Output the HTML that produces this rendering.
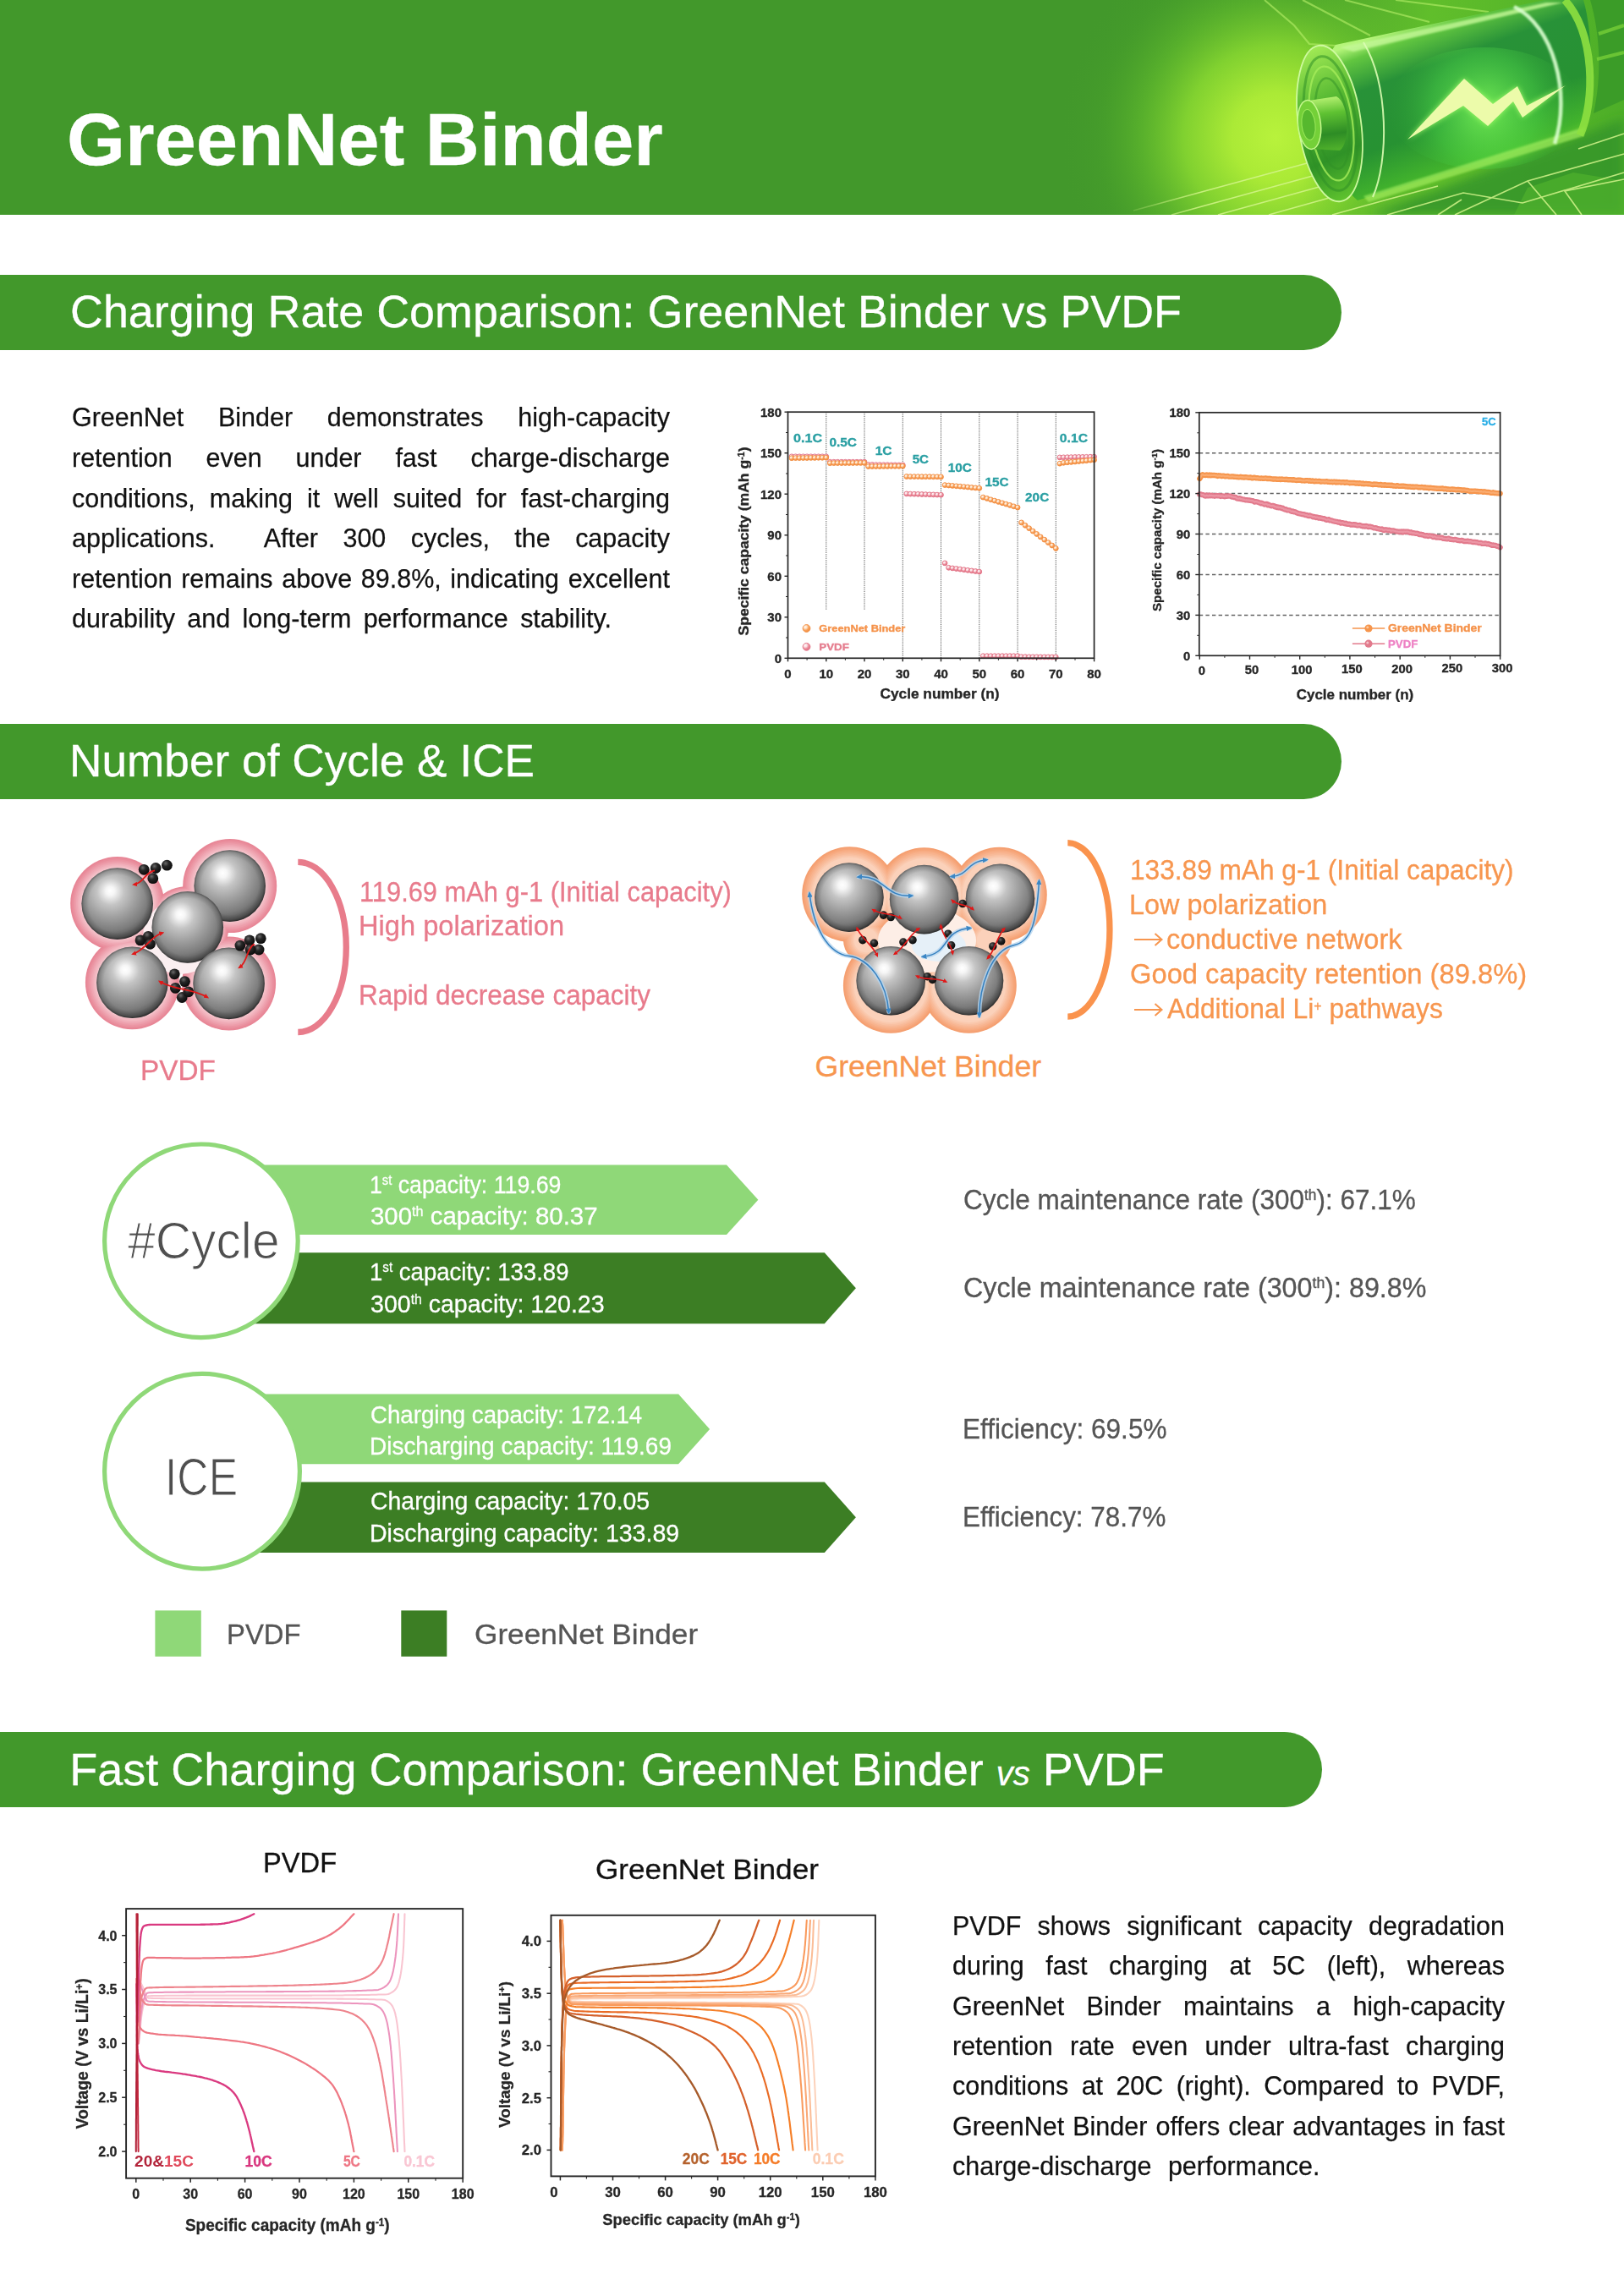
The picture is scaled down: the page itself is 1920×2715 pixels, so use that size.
<!DOCTYPE html>
<html lang="en"><head><meta charset="utf-8"><title>GreenNet Binder</title>
<style>
html,body{margin:0;padding:0;background:#fff}
body{width:1920px;height:2715px;position:relative;overflow:hidden;font-family:'Liberation Sans', sans-serif}
.abs{position:absolute}
.t{position:absolute;white-space:pre;margin:0;-webkit-text-stroke:0.3px currentColor}
.j{position:absolute;white-space:nowrap;text-align:justify;margin:0;-webkit-text-stroke:0.25px currentColor}
.blur{filter:blur(0.45px)}
.bar{position:absolute;left:0;height:89px;background:#42982b;border-radius:0 44.5px 44.5px 0}
</style></head>
<body>
<div class="abs" style="left:0;top:0;width:1920px;height:254px;background:#42982b"></div>
<svg class="abs" style="left:1100px;top:0" width="820" height="254" viewBox="1100 0 820 254">
<defs>
<radialGradient id="glow" gradientUnits="userSpaceOnUse" cx="1508" cy="162" r="258"><stop offset="0" stop-color="#b8f23c"/><stop offset="0.2" stop-color="#abea36"/><stop offset="0.42" stop-color="#84d430" stop-opacity="0.95"/><stop offset="0.62" stop-color="#60b92c" stop-opacity="0.7"/><stop offset="0.82" stop-color="#4aa32a" stop-opacity="0.3"/><stop offset="1" stop-color="#42982b" stop-opacity="0"/></radialGradient>
<linearGradient id="rt" gradientUnits="userSpaceOnUse" x1="1540" y1="0" x2="1920" y2="0"><stop offset="0" stop-color="#6cc82d" stop-opacity="0"/><stop offset="0.4" stop-color="#62c02b" stop-opacity="0.95"/><stop offset="1" stop-color="#4dae28"/></linearGradient>
<linearGradient id="body" gradientUnits="userSpaceOnUse" x1="1690" y1="20" x2="1762" y2="218"><stop offset="0" stop-color="#b5f57a"/><stop offset="0.08" stop-color="#62c640"/><stop offset="0.26" stop-color="#289238"/><stop offset="0.60" stop-color="#279232"/><stop offset="0.84" stop-color="#43b42c"/><stop offset="1" stop-color="#86de34"/></linearGradient>
<linearGradient id="cap" gradientUnits="userSpaceOnUse" x1="1545" y1="60" x2="1600" y2="235"><stop offset="0" stop-color="#a2ea55"/><stop offset="0.35" stop-color="#55b832"/><stop offset="0.7" stop-color="#2f9227"/><stop offset="1" stop-color="#63c72e"/></linearGradient>
<linearGradient id="nub" gradientUnits="userSpaceOnUse" x1="1560" y1="116" x2="1568" y2="178"><stop offset="0" stop-color="#b4f070"/><stop offset="0.3" stop-color="#5fc232"/><stop offset="0.7" stop-color="#2d8c25"/><stop offset="1" stop-color="#4fb02b"/></linearGradient>
<radialGradient id="boltglow" gradientUnits="userSpaceOnUse" cx="1755" cy="128" r="115"><stop offset="0" stop-color="#86ff5e" stop-opacity="0.8"/><stop offset="0.55" stop-color="#52dc4a" stop-opacity="0.4"/><stop offset="1" stop-color="#2c9a33" stop-opacity="0"/></radialGradient>
<linearGradient id="fade" gradientUnits="userSpaceOnUse" x1="1317" y1="0" x2="1420" y2="0"><stop offset="0" stop-color="#fff" stop-opacity="0"/><stop offset="1" stop-color="#fff"/></linearGradient>
<mask id="fm"><rect x="1100" y="0" width="820" height="254" fill="url(#fade)"/></mask>
<filter id="b1"><feGaussianBlur stdDeviation="1.2"/></filter><filter id="b3"><feGaussianBlur stdDeviation="3"/></filter><filter id="b6"><feGaussianBlur stdDeviation="6"/></filter>
</defs>
<rect x="1100" y="0" width="820" height="254" fill="url(#glow)"/>
<rect x="1540" y="0" width="380" height="254" fill="url(#rt)"/>
<path d="M1620,254 L1700,224 L1880,156 L1920,140 L1920,254 Z" fill="#35952a" opacity="0.85" filter="url(#b6)"/>
<path d="M1790,254 L1806,222 L1860,204 L1920,214 L1920,254 Z" fill="#56b82e" opacity="0.55"/>
<g mask="url(#fm)">
<g stroke="#d4f58c" stroke-width="1.7" fill="none" opacity="0.85"><path d="M1340,249 L1556,190"/><path d="M1385,254 L1570,203"/><path d="M1440,254 L1585,214"/><path d="M1500,254 L1600,226"/><path d="M1575,254 L1640,236 L1700,220"/><path d="M1640,254 L1730,228 L1800,240 L1920,204"/><path d="M1700,254 L1728,236"/><path d="M1720,254 L1806,214 L1920,182"/><path d="M1806,214 L1840,254"/><path d="M1870,254 L1850,226 L1920,212"/><path d="M1866,176 L1920,158"/></g>
<g stroke="#b8f06a" stroke-width="2.2" opacity="0.6" fill="none"><path d="M1495,0 L1530,30 L1548,52 L1580,54"/><path d="M1540,0 L1620,42"/><path d="M1590,0 L1690,26"/><path d="M1650,0 L1760,14"/></g>
</g>
<path d="M1579,53 L1826,0 L1872,0 C1884,40 1884,120 1874,154 L1605,237 C1560,200 1548,95 1579,53 Z" fill="url(#body)"/>
<ellipse cx="1755" cy="128" rx="115" ry="72" fill="url(#boltglow)"/>
<path d="M1584,56 L1828,3 L1848,3 L1600,61 Z" fill="#c6f99a" opacity="0.8" filter="url(#b1)"/>
<path d="M1612,232 L1874,150 L1872,161 L1618,239 Z" fill="#a5ee60" opacity="0.65" filter="url(#b1)"/>
<path d="M1790,8 C1836,30 1858,110 1838,170" fill="none" stroke="#dcffd0" stroke-width="4.5" opacity="0.9" filter="url(#b1)"/>
<path d="M1850,0 C1886,40 1886,120 1868,160" fill="none" stroke="#8ee040" stroke-width="9" opacity="0.9"/>
<path d="M1880,0 L1920,0 L1920,118 L1884,134 C1894,90 1892,40 1880,0Z" fill="#3a9a28" opacity="0.92"/>
<path d="M1890,40 L1920,30 M1888,70 L1920,62" stroke="#7ed63a" stroke-width="4" opacity="0.7"/>
<ellipse cx="1572" cy="146" rx="37" ry="93" transform="rotate(-8 1572 146)" fill="url(#cap)"/>
<ellipse cx="1572" cy="146" rx="37" ry="93" transform="rotate(-8 1572 146)" fill="none" stroke="#d2fba4" stroke-width="1.8" opacity="0.95"/>
<ellipse cx="1573" cy="146" rx="30" ry="80" transform="rotate(-8 1573 146)" fill="none" stroke="#2f8f26" stroke-width="3" opacity="0.55"/>
<ellipse cx="1574" cy="146" rx="25" ry="68" transform="rotate(-8 1574 146)" fill="none" stroke="#a5ec5a" stroke-width="2.2" opacity="0.8"/>
<ellipse cx="1575" cy="146" rx="19" ry="54" transform="rotate(-8 1575 146)" fill="none" stroke="#2f8f26" stroke-width="2.5" opacity="0.5"/>
<path d="M1612,50 C1642,100 1642,190 1623,233" fill="none" stroke="#dcfdb4" stroke-width="2" opacity="0.9"/>
<path d="M1547,119 L1580,114 C1596,122 1596,170 1584,178 L1551,176 Z" fill="url(#nub)"/>
<ellipse cx="1548" cy="147.5" rx="13.5" ry="29" transform="rotate(-6 1548 147.5)" fill="#74d038" stroke="#c6f88e" stroke-width="1.5"/>
<ellipse cx="1547" cy="147.5" rx="8" ry="18" transform="rotate(-6 1547 147.5)" fill="#56b82e" stroke="#9be85a" stroke-width="1"/>
<path d="M1664,165 L1731,93 L1765,123 L1794,102 L1805,125 L1851,101 L1800,139 L1789,120 L1759,149 L1730,125 Z" fill="#aaff70" opacity="0.85" filter="url(#b3)"/>
<path d="M1664,165 L1731,93 L1765,123 L1794,102 L1805,125 L1851,101 L1800,139 L1789,120 L1759,149 L1730,125 Z" fill="#ecfbaa"/>
</svg>
<div class="bar" style="top:324.5px;width:1586px"></div>
<div class="bar" style="top:855.7px;width:1586px"></div>
<div class="bar" style="top:2047.7px;width:1562.6px"></div>
<div class="j" style="left:84.8px;top:478.4px;width:734.9px;font-size:31.7px;line-height:31.7px;color:#111111;transform:scaleX(0.962);transform-origin:0 0;text-align-last:justify">GreenNet Binder demonstrates high-capacity</div>
<div class="j" style="left:84.8px;top:525.9px;width:734.9px;font-size:31.7px;line-height:31.7px;color:#111111;transform:scaleX(0.962);transform-origin:0 0;text-align-last:justify">retention even under fast charge-discharge</div>
<div class="j" style="left:84.8px;top:573.5px;width:734.9px;font-size:31.7px;line-height:31.7px;color:#111111;transform:scaleX(0.962);transform-origin:0 0;text-align-last:justify">conditions, making it well suited for fast-charging</div>
<div class="j" style="left:84.8px;top:621.0px;width:734.9px;font-size:31.7px;line-height:31.7px;color:#111111;transform:scaleX(0.962);transform-origin:0 0;text-align-last:justify">applications.&nbsp; After 300 cycles, the capacity</div>
<div class="j" style="left:84.8px;top:668.6px;width:734.9px;font-size:31.7px;line-height:31.7px;color:#111111;transform:scaleX(0.962);transform-origin:0 0;text-align-last:justify">retention remains above 89.8%, indicating excellent</div>
<div class="j" style="left:84.8px;top:716.1px;width:663.2px;font-size:31.7px;line-height:31.7px;color:#111111;transform:scaleX(0.962);transform-origin:0 0;text-align-last:justify">durability and long-term performance stability.</div>
<div class="j" style="left:1126.3px;top:2262.0px;width:678.8px;font-size:31.7px;line-height:31.7px;color:#111111;transform:scaleX(0.962);transform-origin:0 0;text-align-last:justify">PVDF shows significant capacity degradation</div>
<div class="j" style="left:1126.3px;top:2309.3px;width:678.8px;font-size:31.7px;line-height:31.7px;color:#111111;transform:scaleX(0.962);transform-origin:0 0;text-align-last:justify">during fast charging at 5C (left), whereas</div>
<div class="j" style="left:1126.3px;top:2356.7px;width:678.8px;font-size:31.7px;line-height:31.7px;color:#111111;transform:scaleX(0.962);transform-origin:0 0;text-align-last:justify">GreenNet Binder maintains a high-capacity</div>
<div class="j" style="left:1126.3px;top:2404.1px;width:678.8px;font-size:31.7px;line-height:31.7px;color:#111111;transform:scaleX(0.962);transform-origin:0 0;text-align-last:justify">retention rate even under ultra-fast charging</div>
<div class="j" style="left:1126.3px;top:2451.4px;width:678.8px;font-size:31.7px;line-height:31.7px;color:#111111;transform:scaleX(0.962);transform-origin:0 0;text-align-last:justify">conditions at 20C (right). Compared to PVDF,</div>
<div class="j" style="left:1126.3px;top:2498.8px;width:678.8px;font-size:31.7px;line-height:31.7px;color:#111111;transform:scaleX(0.962);transform-origin:0 0;text-align-last:justify">GreenNet Binder offers clear advantages in fast</div>
<div class="j" style="left:1126.3px;top:2546.2px;width:451.7px;font-size:31.7px;line-height:31.7px;color:#111111;transform:scaleX(0.962);transform-origin:0 0;text-align-last:justify">charge-discharge performance.</div>
<svg class="abs blur" style="left:850px;top:460px" width="490" height="390" viewBox="850 460 490 390">
<defs>
<radialGradient id="mo" cx="35%" cy="32%" r="70%"><stop offset="0" stop-color="#fffaf4"/><stop offset="0.3" stop-color="#fde0c4"/><stop offset="0.62" stop-color="#f9a25c"/><stop offset="1" stop-color="#f08a3c"/></radialGradient>
<radialGradient id="mp" cx="35%" cy="32%" r="70%"><stop offset="0" stop-color="#fff8f9"/><stop offset="0.3" stop-color="#fadde2"/><stop offset="0.62" stop-color="#ec8c9b"/><stop offset="1" stop-color="#e06f83"/></radialGradient>
</defs>
<line x1="976.8" y1="487.2" x2="976.8" y2="721.7" stroke="#444" stroke-width="0.9" stroke-dasharray="1.2 1.1"/>
<line x1="1022.0" y1="487.2" x2="1022.0" y2="721.7" stroke="#444" stroke-width="0.9" stroke-dasharray="1.2 1.1"/>
<line x1="1067.3" y1="487.2" x2="1067.3" y2="778.3" stroke="#444" stroke-width="0.9" stroke-dasharray="1.2 1.1"/>
<line x1="1112.5" y1="487.2" x2="1112.5" y2="778.3" stroke="#444" stroke-width="0.9" stroke-dasharray="1.2 1.1"/>
<line x1="1157.8" y1="487.2" x2="1157.8" y2="778.3" stroke="#444" stroke-width="0.9" stroke-dasharray="1.2 1.1"/>
<line x1="1203.1" y1="487.2" x2="1203.1" y2="778.3" stroke="#444" stroke-width="0.9" stroke-dasharray="1.2 1.1"/>
<line x1="1248.3" y1="487.2" x2="1248.3" y2="778.3" stroke="#444" stroke-width="0.9" stroke-dasharray="1.2 1.1"/>
<circle cx="936.0" cy="539.8" r="2.9" fill="url(#mp)" stroke="#e27588" stroke-width="0.9"/>
<circle cx="940.6" cy="539.8" r="2.9" fill="url(#mp)" stroke="#e27588" stroke-width="0.9"/>
<circle cx="945.1" cy="539.8" r="2.9" fill="url(#mp)" stroke="#e27588" stroke-width="0.9"/>
<circle cx="949.6" cy="539.8" r="2.9" fill="url(#mp)" stroke="#e27588" stroke-width="0.9"/>
<circle cx="954.1" cy="539.8" r="2.9" fill="url(#mp)" stroke="#e27588" stroke-width="0.9"/>
<circle cx="958.7" cy="539.8" r="2.9" fill="url(#mp)" stroke="#e27588" stroke-width="0.9"/>
<circle cx="963.2" cy="539.8" r="2.9" fill="url(#mp)" stroke="#e27588" stroke-width="0.9"/>
<circle cx="967.7" cy="539.8" r="2.9" fill="url(#mp)" stroke="#e27588" stroke-width="0.9"/>
<circle cx="972.2" cy="539.8" r="2.9" fill="url(#mp)" stroke="#e27588" stroke-width="0.9"/>
<circle cx="976.8" cy="539.8" r="2.9" fill="url(#mp)" stroke="#e27588" stroke-width="0.9"/>
<circle cx="981.3" cy="546.2" r="2.9" fill="url(#mp)" stroke="#e27588" stroke-width="0.9"/>
<circle cx="985.8" cy="546.2" r="2.9" fill="url(#mp)" stroke="#e27588" stroke-width="0.9"/>
<circle cx="990.3" cy="546.2" r="2.9" fill="url(#mp)" stroke="#e27588" stroke-width="0.9"/>
<circle cx="994.9" cy="546.2" r="2.9" fill="url(#mp)" stroke="#e27588" stroke-width="0.9"/>
<circle cx="999.4" cy="546.2" r="2.9" fill="url(#mp)" stroke="#e27588" stroke-width="0.9"/>
<circle cx="1003.9" cy="546.2" r="2.9" fill="url(#mp)" stroke="#e27588" stroke-width="0.9"/>
<circle cx="1008.4" cy="546.2" r="2.9" fill="url(#mp)" stroke="#e27588" stroke-width="0.9"/>
<circle cx="1013.0" cy="546.2" r="2.9" fill="url(#mp)" stroke="#e27588" stroke-width="0.9"/>
<circle cx="1017.5" cy="546.2" r="2.9" fill="url(#mp)" stroke="#e27588" stroke-width="0.9"/>
<circle cx="1022.0" cy="546.2" r="2.9" fill="url(#mp)" stroke="#e27588" stroke-width="0.9"/>
<circle cx="1026.6" cy="549.5" r="2.9" fill="url(#mp)" stroke="#e27588" stroke-width="0.9"/>
<circle cx="1031.1" cy="549.5" r="2.9" fill="url(#mp)" stroke="#e27588" stroke-width="0.9"/>
<circle cx="1035.6" cy="549.6" r="2.9" fill="url(#mp)" stroke="#e27588" stroke-width="0.9"/>
<circle cx="1040.1" cy="549.6" r="2.9" fill="url(#mp)" stroke="#e27588" stroke-width="0.9"/>
<circle cx="1044.7" cy="549.7" r="2.9" fill="url(#mp)" stroke="#e27588" stroke-width="0.9"/>
<circle cx="1049.2" cy="549.7" r="2.9" fill="url(#mp)" stroke="#e27588" stroke-width="0.9"/>
<circle cx="1053.7" cy="549.8" r="2.9" fill="url(#mp)" stroke="#e27588" stroke-width="0.9"/>
<circle cx="1058.2" cy="549.8" r="2.9" fill="url(#mp)" stroke="#e27588" stroke-width="0.9"/>
<circle cx="1062.8" cy="549.9" r="2.9" fill="url(#mp)" stroke="#e27588" stroke-width="0.9"/>
<circle cx="1067.3" cy="549.9" r="2.9" fill="url(#mp)" stroke="#e27588" stroke-width="0.9"/>
<circle cx="1071.8" cy="583.9" r="2.9" fill="url(#mp)" stroke="#e27588" stroke-width="0.9"/>
<circle cx="1076.3" cy="584.1" r="2.9" fill="url(#mp)" stroke="#e27588" stroke-width="0.9"/>
<circle cx="1080.9" cy="584.2" r="2.9" fill="url(#mp)" stroke="#e27588" stroke-width="0.9"/>
<circle cx="1085.4" cy="584.3" r="2.9" fill="url(#mp)" stroke="#e27588" stroke-width="0.9"/>
<circle cx="1089.9" cy="584.5" r="2.9" fill="url(#mp)" stroke="#e27588" stroke-width="0.9"/>
<circle cx="1094.4" cy="584.6" r="2.9" fill="url(#mp)" stroke="#e27588" stroke-width="0.9"/>
<circle cx="1099.0" cy="584.8" r="2.9" fill="url(#mp)" stroke="#e27588" stroke-width="0.9"/>
<circle cx="1103.5" cy="584.9" r="2.9" fill="url(#mp)" stroke="#e27588" stroke-width="0.9"/>
<circle cx="1108.0" cy="585.1" r="2.9" fill="url(#mp)" stroke="#e27588" stroke-width="0.9"/>
<circle cx="1112.5" cy="585.2" r="2.9" fill="url(#mp)" stroke="#e27588" stroke-width="0.9"/>
<circle cx="1117.1" cy="665.9" r="2.9" fill="url(#mp)" stroke="#e27588" stroke-width="0.9"/>
<circle cx="1121.6" cy="671.3" r="2.9" fill="url(#mp)" stroke="#e27588" stroke-width="0.9"/>
<circle cx="1126.1" cy="671.9" r="2.9" fill="url(#mp)" stroke="#e27588" stroke-width="0.9"/>
<circle cx="1130.7" cy="672.5" r="2.9" fill="url(#mp)" stroke="#e27588" stroke-width="0.9"/>
<circle cx="1135.2" cy="673.1" r="2.9" fill="url(#mp)" stroke="#e27588" stroke-width="0.9"/>
<circle cx="1139.7" cy="673.7" r="2.9" fill="url(#mp)" stroke="#e27588" stroke-width="0.9"/>
<circle cx="1144.2" cy="674.3" r="2.9" fill="url(#mp)" stroke="#e27588" stroke-width="0.9"/>
<circle cx="1148.8" cy="674.9" r="2.9" fill="url(#mp)" stroke="#e27588" stroke-width="0.9"/>
<circle cx="1153.3" cy="675.5" r="2.9" fill="url(#mp)" stroke="#e27588" stroke-width="0.9"/>
<circle cx="1157.8" cy="676.1" r="2.9" fill="url(#mp)" stroke="#e27588" stroke-width="0.9"/>
<circle cx="1162.3" cy="775.7" r="2.9" fill="url(#mp)" stroke="#e27588" stroke-width="0.9"/>
<circle cx="1166.9" cy="775.7" r="2.9" fill="url(#mp)" stroke="#e27588" stroke-width="0.9"/>
<circle cx="1171.4" cy="775.7" r="2.9" fill="url(#mp)" stroke="#e27588" stroke-width="0.9"/>
<circle cx="1175.9" cy="775.7" r="2.9" fill="url(#mp)" stroke="#e27588" stroke-width="0.9"/>
<circle cx="1180.4" cy="775.7" r="2.9" fill="url(#mp)" stroke="#e27588" stroke-width="0.9"/>
<circle cx="1185.0" cy="775.7" r="2.9" fill="url(#mp)" stroke="#e27588" stroke-width="0.9"/>
<circle cx="1189.5" cy="775.7" r="2.9" fill="url(#mp)" stroke="#e27588" stroke-width="0.9"/>
<circle cx="1194.0" cy="775.7" r="2.9" fill="url(#mp)" stroke="#e27588" stroke-width="0.9"/>
<circle cx="1198.5" cy="775.7" r="2.9" fill="url(#mp)" stroke="#e27588" stroke-width="0.9"/>
<circle cx="1203.1" cy="775.7" r="2.9" fill="url(#mp)" stroke="#e27588" stroke-width="0.9"/>
<circle cx="1207.6" cy="776.7" r="2.9" fill="url(#mp)" stroke="#e27588" stroke-width="0.9"/>
<circle cx="1212.1" cy="776.7" r="2.9" fill="url(#mp)" stroke="#e27588" stroke-width="0.9"/>
<circle cx="1216.7" cy="776.8" r="2.9" fill="url(#mp)" stroke="#e27588" stroke-width="0.9"/>
<circle cx="1221.2" cy="776.8" r="2.9" fill="url(#mp)" stroke="#e27588" stroke-width="0.9"/>
<circle cx="1225.7" cy="776.8" r="2.9" fill="url(#mp)" stroke="#e27588" stroke-width="0.9"/>
<circle cx="1230.2" cy="776.9" r="2.9" fill="url(#mp)" stroke="#e27588" stroke-width="0.9"/>
<circle cx="1234.8" cy="776.9" r="2.9" fill="url(#mp)" stroke="#e27588" stroke-width="0.9"/>
<circle cx="1239.3" cy="776.9" r="2.9" fill="url(#mp)" stroke="#e27588" stroke-width="0.9"/>
<circle cx="1243.8" cy="777.0" r="2.9" fill="url(#mp)" stroke="#e27588" stroke-width="0.9"/>
<circle cx="1248.3" cy="777.0" r="2.9" fill="url(#mp)" stroke="#e27588" stroke-width="0.9"/>
<circle cx="1252.9" cy="540.9" r="2.9" fill="url(#mp)" stroke="#e27588" stroke-width="0.9"/>
<circle cx="1257.4" cy="540.8" r="2.9" fill="url(#mp)" stroke="#e27588" stroke-width="0.9"/>
<circle cx="1261.9" cy="540.7" r="2.9" fill="url(#mp)" stroke="#e27588" stroke-width="0.9"/>
<circle cx="1266.4" cy="540.6" r="2.9" fill="url(#mp)" stroke="#e27588" stroke-width="0.9"/>
<circle cx="1271.0" cy="540.5" r="2.9" fill="url(#mp)" stroke="#e27588" stroke-width="0.9"/>
<circle cx="1275.5" cy="540.4" r="2.9" fill="url(#mp)" stroke="#e27588" stroke-width="0.9"/>
<circle cx="1280.0" cy="540.4" r="2.9" fill="url(#mp)" stroke="#e27588" stroke-width="0.9"/>
<circle cx="1284.5" cy="540.3" r="2.9" fill="url(#mp)" stroke="#e27588" stroke-width="0.9"/>
<circle cx="1289.1" cy="540.2" r="2.9" fill="url(#mp)" stroke="#e27588" stroke-width="0.9"/>
<circle cx="1293.6" cy="540.1" r="2.9" fill="url(#mp)" stroke="#e27588" stroke-width="0.9"/>
<circle cx="936.0" cy="541.7" r="2.9" fill="url(#mo)" stroke="#f28d42" stroke-width="0.9"/>
<circle cx="940.6" cy="541.6" r="2.9" fill="url(#mo)" stroke="#f28d42" stroke-width="0.9"/>
<circle cx="945.1" cy="541.6" r="2.9" fill="url(#mo)" stroke="#f28d42" stroke-width="0.9"/>
<circle cx="949.6" cy="541.5" r="2.9" fill="url(#mo)" stroke="#f28d42" stroke-width="0.9"/>
<circle cx="954.1" cy="541.5" r="2.9" fill="url(#mo)" stroke="#f28d42" stroke-width="0.9"/>
<circle cx="958.7" cy="541.4" r="2.9" fill="url(#mo)" stroke="#f28d42" stroke-width="0.9"/>
<circle cx="963.2" cy="541.4" r="2.9" fill="url(#mo)" stroke="#f28d42" stroke-width="0.9"/>
<circle cx="967.7" cy="541.3" r="2.9" fill="url(#mo)" stroke="#f28d42" stroke-width="0.9"/>
<circle cx="972.2" cy="541.3" r="2.9" fill="url(#mo)" stroke="#f28d42" stroke-width="0.9"/>
<circle cx="976.8" cy="541.2" r="2.9" fill="url(#mo)" stroke="#f28d42" stroke-width="0.9"/>
<circle cx="981.3" cy="547.7" r="2.9" fill="url(#mo)" stroke="#f28d42" stroke-width="0.9"/>
<circle cx="985.8" cy="547.6" r="2.9" fill="url(#mo)" stroke="#f28d42" stroke-width="0.9"/>
<circle cx="990.3" cy="547.6" r="2.9" fill="url(#mo)" stroke="#f28d42" stroke-width="0.9"/>
<circle cx="994.9" cy="547.6" r="2.9" fill="url(#mo)" stroke="#f28d42" stroke-width="0.9"/>
<circle cx="999.4" cy="547.5" r="2.9" fill="url(#mo)" stroke="#f28d42" stroke-width="0.9"/>
<circle cx="1003.9" cy="547.5" r="2.9" fill="url(#mo)" stroke="#f28d42" stroke-width="0.9"/>
<circle cx="1008.4" cy="547.5" r="2.9" fill="url(#mo)" stroke="#f28d42" stroke-width="0.9"/>
<circle cx="1013.0" cy="547.4" r="2.9" fill="url(#mo)" stroke="#f28d42" stroke-width="0.9"/>
<circle cx="1017.5" cy="547.4" r="2.9" fill="url(#mo)" stroke="#f28d42" stroke-width="0.9"/>
<circle cx="1022.0" cy="547.4" r="2.9" fill="url(#mo)" stroke="#f28d42" stroke-width="0.9"/>
<circle cx="1026.6" cy="551.6" r="2.9" fill="url(#mo)" stroke="#f28d42" stroke-width="0.9"/>
<circle cx="1031.1" cy="551.5" r="2.9" fill="url(#mo)" stroke="#f28d42" stroke-width="0.9"/>
<circle cx="1035.6" cy="551.5" r="2.9" fill="url(#mo)" stroke="#f28d42" stroke-width="0.9"/>
<circle cx="1040.1" cy="551.5" r="2.9" fill="url(#mo)" stroke="#f28d42" stroke-width="0.9"/>
<circle cx="1044.7" cy="551.4" r="2.9" fill="url(#mo)" stroke="#f28d42" stroke-width="0.9"/>
<circle cx="1049.2" cy="551.4" r="2.9" fill="url(#mo)" stroke="#f28d42" stroke-width="0.9"/>
<circle cx="1053.7" cy="551.3" r="2.9" fill="url(#mo)" stroke="#f28d42" stroke-width="0.9"/>
<circle cx="1058.2" cy="551.3" r="2.9" fill="url(#mo)" stroke="#f28d42" stroke-width="0.9"/>
<circle cx="1062.8" cy="551.3" r="2.9" fill="url(#mo)" stroke="#f28d42" stroke-width="0.9"/>
<circle cx="1067.3" cy="551.2" r="2.9" fill="url(#mo)" stroke="#f28d42" stroke-width="0.9"/>
<circle cx="1071.8" cy="563.5" r="2.9" fill="url(#mo)" stroke="#f28d42" stroke-width="0.9"/>
<circle cx="1076.3" cy="563.6" r="2.9" fill="url(#mo)" stroke="#f28d42" stroke-width="0.9"/>
<circle cx="1080.9" cy="563.6" r="2.9" fill="url(#mo)" stroke="#f28d42" stroke-width="0.9"/>
<circle cx="1085.4" cy="563.6" r="2.9" fill="url(#mo)" stroke="#f28d42" stroke-width="0.9"/>
<circle cx="1089.9" cy="563.7" r="2.9" fill="url(#mo)" stroke="#f28d42" stroke-width="0.9"/>
<circle cx="1094.4" cy="563.7" r="2.9" fill="url(#mo)" stroke="#f28d42" stroke-width="0.9"/>
<circle cx="1099.0" cy="563.7" r="2.9" fill="url(#mo)" stroke="#f28d42" stroke-width="0.9"/>
<circle cx="1103.5" cy="563.8" r="2.9" fill="url(#mo)" stroke="#f28d42" stroke-width="0.9"/>
<circle cx="1108.0" cy="563.8" r="2.9" fill="url(#mo)" stroke="#f28d42" stroke-width="0.9"/>
<circle cx="1112.5" cy="563.9" r="2.9" fill="url(#mo)" stroke="#f28d42" stroke-width="0.9"/>
<circle cx="1117.1" cy="573.6" r="2.9" fill="url(#mo)" stroke="#f28d42" stroke-width="0.9"/>
<circle cx="1121.6" cy="574.0" r="2.9" fill="url(#mo)" stroke="#f28d42" stroke-width="0.9"/>
<circle cx="1126.1" cy="574.4" r="2.9" fill="url(#mo)" stroke="#f28d42" stroke-width="0.9"/>
<circle cx="1130.7" cy="574.8" r="2.9" fill="url(#mo)" stroke="#f28d42" stroke-width="0.9"/>
<circle cx="1135.2" cy="575.2" r="2.9" fill="url(#mo)" stroke="#f28d42" stroke-width="0.9"/>
<circle cx="1139.7" cy="575.6" r="2.9" fill="url(#mo)" stroke="#f28d42" stroke-width="0.9"/>
<circle cx="1144.2" cy="576.0" r="2.9" fill="url(#mo)" stroke="#f28d42" stroke-width="0.9"/>
<circle cx="1148.8" cy="576.5" r="2.9" fill="url(#mo)" stroke="#f28d42" stroke-width="0.9"/>
<circle cx="1153.3" cy="576.9" r="2.9" fill="url(#mo)" stroke="#f28d42" stroke-width="0.9"/>
<circle cx="1157.8" cy="577.3" r="2.9" fill="url(#mo)" stroke="#f28d42" stroke-width="0.9"/>
<circle cx="1162.3" cy="588.1" r="2.9" fill="url(#mo)" stroke="#f28d42" stroke-width="0.9"/>
<circle cx="1166.9" cy="589.4" r="2.9" fill="url(#mo)" stroke="#f28d42" stroke-width="0.9"/>
<circle cx="1171.4" cy="590.8" r="2.9" fill="url(#mo)" stroke="#f28d42" stroke-width="0.9"/>
<circle cx="1175.9" cy="592.1" r="2.9" fill="url(#mo)" stroke="#f28d42" stroke-width="0.9"/>
<circle cx="1180.4" cy="593.4" r="2.9" fill="url(#mo)" stroke="#f28d42" stroke-width="0.9"/>
<circle cx="1185.0" cy="594.8" r="2.9" fill="url(#mo)" stroke="#f28d42" stroke-width="0.9"/>
<circle cx="1189.5" cy="596.1" r="2.9" fill="url(#mo)" stroke="#f28d42" stroke-width="0.9"/>
<circle cx="1194.0" cy="597.4" r="2.9" fill="url(#mo)" stroke="#f28d42" stroke-width="0.9"/>
<circle cx="1198.5" cy="598.8" r="2.9" fill="url(#mo)" stroke="#f28d42" stroke-width="0.9"/>
<circle cx="1203.1" cy="600.1" r="2.9" fill="url(#mo)" stroke="#f28d42" stroke-width="0.9"/>
<circle cx="1207.6" cy="617.9" r="2.9" fill="url(#mo)" stroke="#f28d42" stroke-width="0.9"/>
<circle cx="1212.1" cy="621.3" r="2.9" fill="url(#mo)" stroke="#f28d42" stroke-width="0.9"/>
<circle cx="1216.7" cy="624.7" r="2.9" fill="url(#mo)" stroke="#f28d42" stroke-width="0.9"/>
<circle cx="1221.2" cy="628.1" r="2.9" fill="url(#mo)" stroke="#f28d42" stroke-width="0.9"/>
<circle cx="1225.7" cy="631.5" r="2.9" fill="url(#mo)" stroke="#f28d42" stroke-width="0.9"/>
<circle cx="1230.2" cy="634.9" r="2.9" fill="url(#mo)" stroke="#f28d42" stroke-width="0.9"/>
<circle cx="1234.8" cy="638.2" r="2.9" fill="url(#mo)" stroke="#f28d42" stroke-width="0.9"/>
<circle cx="1239.3" cy="641.6" r="2.9" fill="url(#mo)" stroke="#f28d42" stroke-width="0.9"/>
<circle cx="1243.8" cy="645.0" r="2.9" fill="url(#mo)" stroke="#f28d42" stroke-width="0.9"/>
<circle cx="1248.3" cy="648.4" r="2.9" fill="url(#mo)" stroke="#f28d42" stroke-width="0.9"/>
<circle cx="1252.9" cy="548.2" r="2.9" fill="url(#mo)" stroke="#f28d42" stroke-width="0.9"/>
<circle cx="1257.4" cy="547.3" r="2.9" fill="url(#mo)" stroke="#f28d42" stroke-width="0.9"/>
<circle cx="1261.9" cy="546.8" r="2.9" fill="url(#mo)" stroke="#f28d42" stroke-width="0.9"/>
<circle cx="1266.4" cy="546.4" r="2.9" fill="url(#mo)" stroke="#f28d42" stroke-width="0.9"/>
<circle cx="1271.0" cy="546.0" r="2.9" fill="url(#mo)" stroke="#f28d42" stroke-width="0.9"/>
<circle cx="1275.5" cy="545.5" r="2.9" fill="url(#mo)" stroke="#f28d42" stroke-width="0.9"/>
<circle cx="1280.0" cy="545.1" r="2.9" fill="url(#mo)" stroke="#f28d42" stroke-width="0.9"/>
<circle cx="1284.5" cy="544.7" r="2.9" fill="url(#mo)" stroke="#f28d42" stroke-width="0.9"/>
<circle cx="1289.1" cy="544.2" r="2.9" fill="url(#mo)" stroke="#f28d42" stroke-width="0.9"/>
<circle cx="1293.6" cy="543.8" r="2.9" fill="url(#mo)" stroke="#f28d42" stroke-width="0.9"/>
<rect x="931.5" y="487.2" width="362.1" height="291.1" fill="none" stroke="#262626" stroke-width="1.7"/>
<line x1="927.5" y1="778.3" x2="931.5" y2="778.3" stroke="#262626" stroke-width="1.4"/>
<text x="924.0" y="783.6" font-family="'Liberation Sans', sans-serif" font-weight="700" font-size="15" fill="#262626" stroke="#262626" stroke-width="0.35" text-anchor="end">0</text>
<line x1="927.5" y1="729.8" x2="931.5" y2="729.8" stroke="#262626" stroke-width="1.4"/>
<text x="924.0" y="735.1" font-family="'Liberation Sans', sans-serif" font-weight="700" font-size="15" fill="#262626" stroke="#262626" stroke-width="0.35" text-anchor="end">30</text>
<line x1="927.5" y1="681.3" x2="931.5" y2="681.3" stroke="#262626" stroke-width="1.4"/>
<text x="924.0" y="686.6" font-family="'Liberation Sans', sans-serif" font-weight="700" font-size="15" fill="#262626" stroke="#262626" stroke-width="0.35" text-anchor="end">60</text>
<line x1="927.5" y1="632.8" x2="931.5" y2="632.8" stroke="#262626" stroke-width="1.4"/>
<text x="924.0" y="638.0" font-family="'Liberation Sans', sans-serif" font-weight="700" font-size="15" fill="#262626" stroke="#262626" stroke-width="0.35" text-anchor="end">90</text>
<line x1="927.5" y1="584.2" x2="931.5" y2="584.2" stroke="#262626" stroke-width="1.4"/>
<text x="924.0" y="589.5" font-family="'Liberation Sans', sans-serif" font-weight="700" font-size="15" fill="#262626" stroke="#262626" stroke-width="0.35" text-anchor="end">120</text>
<line x1="927.5" y1="535.7" x2="931.5" y2="535.7" stroke="#262626" stroke-width="1.4"/>
<text x="924.0" y="541.0" font-family="'Liberation Sans', sans-serif" font-weight="700" font-size="15" fill="#262626" stroke="#262626" stroke-width="0.35" text-anchor="end">150</text>
<line x1="927.5" y1="487.2" x2="931.5" y2="487.2" stroke="#262626" stroke-width="1.4"/>
<text x="924.0" y="492.5" font-family="'Liberation Sans', sans-serif" font-weight="700" font-size="15" fill="#262626" stroke="#262626" stroke-width="0.35" text-anchor="end">180</text>
<line x1="929.0" y1="754.0" x2="931.5" y2="754.0" stroke="#262626" stroke-width="1"/>
<line x1="929.0" y1="705.5" x2="931.5" y2="705.5" stroke="#262626" stroke-width="1"/>
<line x1="929.0" y1="657.0" x2="931.5" y2="657.0" stroke="#262626" stroke-width="1"/>
<line x1="929.0" y1="608.5" x2="931.5" y2="608.5" stroke="#262626" stroke-width="1"/>
<line x1="929.0" y1="560.0" x2="931.5" y2="560.0" stroke="#262626" stroke-width="1"/>
<line x1="929.0" y1="511.5" x2="931.5" y2="511.5" stroke="#262626" stroke-width="1"/>
<line x1="931.5" y1="778.3" x2="931.5" y2="782.3" stroke="#262626" stroke-width="1.4"/>
<text x="931.5" y="801.5" font-family="'Liberation Sans', sans-serif" font-weight="700" font-size="15" fill="#262626" stroke="#262626" stroke-width="0.35" text-anchor="middle">0</text>
<line x1="976.8" y1="778.3" x2="976.8" y2="782.3" stroke="#262626" stroke-width="1.4"/>
<text x="976.8" y="801.5" font-family="'Liberation Sans', sans-serif" font-weight="700" font-size="15" fill="#262626" stroke="#262626" stroke-width="0.35" text-anchor="middle">10</text>
<line x1="1022.0" y1="778.3" x2="1022.0" y2="782.3" stroke="#262626" stroke-width="1.4"/>
<text x="1022.0" y="801.5" font-family="'Liberation Sans', sans-serif" font-weight="700" font-size="15" fill="#262626" stroke="#262626" stroke-width="0.35" text-anchor="middle">20</text>
<line x1="1067.3" y1="778.3" x2="1067.3" y2="782.3" stroke="#262626" stroke-width="1.4"/>
<text x="1067.3" y="801.5" font-family="'Liberation Sans', sans-serif" font-weight="700" font-size="15" fill="#262626" stroke="#262626" stroke-width="0.35" text-anchor="middle">30</text>
<line x1="1112.5" y1="778.3" x2="1112.5" y2="782.3" stroke="#262626" stroke-width="1.4"/>
<text x="1112.5" y="801.5" font-family="'Liberation Sans', sans-serif" font-weight="700" font-size="15" fill="#262626" stroke="#262626" stroke-width="0.35" text-anchor="middle">40</text>
<line x1="1157.8" y1="778.3" x2="1157.8" y2="782.3" stroke="#262626" stroke-width="1.4"/>
<text x="1157.8" y="801.5" font-family="'Liberation Sans', sans-serif" font-weight="700" font-size="15" fill="#262626" stroke="#262626" stroke-width="0.35" text-anchor="middle">50</text>
<line x1="1203.1" y1="778.3" x2="1203.1" y2="782.3" stroke="#262626" stroke-width="1.4"/>
<text x="1203.1" y="801.5" font-family="'Liberation Sans', sans-serif" font-weight="700" font-size="15" fill="#262626" stroke="#262626" stroke-width="0.35" text-anchor="middle">60</text>
<line x1="1248.3" y1="778.3" x2="1248.3" y2="782.3" stroke="#262626" stroke-width="1.4"/>
<text x="1248.3" y="801.5" font-family="'Liberation Sans', sans-serif" font-weight="700" font-size="15" fill="#262626" stroke="#262626" stroke-width="0.35" text-anchor="middle">70</text>
<line x1="1293.6" y1="778.3" x2="1293.6" y2="782.3" stroke="#262626" stroke-width="1.4"/>
<text x="1293.6" y="801.5" font-family="'Liberation Sans', sans-serif" font-weight="700" font-size="15" fill="#262626" stroke="#262626" stroke-width="0.35" text-anchor="middle">80</text>
<line x1="954.1" y1="778.3" x2="954.1" y2="780.8" stroke="#262626" stroke-width="1"/>
<line x1="999.4" y1="778.3" x2="999.4" y2="780.8" stroke="#262626" stroke-width="1"/>
<line x1="1044.7" y1="778.3" x2="1044.7" y2="780.8" stroke="#262626" stroke-width="1"/>
<line x1="1089.9" y1="778.3" x2="1089.9" y2="780.8" stroke="#262626" stroke-width="1"/>
<line x1="1135.2" y1="778.3" x2="1135.2" y2="780.8" stroke="#262626" stroke-width="1"/>
<line x1="1180.4" y1="778.3" x2="1180.4" y2="780.8" stroke="#262626" stroke-width="1"/>
<line x1="1225.7" y1="778.3" x2="1225.7" y2="780.8" stroke="#262626" stroke-width="1"/>
<line x1="1271.0" y1="778.3" x2="1271.0" y2="780.8" stroke="#262626" stroke-width="1"/>
<text x="1111" y="825.5" font-family="'Liberation Sans', sans-serif" font-weight="700" font-size="16.5" fill="#262626" stroke="#262626" stroke-width="0.35" text-anchor="middle" textLength="141" lengthAdjust="spacingAndGlyphs">Cycle number (n)</text>
<text transform="translate(884.5,640) rotate(-90)" font-family="'Liberation Sans', sans-serif" font-weight="700" font-size="16.5" fill="#262626" stroke="#262626" stroke-width="0.35" text-anchor="middle" textLength="223" lengthAdjust="spacingAndGlyphs">Specific capacity (mAh g<tspan dy="-5" font-size="10">-1</tspan><tspan dy="5">)</tspan></text>
<text x="938.1" y="522.8" font-family="'Liberation Sans', sans-serif" font-weight="700" font-size="15.5" fill="#2a9fa3" stroke="#2a9fa3" stroke-width="0.35" textLength="34.1" lengthAdjust="spacingAndGlyphs">0.1C</text>
<text x="980.4" y="528.2" font-family="'Liberation Sans', sans-serif" font-weight="700" font-size="15.5" fill="#2a9fa3" stroke="#2a9fa3" stroke-width="0.35" textLength="32.6" lengthAdjust="spacingAndGlyphs">0.5C</text>
<text x="1034.7" y="537.9" font-family="'Liberation Sans', sans-serif" font-weight="700" font-size="15.5" fill="#2a9fa3" stroke="#2a9fa3" stroke-width="0.35" textLength="19.9" lengthAdjust="spacingAndGlyphs">1C</text>
<text x="1078.7" y="548.1" font-family="'Liberation Sans', sans-serif" font-weight="700" font-size="15.5" fill="#2a9fa3" stroke="#2a9fa3" stroke-width="0.35" textLength="19.3" lengthAdjust="spacingAndGlyphs">5C</text>
<text x="1120.7" y="558.4" font-family="'Liberation Sans', sans-serif" font-weight="700" font-size="15.5" fill="#2a9fa3" stroke="#2a9fa3" stroke-width="0.35" textLength="28.1" lengthAdjust="spacingAndGlyphs">10C</text>
<text x="1164.4" y="575.0" font-family="'Liberation Sans', sans-serif" font-weight="700" font-size="15.5" fill="#2a9fa3" stroke="#2a9fa3" stroke-width="0.35" textLength="28.1" lengthAdjust="spacingAndGlyphs">15C</text>
<text x="1212.1" y="593.1" font-family="'Liberation Sans', sans-serif" font-weight="700" font-size="15.5" fill="#2a9fa3" stroke="#2a9fa3" stroke-width="0.35" textLength="28.1" lengthAdjust="spacingAndGlyphs">20C</text>
<text x="1252.8" y="522.8" font-family="'Liberation Sans', sans-serif" font-weight="700" font-size="15.5" fill="#2a9fa3" stroke="#2a9fa3" stroke-width="0.35" textLength="33.2" lengthAdjust="spacingAndGlyphs">0.1C</text>
<circle cx="953.5" cy="743" r="4.4" fill="url(#mo)" stroke="#f28d42" stroke-width="0.9"/>
<text x="968.3" y="746.8" font-family="'Liberation Sans', sans-serif" font-weight="700" font-size="11.6" fill="#f5924a" stroke="#f5924a" stroke-width="0.35" textLength="102" lengthAdjust="spacingAndGlyphs">GreenNet Binder</text>
<circle cx="953.5" cy="764.8" r="4.4" fill="url(#mp)" stroke="#e27588" stroke-width="0.9"/>
<text x="968.3" y="768.5" font-family="'Liberation Sans', sans-serif" font-weight="700" font-size="11.6" fill="#e57e8f" stroke="#e57e8f" stroke-width="0.35" textLength="35.6" lengthAdjust="spacingAndGlyphs">PVDF</text>
</svg>
<svg class="abs blur" style="left:1340px;top:460px" width="490" height="390" viewBox="1340 460 490 390">
<line x1="1417.8" y1="727.4" x2="1773.6" y2="727.4" stroke="#636363" stroke-width="1.5" stroke-dasharray="4.4 3.2"/>
<line x1="1417.8" y1="679.5" x2="1773.6" y2="679.5" stroke="#636363" stroke-width="1.5" stroke-dasharray="4.4 3.2"/>
<line x1="1417.8" y1="631.5" x2="1773.6" y2="631.5" stroke="#636363" stroke-width="1.5" stroke-dasharray="4.4 3.2"/>
<line x1="1417.8" y1="583.6" x2="1773.6" y2="583.6" stroke="#636363" stroke-width="1.5" stroke-dasharray="4.4 3.2"/>
<line x1="1417.8" y1="535.7" x2="1773.6" y2="535.7" stroke="#636363" stroke-width="1.5" stroke-dasharray="4.4 3.2"/>
<polyline points="1418.3,584.4 1419.5,584.4 1420.7,585.0 1421.9,585.1 1423.0,585.4 1424.2,586.4 1425.4,586.5 1426.6,585.6 1427.8,586.3 1429.0,586.4 1430.1,585.6 1431.3,586.2 1432.5,585.8 1433.7,586.3 1434.9,586.1 1436.1,586.7 1437.2,586.2 1438.4,586.0 1439.6,586.4 1440.8,586.2 1442.0,586.3 1443.2,587.0 1444.4,586.3 1445.5,586.5 1446.7,586.9 1447.9,587.2 1449.1,586.3 1450.3,586.8 1451.5,586.5 1452.6,586.4 1453.8,586.6 1455.0,586.6 1456.2,587.5 1457.4,587.4 1458.6,588.0 1459.8,587.8 1460.9,588.1 1462.1,589.3 1463.3,589.5 1464.5,589.7 1465.7,589.2 1466.9,590.0 1468.0,590.0 1469.2,590.6 1470.4,590.6 1471.6,591.0 1472.8,591.3 1474.0,591.2 1475.1,591.5 1476.3,591.4 1477.5,591.8 1478.7,591.8 1479.9,592.1 1481.1,592.2 1482.3,592.8 1483.4,593.6 1484.6,593.1 1485.8,593.3 1487.0,593.6 1488.2,594.3 1489.4,594.4 1490.5,595.2 1491.7,594.8 1492.9,595.4 1494.1,596.0 1495.3,596.5 1496.5,595.9 1497.7,596.0 1498.8,597.3 1500.0,596.8 1501.2,597.5 1502.4,598.1 1503.6,598.2 1504.8,597.9 1505.9,598.1 1507.1,599.3 1508.3,599.0 1509.5,600.0 1510.7,599.5 1511.9,600.3 1513.0,600.0 1514.2,600.2 1515.4,601.0 1516.6,600.8 1517.8,601.9 1519.0,602.5 1520.2,602.2 1521.3,603.2 1522.5,603.3 1523.7,603.4 1524.9,603.5 1526.1,604.4 1527.3,604.9 1528.4,604.4 1529.6,605.4 1530.8,605.1 1532.0,605.6 1533.2,606.5 1534.4,606.8 1535.5,607.2 1536.7,607.4 1537.9,607.7 1539.1,608.0 1540.3,608.2 1541.5,608.1 1542.7,608.8 1543.8,609.1 1545.0,609.0 1546.2,609.8 1547.4,610.0 1548.6,609.5 1549.8,610.2 1550.9,610.4 1552.1,611.3 1553.3,611.0 1554.5,611.1 1555.7,612.0 1556.9,611.5 1558.1,611.8 1559.2,612.6 1560.4,612.2 1561.6,612.7 1562.8,612.7 1564.0,613.4 1565.2,613.2 1566.3,613.5 1567.5,614.5 1568.7,614.8 1569.9,614.4 1571.1,614.3 1572.3,615.4 1573.4,615.4 1574.6,615.5 1575.8,616.1 1577.0,616.3 1578.2,616.7 1579.4,616.9 1580.6,616.9 1581.7,617.5 1582.9,617.7 1584.1,617.5 1585.3,618.6 1586.5,618.2 1587.7,618.2 1588.8,618.9 1590.0,619.2 1591.2,618.7 1592.4,619.6 1593.6,619.8 1594.8,619.8 1595.9,619.7 1597.1,620.5 1598.3,620.4 1599.5,620.5 1600.7,620.1 1601.9,620.7 1603.1,620.4 1604.2,621.3 1605.4,621.3 1606.6,621.1 1607.8,621.0 1609.0,621.6 1610.2,622.0 1611.3,622.3 1612.5,622.0 1613.7,622.5 1614.9,622.0 1616.1,622.1 1617.3,623.0 1618.5,623.0 1619.6,622.6 1620.8,623.0 1622.0,623.1 1623.2,623.9 1624.4,624.4 1625.6,624.4 1626.7,624.1 1627.9,625.0 1629.1,625.1 1630.3,625.3 1631.5,625.6 1632.7,625.8 1633.8,625.5 1635.0,626.6 1636.2,627.1 1637.4,626.3 1638.6,626.5 1639.8,626.5 1641.0,627.2 1642.1,626.8 1643.3,626.9 1644.5,627.8 1645.7,627.4 1646.9,627.4 1648.1,627.7 1649.2,628.0 1650.4,628.4 1651.6,628.5 1652.8,628.7 1654.0,629.0 1655.2,628.6 1656.4,629.0 1657.5,628.5 1658.7,629.4 1659.9,628.5 1661.1,628.8 1662.3,628.6 1663.5,628.7 1664.6,628.7 1665.8,629.2 1667.0,629.9 1668.2,629.3 1669.4,630.2 1670.6,630.3 1671.7,630.2 1672.9,630.6 1674.1,630.9 1675.3,630.6 1676.5,631.2 1677.7,631.8 1678.9,632.1 1680.0,631.7 1681.2,632.4 1682.4,632.3 1683.6,633.1 1684.8,633.5 1686.0,633.3 1687.1,633.1 1688.3,634.0 1689.5,633.5 1690.7,633.5 1691.9,633.8 1693.1,634.0 1694.2,635.1 1695.4,634.6 1696.6,634.5 1697.8,635.5 1699.0,635.5 1700.2,635.6 1701.4,635.5 1702.5,635.8 1703.7,635.9 1704.9,635.8 1706.1,636.8 1707.3,636.9 1708.5,637.0 1709.6,637.2 1710.8,637.4 1712.0,636.6 1713.2,636.9 1714.4,637.9 1715.6,637.6 1716.8,638.0 1717.9,638.1 1719.1,638.2 1720.3,638.0 1721.5,638.2 1722.7,638.6 1723.9,639.0 1725.0,639.0 1726.2,639.3 1727.4,639.0 1728.6,639.0 1729.8,639.5 1731.0,640.0 1732.1,640.0 1733.3,640.0 1734.5,639.8 1735.7,639.8 1736.9,640.4 1738.1,640.1 1739.3,640.4 1740.4,640.8 1741.6,641.0 1742.8,641.0 1744.0,640.9 1745.2,641.4 1746.4,641.3 1747.5,641.7 1748.7,642.1 1749.9,642.0 1751.1,642.0 1752.3,642.9 1753.5,642.7 1754.7,642.8 1755.8,642.5 1757.0,642.6 1758.2,643.4 1759.4,643.0 1760.6,643.3 1761.8,644.1 1762.9,644.2 1764.1,644.9 1765.3,644.4 1766.5,644.9 1767.7,644.9 1768.9,645.3 1770.0,645.8 1771.2,646.0 1772.4,646.5 1773.6,647.3" fill="none" stroke="#e27a8c" stroke-width="6.4" stroke-linecap="round" stroke-linejoin="round"/>
<polyline points="1418.3,584.4 1419.5,584.4 1420.7,585.0 1421.9,585.1 1423.0,585.4 1424.2,586.4 1425.4,586.5 1426.6,585.6 1427.8,586.3 1429.0,586.4 1430.1,585.6 1431.3,586.2 1432.5,585.8 1433.7,586.3 1434.9,586.1 1436.1,586.7 1437.2,586.2 1438.4,586.0 1439.6,586.4 1440.8,586.2 1442.0,586.3 1443.2,587.0 1444.4,586.3 1445.5,586.5 1446.7,586.9 1447.9,587.2 1449.1,586.3 1450.3,586.8 1451.5,586.5 1452.6,586.4 1453.8,586.6 1455.0,586.6 1456.2,587.5 1457.4,587.4 1458.6,588.0 1459.8,587.8 1460.9,588.1 1462.1,589.3 1463.3,589.5 1464.5,589.7 1465.7,589.2 1466.9,590.0 1468.0,590.0 1469.2,590.6 1470.4,590.6 1471.6,591.0 1472.8,591.3 1474.0,591.2 1475.1,591.5 1476.3,591.4 1477.5,591.8 1478.7,591.8 1479.9,592.1 1481.1,592.2 1482.3,592.8 1483.4,593.6 1484.6,593.1 1485.8,593.3 1487.0,593.6 1488.2,594.3 1489.4,594.4 1490.5,595.2 1491.7,594.8 1492.9,595.4 1494.1,596.0 1495.3,596.5 1496.5,595.9 1497.7,596.0 1498.8,597.3 1500.0,596.8 1501.2,597.5 1502.4,598.1 1503.6,598.2 1504.8,597.9 1505.9,598.1 1507.1,599.3 1508.3,599.0 1509.5,600.0 1510.7,599.5 1511.9,600.3 1513.0,600.0 1514.2,600.2 1515.4,601.0 1516.6,600.8 1517.8,601.9 1519.0,602.5 1520.2,602.2 1521.3,603.2 1522.5,603.3 1523.7,603.4 1524.9,603.5 1526.1,604.4 1527.3,604.9 1528.4,604.4 1529.6,605.4 1530.8,605.1 1532.0,605.6 1533.2,606.5 1534.4,606.8 1535.5,607.2 1536.7,607.4 1537.9,607.7 1539.1,608.0 1540.3,608.2 1541.5,608.1 1542.7,608.8 1543.8,609.1 1545.0,609.0 1546.2,609.8 1547.4,610.0 1548.6,609.5 1549.8,610.2 1550.9,610.4 1552.1,611.3 1553.3,611.0 1554.5,611.1 1555.7,612.0 1556.9,611.5 1558.1,611.8 1559.2,612.6 1560.4,612.2 1561.6,612.7 1562.8,612.7 1564.0,613.4 1565.2,613.2 1566.3,613.5 1567.5,614.5 1568.7,614.8 1569.9,614.4 1571.1,614.3 1572.3,615.4 1573.4,615.4 1574.6,615.5 1575.8,616.1 1577.0,616.3 1578.2,616.7 1579.4,616.9 1580.6,616.9 1581.7,617.5 1582.9,617.7 1584.1,617.5 1585.3,618.6 1586.5,618.2 1587.7,618.2 1588.8,618.9 1590.0,619.2 1591.2,618.7 1592.4,619.6 1593.6,619.8 1594.8,619.8 1595.9,619.7 1597.1,620.5 1598.3,620.4 1599.5,620.5 1600.7,620.1 1601.9,620.7 1603.1,620.4 1604.2,621.3 1605.4,621.3 1606.6,621.1 1607.8,621.0 1609.0,621.6 1610.2,622.0 1611.3,622.3 1612.5,622.0 1613.7,622.5 1614.9,622.0 1616.1,622.1 1617.3,623.0 1618.5,623.0 1619.6,622.6 1620.8,623.0 1622.0,623.1 1623.2,623.9 1624.4,624.4 1625.6,624.4 1626.7,624.1 1627.9,625.0 1629.1,625.1 1630.3,625.3 1631.5,625.6 1632.7,625.8 1633.8,625.5 1635.0,626.6 1636.2,627.1 1637.4,626.3 1638.6,626.5 1639.8,626.5 1641.0,627.2 1642.1,626.8 1643.3,626.9 1644.5,627.8 1645.7,627.4 1646.9,627.4 1648.1,627.7 1649.2,628.0 1650.4,628.4 1651.6,628.5 1652.8,628.7 1654.0,629.0 1655.2,628.6 1656.4,629.0 1657.5,628.5 1658.7,629.4 1659.9,628.5 1661.1,628.8 1662.3,628.6 1663.5,628.7 1664.6,628.7 1665.8,629.2 1667.0,629.9 1668.2,629.3 1669.4,630.2 1670.6,630.3 1671.7,630.2 1672.9,630.6 1674.1,630.9 1675.3,630.6 1676.5,631.2 1677.7,631.8 1678.9,632.1 1680.0,631.7 1681.2,632.4 1682.4,632.3 1683.6,633.1 1684.8,633.5 1686.0,633.3 1687.1,633.1 1688.3,634.0 1689.5,633.5 1690.7,633.5 1691.9,633.8 1693.1,634.0 1694.2,635.1 1695.4,634.6 1696.6,634.5 1697.8,635.5 1699.0,635.5 1700.2,635.6 1701.4,635.5 1702.5,635.8 1703.7,635.9 1704.9,635.8 1706.1,636.8 1707.3,636.9 1708.5,637.0 1709.6,637.2 1710.8,637.4 1712.0,636.6 1713.2,636.9 1714.4,637.9 1715.6,637.6 1716.8,638.0 1717.9,638.1 1719.1,638.2 1720.3,638.0 1721.5,638.2 1722.7,638.6 1723.9,639.0 1725.0,639.0 1726.2,639.3 1727.4,639.0 1728.6,639.0 1729.8,639.5 1731.0,640.0 1732.1,640.0 1733.3,640.0 1734.5,639.8 1735.7,639.8 1736.9,640.4 1738.1,640.1 1739.3,640.4 1740.4,640.8 1741.6,641.0 1742.8,641.0 1744.0,640.9 1745.2,641.4 1746.4,641.3 1747.5,641.7 1748.7,642.1 1749.9,642.0 1751.1,642.0 1752.3,642.9 1753.5,642.7 1754.7,642.8 1755.8,642.5 1757.0,642.6 1758.2,643.4 1759.4,643.0 1760.6,643.3 1761.8,644.1 1762.9,644.2 1764.1,644.9 1765.3,644.4 1766.5,644.9 1767.7,644.9 1768.9,645.3 1770.0,645.8 1771.2,646.0 1772.4,646.5 1773.6,647.3" fill="none" stroke="#ef9eab" stroke-width="2.2" stroke-linecap="round" stroke-linejoin="round" opacity="0.8"/>
<polyline points="1418.3,566.0 1419.5,564.1 1420.7,561.7 1421.9,561.3 1423.0,561.9 1424.2,561.9 1425.4,562.0 1426.6,561.4 1427.8,562.0 1429.0,562.2 1430.1,561.6 1431.3,562.3 1432.5,561.8 1433.7,562.0 1434.9,561.9 1436.1,561.9 1437.2,562.3 1438.4,562.2 1439.6,562.9 1440.8,562.3 1442.0,562.6 1443.2,562.5 1444.4,563.1 1445.5,562.6 1446.7,562.6 1447.9,563.3 1449.1,563.2 1450.3,563.1 1451.5,562.9 1452.6,563.5 1453.8,563.6 1455.0,563.6 1456.2,563.4 1457.4,563.4 1458.6,563.7 1459.8,563.8 1460.9,563.9 1462.1,564.0 1463.3,564.0 1464.5,564.3 1465.7,564.1 1466.9,563.8 1468.0,564.3 1469.2,564.1 1470.4,564.6 1471.6,564.3 1472.8,564.3 1474.0,564.4 1475.1,564.6 1476.3,564.7 1477.5,564.7 1478.7,564.5 1479.9,565.2 1481.1,565.3 1482.3,564.8 1483.4,564.8 1484.6,565.2 1485.8,565.3 1487.0,565.1 1488.2,565.6 1489.4,565.6 1490.5,565.7 1491.7,565.5 1492.9,565.8 1494.1,565.9 1495.3,565.6 1496.5,565.4 1497.7,566.0 1498.8,565.8 1500.0,566.1 1501.2,565.8 1502.4,566.1 1503.6,566.4 1504.8,566.5 1505.9,566.7 1507.1,566.4 1508.3,566.5 1509.5,566.8 1510.7,566.7 1511.9,566.8 1513.0,566.5 1514.2,567.1 1515.4,566.4 1516.6,566.9 1517.8,566.9 1519.0,567.0 1520.2,566.8 1521.3,566.9 1522.5,567.2 1523.7,567.3 1524.9,567.2 1526.1,567.1 1527.3,567.5 1528.4,567.3 1529.6,567.2 1530.8,567.7 1532.0,567.9 1533.2,568.0 1534.4,567.7 1535.5,567.8 1536.7,567.6 1537.9,567.8 1539.1,568.3 1540.3,568.4 1541.5,568.4 1542.7,568.5 1543.8,568.2 1545.0,568.1 1546.2,568.1 1547.4,568.7 1548.6,568.3 1549.8,568.8 1550.9,568.7 1552.1,568.5 1553.3,569.1 1554.5,569.2 1555.7,568.6 1556.9,569.1 1558.1,569.1 1559.2,569.0 1560.4,569.0 1561.6,569.6 1562.8,569.4 1564.0,569.4 1565.2,569.4 1566.3,569.6 1567.5,569.4 1568.7,569.2 1569.9,569.7 1571.1,569.6 1572.3,570.0 1573.4,569.9 1574.6,569.7 1575.8,570.2 1577.0,569.6 1578.2,569.7 1579.4,570.4 1580.6,569.8 1581.7,570.3 1582.9,570.0 1584.1,570.1 1585.3,570.5 1586.5,570.3 1587.7,570.3 1588.8,570.3 1590.0,570.8 1591.2,570.4 1592.4,570.3 1593.6,570.6 1594.8,570.8 1595.9,571.2 1597.1,570.9 1598.3,571.1 1599.5,570.9 1600.7,571.0 1601.9,571.2 1603.1,571.6 1604.2,571.3 1605.4,571.4 1606.6,571.8 1607.8,571.3 1609.0,571.6 1610.2,572.1 1611.3,571.5 1612.5,572.2 1613.7,572.1 1614.9,571.9 1616.1,572.1 1617.3,572.2 1618.5,572.2 1619.6,572.4 1620.8,572.6 1622.0,572.8 1623.2,573.0 1624.4,572.5 1625.6,572.6 1626.7,572.8 1627.9,572.7 1629.1,573.1 1630.3,573.3 1631.5,573.2 1632.7,572.9 1633.8,573.7 1635.0,573.4 1636.2,573.7 1637.4,573.3 1638.6,573.7 1639.8,573.8 1641.0,573.8 1642.1,573.8 1643.3,573.7 1644.5,574.1 1645.7,573.8 1646.9,574.5 1648.1,574.4 1649.2,574.6 1650.4,574.7 1651.6,574.2 1652.8,574.4 1654.0,574.9 1655.2,574.9 1656.4,574.8 1657.5,574.6 1658.7,574.7 1659.9,574.8 1661.1,575.0 1662.3,575.4 1663.5,575.3 1664.6,575.5 1665.8,575.4 1667.0,575.4 1668.2,575.8 1669.4,575.8 1670.6,575.5 1671.7,576.1 1672.9,575.6 1674.1,575.6 1675.3,575.6 1676.5,576.2 1677.7,576.1 1678.9,576.2 1680.0,576.2 1681.2,576.0 1682.4,576.3 1683.6,576.7 1684.8,576.3 1686.0,576.7 1687.1,576.7 1688.3,576.7 1689.5,577.3 1690.7,576.8 1691.9,576.9 1693.1,577.1 1694.2,577.2 1695.4,577.3 1696.6,577.6 1697.8,577.4 1699.0,577.9 1700.2,577.6 1701.4,577.6 1702.5,577.8 1703.7,577.8 1704.9,577.5 1706.1,577.7 1707.3,578.4 1708.5,577.9 1709.6,578.1 1710.8,578.7 1712.0,578.5 1713.2,578.7 1714.4,578.9 1715.6,578.6 1716.8,578.4 1717.9,578.9 1719.1,578.6 1720.3,578.8 1721.5,579.4 1722.7,578.9 1723.9,579.2 1725.0,579.0 1726.2,579.3 1727.4,579.3 1728.6,579.7 1729.8,579.5 1731.0,579.5 1732.1,579.6 1733.3,580.0 1734.5,579.9 1735.7,580.2 1736.9,580.6 1738.1,580.7 1739.3,580.8 1740.4,580.8 1741.6,580.9 1742.8,580.7 1744.0,580.6 1745.2,580.9 1746.4,581.0 1747.5,581.0 1748.7,581.3 1749.9,581.3 1751.1,581.1 1752.3,581.5 1753.5,581.8 1754.7,581.3 1755.8,581.5 1757.0,581.9 1758.2,582.0 1759.4,582.0 1760.6,582.1 1761.8,582.5 1762.9,582.8 1764.1,582.7 1765.3,582.3 1766.5,583.0 1767.7,582.8 1768.9,583.1 1770.0,583.2 1771.2,583.4 1772.4,583.3 1773.6,583.6" fill="none" stroke="#f6954c" stroke-width="6.4" stroke-linecap="round" stroke-linejoin="round"/>
<polyline points="1418.3,566.0 1419.5,564.1 1420.7,561.7 1421.9,561.3 1423.0,561.9 1424.2,561.9 1425.4,562.0 1426.6,561.4 1427.8,562.0 1429.0,562.2 1430.1,561.6 1431.3,562.3 1432.5,561.8 1433.7,562.0 1434.9,561.9 1436.1,561.9 1437.2,562.3 1438.4,562.2 1439.6,562.9 1440.8,562.3 1442.0,562.6 1443.2,562.5 1444.4,563.1 1445.5,562.6 1446.7,562.6 1447.9,563.3 1449.1,563.2 1450.3,563.1 1451.5,562.9 1452.6,563.5 1453.8,563.6 1455.0,563.6 1456.2,563.4 1457.4,563.4 1458.6,563.7 1459.8,563.8 1460.9,563.9 1462.1,564.0 1463.3,564.0 1464.5,564.3 1465.7,564.1 1466.9,563.8 1468.0,564.3 1469.2,564.1 1470.4,564.6 1471.6,564.3 1472.8,564.3 1474.0,564.4 1475.1,564.6 1476.3,564.7 1477.5,564.7 1478.7,564.5 1479.9,565.2 1481.1,565.3 1482.3,564.8 1483.4,564.8 1484.6,565.2 1485.8,565.3 1487.0,565.1 1488.2,565.6 1489.4,565.6 1490.5,565.7 1491.7,565.5 1492.9,565.8 1494.1,565.9 1495.3,565.6 1496.5,565.4 1497.7,566.0 1498.8,565.8 1500.0,566.1 1501.2,565.8 1502.4,566.1 1503.6,566.4 1504.8,566.5 1505.9,566.7 1507.1,566.4 1508.3,566.5 1509.5,566.8 1510.7,566.7 1511.9,566.8 1513.0,566.5 1514.2,567.1 1515.4,566.4 1516.6,566.9 1517.8,566.9 1519.0,567.0 1520.2,566.8 1521.3,566.9 1522.5,567.2 1523.7,567.3 1524.9,567.2 1526.1,567.1 1527.3,567.5 1528.4,567.3 1529.6,567.2 1530.8,567.7 1532.0,567.9 1533.2,568.0 1534.4,567.7 1535.5,567.8 1536.7,567.6 1537.9,567.8 1539.1,568.3 1540.3,568.4 1541.5,568.4 1542.7,568.5 1543.8,568.2 1545.0,568.1 1546.2,568.1 1547.4,568.7 1548.6,568.3 1549.8,568.8 1550.9,568.7 1552.1,568.5 1553.3,569.1 1554.5,569.2 1555.7,568.6 1556.9,569.1 1558.1,569.1 1559.2,569.0 1560.4,569.0 1561.6,569.6 1562.8,569.4 1564.0,569.4 1565.2,569.4 1566.3,569.6 1567.5,569.4 1568.7,569.2 1569.9,569.7 1571.1,569.6 1572.3,570.0 1573.4,569.9 1574.6,569.7 1575.8,570.2 1577.0,569.6 1578.2,569.7 1579.4,570.4 1580.6,569.8 1581.7,570.3 1582.9,570.0 1584.1,570.1 1585.3,570.5 1586.5,570.3 1587.7,570.3 1588.8,570.3 1590.0,570.8 1591.2,570.4 1592.4,570.3 1593.6,570.6 1594.8,570.8 1595.9,571.2 1597.1,570.9 1598.3,571.1 1599.5,570.9 1600.7,571.0 1601.9,571.2 1603.1,571.6 1604.2,571.3 1605.4,571.4 1606.6,571.8 1607.8,571.3 1609.0,571.6 1610.2,572.1 1611.3,571.5 1612.5,572.2 1613.7,572.1 1614.9,571.9 1616.1,572.1 1617.3,572.2 1618.5,572.2 1619.6,572.4 1620.8,572.6 1622.0,572.8 1623.2,573.0 1624.4,572.5 1625.6,572.6 1626.7,572.8 1627.9,572.7 1629.1,573.1 1630.3,573.3 1631.5,573.2 1632.7,572.9 1633.8,573.7 1635.0,573.4 1636.2,573.7 1637.4,573.3 1638.6,573.7 1639.8,573.8 1641.0,573.8 1642.1,573.8 1643.3,573.7 1644.5,574.1 1645.7,573.8 1646.9,574.5 1648.1,574.4 1649.2,574.6 1650.4,574.7 1651.6,574.2 1652.8,574.4 1654.0,574.9 1655.2,574.9 1656.4,574.8 1657.5,574.6 1658.7,574.7 1659.9,574.8 1661.1,575.0 1662.3,575.4 1663.5,575.3 1664.6,575.5 1665.8,575.4 1667.0,575.4 1668.2,575.8 1669.4,575.8 1670.6,575.5 1671.7,576.1 1672.9,575.6 1674.1,575.6 1675.3,575.6 1676.5,576.2 1677.7,576.1 1678.9,576.2 1680.0,576.2 1681.2,576.0 1682.4,576.3 1683.6,576.7 1684.8,576.3 1686.0,576.7 1687.1,576.7 1688.3,576.7 1689.5,577.3 1690.7,576.8 1691.9,576.9 1693.1,577.1 1694.2,577.2 1695.4,577.3 1696.6,577.6 1697.8,577.4 1699.0,577.9 1700.2,577.6 1701.4,577.6 1702.5,577.8 1703.7,577.8 1704.9,577.5 1706.1,577.7 1707.3,578.4 1708.5,577.9 1709.6,578.1 1710.8,578.7 1712.0,578.5 1713.2,578.7 1714.4,578.9 1715.6,578.6 1716.8,578.4 1717.9,578.9 1719.1,578.6 1720.3,578.8 1721.5,579.4 1722.7,578.9 1723.9,579.2 1725.0,579.0 1726.2,579.3 1727.4,579.3 1728.6,579.7 1729.8,579.5 1731.0,579.5 1732.1,579.6 1733.3,580.0 1734.5,579.9 1735.7,580.2 1736.9,580.6 1738.1,580.7 1739.3,580.8 1740.4,580.8 1741.6,580.9 1742.8,580.7 1744.0,580.6 1745.2,580.9 1746.4,581.0 1747.5,581.0 1748.7,581.3 1749.9,581.3 1751.1,581.1 1752.3,581.5 1753.5,581.8 1754.7,581.3 1755.8,581.5 1757.0,581.9 1758.2,582.0 1759.4,582.0 1760.6,582.1 1761.8,582.5 1762.9,582.8 1764.1,582.7 1765.3,582.3 1766.5,583.0 1767.7,582.8 1768.9,583.1 1770.0,583.2 1771.2,583.4 1772.4,583.3 1773.6,583.6" fill="none" stroke="#fbb27a" stroke-width="2.2" stroke-linecap="round" stroke-linejoin="round" opacity="0.8"/>
<rect x="1417.8" y="487.8" width="355.8" height="287.5" fill="none" stroke="#262626" stroke-width="1.7"/>
<line x1="1413.3" y1="775.3" x2="1417.8" y2="775.3" stroke="#262626" stroke-width="1.4"/>
<text x="1407.3" y="780.6" font-family="'Liberation Sans', sans-serif" font-weight="700" font-size="14.8" fill="#262626" stroke="#262626" stroke-width="0.35" text-anchor="end">0</text>
<line x1="1413.3" y1="727.4" x2="1417.8" y2="727.4" stroke="#262626" stroke-width="1.4"/>
<text x="1407.3" y="732.7" font-family="'Liberation Sans', sans-serif" font-weight="700" font-size="14.8" fill="#262626" stroke="#262626" stroke-width="0.35" text-anchor="end">30</text>
<line x1="1413.3" y1="679.5" x2="1417.8" y2="679.5" stroke="#262626" stroke-width="1.4"/>
<text x="1407.3" y="684.8" font-family="'Liberation Sans', sans-serif" font-weight="700" font-size="14.8" fill="#262626" stroke="#262626" stroke-width="0.35" text-anchor="end">60</text>
<line x1="1413.3" y1="631.5" x2="1417.8" y2="631.5" stroke="#262626" stroke-width="1.4"/>
<text x="1407.3" y="636.8" font-family="'Liberation Sans', sans-serif" font-weight="700" font-size="14.8" fill="#262626" stroke="#262626" stroke-width="0.35" text-anchor="end">90</text>
<line x1="1413.3" y1="583.6" x2="1417.8" y2="583.6" stroke="#262626" stroke-width="1.4"/>
<text x="1407.3" y="588.9" font-family="'Liberation Sans', sans-serif" font-weight="700" font-size="14.8" fill="#262626" stroke="#262626" stroke-width="0.35" text-anchor="end">120</text>
<line x1="1413.3" y1="535.7" x2="1417.8" y2="535.7" stroke="#262626" stroke-width="1.4"/>
<text x="1407.3" y="541.0" font-family="'Liberation Sans', sans-serif" font-weight="700" font-size="14.8" fill="#262626" stroke="#262626" stroke-width="0.35" text-anchor="end">150</text>
<line x1="1413.3" y1="487.8" x2="1417.8" y2="487.8" stroke="#262626" stroke-width="1.4"/>
<text x="1407.3" y="493.1" font-family="'Liberation Sans', sans-serif" font-weight="700" font-size="14.8" fill="#262626" stroke="#262626" stroke-width="0.35" text-anchor="end">180</text>
<line x1="1415.3" y1="751.3" x2="1417.8" y2="751.3" stroke="#262626" stroke-width="1"/>
<line x1="1415.3" y1="703.4" x2="1417.8" y2="703.4" stroke="#262626" stroke-width="1"/>
<line x1="1415.3" y1="655.5" x2="1417.8" y2="655.5" stroke="#262626" stroke-width="1"/>
<line x1="1415.3" y1="607.6" x2="1417.8" y2="607.6" stroke="#262626" stroke-width="1"/>
<line x1="1415.3" y1="559.7" x2="1417.8" y2="559.7" stroke="#262626" stroke-width="1"/>
<line x1="1415.3" y1="511.8" x2="1417.8" y2="511.8" stroke="#262626" stroke-width="1"/>
<line x1="1418.3" y1="775.3" x2="1418.3" y2="779.8" stroke="#262626" stroke-width="1.4"/>
<text x="1420.8" y="797.9" font-family="'Liberation Sans', sans-serif" font-weight="700" font-size="14.8" fill="#262626" stroke="#262626" stroke-width="0.35" text-anchor="middle">0</text>
<line x1="1477.5" y1="775.3" x2="1477.5" y2="779.8" stroke="#262626" stroke-width="1.4"/>
<text x="1480.0" y="797.4" font-family="'Liberation Sans', sans-serif" font-weight="700" font-size="14.8" fill="#262626" stroke="#262626" stroke-width="0.35" text-anchor="middle">50</text>
<line x1="1536.7" y1="775.3" x2="1536.7" y2="779.8" stroke="#262626" stroke-width="1.4"/>
<text x="1539.2" y="796.9" font-family="'Liberation Sans', sans-serif" font-weight="700" font-size="14.8" fill="#262626" stroke="#262626" stroke-width="0.35" text-anchor="middle">100</text>
<line x1="1595.9" y1="775.3" x2="1595.9" y2="779.8" stroke="#262626" stroke-width="1.4"/>
<text x="1598.4" y="796.4" font-family="'Liberation Sans', sans-serif" font-weight="700" font-size="14.8" fill="#262626" stroke="#262626" stroke-width="0.35" text-anchor="middle">150</text>
<line x1="1655.2" y1="775.3" x2="1655.2" y2="779.8" stroke="#262626" stroke-width="1.4"/>
<text x="1657.7" y="795.9" font-family="'Liberation Sans', sans-serif" font-weight="700" font-size="14.8" fill="#262626" stroke="#262626" stroke-width="0.35" text-anchor="middle">200</text>
<line x1="1714.4" y1="775.3" x2="1714.4" y2="779.8" stroke="#262626" stroke-width="1.4"/>
<text x="1716.9" y="795.4" font-family="'Liberation Sans', sans-serif" font-weight="700" font-size="14.8" fill="#262626" stroke="#262626" stroke-width="0.35" text-anchor="middle">250</text>
<line x1="1773.6" y1="775.3" x2="1773.6" y2="779.8" stroke="#262626" stroke-width="1.4"/>
<text x="1776.1" y="794.9" font-family="'Liberation Sans', sans-serif" font-weight="700" font-size="14.8" fill="#262626" stroke="#262626" stroke-width="0.35" text-anchor="middle">300</text>
<line x1="1447.9" y1="775.3" x2="1447.9" y2="777.8" stroke="#262626" stroke-width="1"/>
<line x1="1507.1" y1="775.3" x2="1507.1" y2="777.8" stroke="#262626" stroke-width="1"/>
<line x1="1566.3" y1="775.3" x2="1566.3" y2="777.8" stroke="#262626" stroke-width="1"/>
<line x1="1625.6" y1="775.3" x2="1625.6" y2="777.8" stroke="#262626" stroke-width="1"/>
<line x1="1684.8" y1="775.3" x2="1684.8" y2="777.8" stroke="#262626" stroke-width="1"/>
<line x1="1744.0" y1="775.3" x2="1744.0" y2="777.8" stroke="#262626" stroke-width="1"/>
<text x="1602" y="826.5" font-family="'Liberation Sans', sans-serif" font-weight="700" font-size="16.5" fill="#262626" stroke="#262626" stroke-width="0.35" text-anchor="middle" textLength="138.5" lengthAdjust="spacingAndGlyphs">Cycle number (n)</text>
<text transform="translate(1372.5,627) rotate(-90)" font-family="'Liberation Sans', sans-serif" font-weight="700" font-size="15" fill="#262626" stroke="#262626" stroke-width="0.35" text-anchor="middle" textLength="192" lengthAdjust="spacingAndGlyphs">Specific capacity (mAh g<tspan dy="-5" font-size="9.5">-1</tspan><tspan dy="5">)</tspan></text>
<text x="1752" y="503.3" font-family="'Liberation Sans', sans-serif" font-weight="700" font-size="12.8" fill="#2aaee6" stroke="#2aaee6" stroke-width="0.35" textLength="16.6" lengthAdjust="spacingAndGlyphs">5C</text>
<line x1="1598.9" y1="743" x2="1637.2" y2="743" stroke="#f6954c" stroke-width="1.4"/><circle cx="1618" cy="743" r="4.6" fill="#f6954c"/><circle cx="1616.8" cy="741.8" r="1.5" fill="#fcc9a0"/>
<text x="1641" y="747.3" font-family="'Liberation Sans', sans-serif" font-weight="700" font-size="12.6" fill="#f5924a" stroke="#f5924a" stroke-width="0.35" textLength="110.7" lengthAdjust="spacingAndGlyphs">GreenNet Binder</text>
<line x1="1598.9" y1="761.2" x2="1637.2" y2="761.2" stroke="#e27a8c" stroke-width="1.4"/><circle cx="1618" cy="761.2" r="4.6" fill="#e27a8c"/><circle cx="1616.8" cy="760" r="1.5" fill="#f5c3cb"/>
<text x="1641" y="765.6" font-family="'Liberation Sans', sans-serif" font-weight="700" font-size="12.6" fill="#ee82c4" stroke="#ee82c4" stroke-width="0.35" textLength="35.3" lengthAdjust="spacingAndGlyphs">PVDF</text>
</svg>
<svg class="abs blur" style="left:60px;top:970px" width="380" height="280" viewBox="60 970 380 280">
<defs>
<radialGradient id="sg" cx="42%" cy="35%" r="68%" fx="40%" fy="32%">
<stop offset="0" stop-color="#ffffff"/><stop offset="0.09" stop-color="#f6f6f6"/><stop offset="0.28" stop-color="#c4c4c4"/><stop offset="0.52" stop-color="#a0a0a0"/><stop offset="0.78" stop-color="#7c7c7c"/><stop offset="0.93" stop-color="#585858"/><stop offset="1" stop-color="#3e3e3e"/></radialGradient>
<radialGradient id="rim" cx="50%" cy="50%" r="50%"><stop offset="0.8" stop-color="#000" stop-opacity="0"/><stop offset="0.94" stop-color="#000" stop-opacity="0.16"/><stop offset="1" stop-color="#000" stop-opacity="0.42"/></radialGradient>
<radialGradient id="hp" cx="50%" cy="50%" r="50%"><stop offset="0" stop-color="#fbeef0"/><stop offset="0.72" stop-color="#f8e3e6"/><stop offset="0.86" stop-color="#f1b4bd"/><stop offset="1" stop-color="#e98a99"/></radialGradient>
<radialGradient id="ho" cx="50%" cy="50%" r="50%"><stop offset="0" stop-color="#fdf1ea"/><stop offset="0.70" stop-color="#fce1d3"/><stop offset="0.86" stop-color="#f9bf9f"/><stop offset="1" stop-color="#f6a070"/></radialGradient>
<radialGradient id="bk" cx="38%" cy="32%" r="70%"><stop offset="0" stop-color="#6a6a6a"/><stop offset="0.4" stop-color="#262626"/><stop offset="1" stop-color="#0a0a0a"/></radialGradient>
<marker id="ar" viewBox="0 0 10 10" refX="6" refY="5" markerWidth="3.4" markerHeight="3.4" orient="auto-start-reverse"><path d="M0,0.5 L10,5 L0,9.5 z" fill="#e01818"/></marker>
<marker id="ab" viewBox="0 0 10 10" refX="6" refY="5" markerWidth="4.6" markerHeight="4.6" orient="auto-start-reverse"><path d="M0,0.5 L10,5 L0,9.5 z" fill="#3b86c4"/></marker>
</defs>
<g fill="#e88696"><circle cx="138.7" cy="1068.6" r="55.5"/><circle cx="271.7" cy="1047.6" r="55.5"/><circle cx="156.4" cy="1161.8" r="55.5"/><circle cx="270.6" cy="1162.9" r="55.5"/><circle cx="221.8" cy="1096.4" r="48.5"/></g>
<g fill="#e98d9c"><circle cx="138.7" cy="1068.6" r="53.8"/><circle cx="271.7" cy="1047.6" r="53.8"/><circle cx="156.4" cy="1161.8" r="53.8"/><circle cx="270.6" cy="1162.9" r="53.8"/><circle cx="221.8" cy="1096.4" r="47.5"/></g>
<g fill="#eb95a3"><circle cx="138.7" cy="1068.6" r="52.1"/><circle cx="271.7" cy="1047.6" r="52.1"/><circle cx="156.4" cy="1161.8" r="52.1"/><circle cx="270.6" cy="1162.9" r="52.1"/><circle cx="221.8" cy="1096.4" r="46.5"/></g>
<g fill="#ed9eab"><circle cx="138.7" cy="1068.6" r="50.4"/><circle cx="271.7" cy="1047.6" r="50.4"/><circle cx="156.4" cy="1161.8" r="50.4"/><circle cx="270.6" cy="1162.9" r="50.4"/><circle cx="221.8" cy="1096.4" r="45.4"/></g>
<g fill="#efa7b3"><circle cx="138.7" cy="1068.6" r="48.7"/><circle cx="271.7" cy="1047.6" r="48.7"/><circle cx="156.4" cy="1161.8" r="48.7"/><circle cx="270.6" cy="1162.9" r="48.7"/><circle cx="221.8" cy="1096.4" r="44.4"/></g>
<g fill="#f1b0bb"><circle cx="138.7" cy="1068.6" r="47.0"/><circle cx="271.7" cy="1047.6" r="47.0"/><circle cx="156.4" cy="1161.8" r="47.0"/><circle cx="270.6" cy="1162.9" r="47.0"/><circle cx="221.8" cy="1096.4" r="43.4"/></g>
<g fill="#f3b9c2"><circle cx="138.7" cy="1068.6" r="45.3"/><circle cx="271.7" cy="1047.6" r="45.3"/><circle cx="156.4" cy="1161.8" r="45.3"/><circle cx="270.6" cy="1162.9" r="45.3"/><circle cx="221.8" cy="1096.4" r="42.4"/></g>
<g fill="#f5c3cb"><circle cx="138.7" cy="1068.6" r="43.6"/><circle cx="271.7" cy="1047.6" r="43.6"/><circle cx="156.4" cy="1161.8" r="43.6"/><circle cx="270.6" cy="1162.9" r="43.6"/><circle cx="221.8" cy="1096.4" r="42.0"/></g>
<circle cx="213" cy="1108" r="44" fill="#fbeff1"/>
<circle cx="138.7" cy="1068.6" r="42.3" fill="url(#sg)"/><circle cx="138.7" cy="1068.6" r="42.3" fill="url(#rim)"/>
<circle cx="271.7" cy="1047.6" r="42.3" fill="url(#sg)"/><circle cx="271.7" cy="1047.6" r="42.3" fill="url(#rim)"/>
<circle cx="170.2" cy="1028.3" r="6.4" fill="url(#bk)"/><circle cx="184.1" cy="1026.5" r="6.4" fill="url(#bk)"/><circle cx="197.4" cy="1023.2" r="6.4" fill="url(#bk)"/><circle cx="180.8" cy="1038.7" r="6.4" fill="url(#bk)"/>
<circle cx="221.8" cy="1096.4" r="42.3" fill="url(#sg)"/><circle cx="221.8" cy="1096.4" r="42.3" fill="url(#rim)"/>
<circle cx="166" cy="1111.9" r="6.4" fill="url(#bk)"/><circle cx="175.3" cy="1107.4" r="6.4" fill="url(#bk)"/><circle cx="177.5" cy="1116.3" r="6.4" fill="url(#bk)"/>
<circle cx="156.4" cy="1161.8" r="42.3" fill="url(#sg)"/><circle cx="156.4" cy="1161.8" r="42.3" fill="url(#rim)"/>
<circle cx="270.6" cy="1162.9" r="42.3" fill="url(#sg)"/><circle cx="270.6" cy="1162.9" r="42.3" fill="url(#rim)"/>
<circle cx="283.9" cy="1118.1" r="6.4" fill="url(#bk)"/><circle cx="295" cy="1111.9" r="6.4" fill="url(#bk)"/><circle cx="308.3" cy="1109.7" r="6.4" fill="url(#bk)"/><circle cx="306.1" cy="1123" r="6.4" fill="url(#bk)"/><circle cx="296.1" cy="1123" r="6.4" fill="url(#bk)"/>
<circle cx="206.3" cy="1151.8" r="6.4" fill="url(#bk)"/><circle cx="218.5" cy="1160.6" r="6.4" fill="url(#bk)"/><circle cx="207.4" cy="1168.4" r="6.4" fill="url(#bk)"/><circle cx="215.2" cy="1179.5" r="6.4" fill="url(#bk)"/><circle cx="222.9" cy="1172.8" r="6.4" fill="url(#bk)"/>
<path d="M183.0,1029.4 C172.1,1030.7 169.6,1044.5 158.5,1046.0" fill="none" stroke="#e01818" stroke-width="1.8" marker-end="url(#ar)" />
<path d="M192.0,1103.2 C177.7,1107.3 172.1,1123.6 157.4,1128.0" fill="none" stroke="#e01818" stroke-width="1.8" marker-end="url(#ar)" marker-start="url(#ar)"/>
<path d="M300.5,1116.3 C290.6,1122.8 293.3,1137.2 283.2,1144.0" fill="none" stroke="#e01818" stroke-width="1.8" marker-end="url(#ar)" />
<path d="M189.0,1160.8 C206.1,1171.1 227.3,1168.8 245.0,1179.2" fill="none" stroke="#e01818" stroke-width="1.8" marker-end="url(#ar)" marker-start="url(#ar)"/>
<path d="M352.3,1019.3 A57,100.6 0 0 1 352.3,1220.5" fill="none" stroke="#e87c8b" stroke-width="7.3"/>
</svg>
<svg class="abs blur" style="left:930px;top:970px" width="400" height="280" viewBox="930 970 400 280">
<g fill="#f59f70"><circle cx="1004.5" cy="1057.5" r="56.3"/><circle cx="1092.6" cy="1058.5" r="56.3"/><circle cx="1181.5" cy="1058" r="56.3"/><circle cx="1053.2" cy="1165.5" r="56.3"/><circle cx="1145.5" cy="1165.5" r="56.3"/><circle cx="1024" cy="1112" r="27.0"/><circle cx="1169" cy="1112" r="27.0"/></g>
<g fill="#f6a579"><circle cx="1004.5" cy="1057.5" r="54.5"/><circle cx="1092.6" cy="1058.5" r="54.5"/><circle cx="1181.5" cy="1058" r="54.5"/><circle cx="1053.2" cy="1165.5" r="54.5"/><circle cx="1145.5" cy="1165.5" r="54.5"/><circle cx="1024" cy="1112" r="25.2"/><circle cx="1169" cy="1112" r="25.2"/></g>
<g fill="#f7ac83"><circle cx="1004.5" cy="1057.5" r="52.7"/><circle cx="1092.6" cy="1058.5" r="52.7"/><circle cx="1181.5" cy="1058" r="52.7"/><circle cx="1053.2" cy="1165.5" r="52.7"/><circle cx="1145.5" cy="1165.5" r="52.7"/><circle cx="1024" cy="1112" r="23.4"/><circle cx="1169" cy="1112" r="23.4"/></g>
<g fill="#f8b38e"><circle cx="1004.5" cy="1057.5" r="50.9"/><circle cx="1092.6" cy="1058.5" r="50.9"/><circle cx="1181.5" cy="1058" r="50.9"/><circle cx="1053.2" cy="1165.5" r="50.9"/><circle cx="1145.5" cy="1165.5" r="50.9"/><circle cx="1024" cy="1112" r="21.6"/><circle cx="1169" cy="1112" r="21.6"/></g>
<g fill="#f8ba98"><circle cx="1004.5" cy="1057.5" r="49.1"/><circle cx="1092.6" cy="1058.5" r="49.1"/><circle cx="1181.5" cy="1058" r="49.1"/><circle cx="1053.2" cy="1165.5" r="49.1"/><circle cx="1145.5" cy="1165.5" r="49.1"/><circle cx="1024" cy="1112" r="19.8"/><circle cx="1169" cy="1112" r="19.8"/></g>
<g fill="#f9c1a3"><circle cx="1004.5" cy="1057.5" r="47.3"/><circle cx="1092.6" cy="1058.5" r="47.3"/><circle cx="1181.5" cy="1058" r="47.3"/><circle cx="1053.2" cy="1165.5" r="47.3"/><circle cx="1145.5" cy="1165.5" r="47.3"/><circle cx="1024" cy="1112" r="18.0"/><circle cx="1169" cy="1112" r="18.0"/></g>
<g fill="#fac9ae"><circle cx="1004.5" cy="1057.5" r="45.5"/><circle cx="1092.6" cy="1058.5" r="45.5"/><circle cx="1181.5" cy="1058" r="45.5"/><circle cx="1053.2" cy="1165.5" r="45.5"/><circle cx="1145.5" cy="1165.5" r="45.5"/><circle cx="1024" cy="1112" r="16.2"/><circle cx="1169" cy="1112" r="16.2"/></g>
<g fill="#fbd1ba"><circle cx="1004.5" cy="1057.5" r="43.7"/><circle cx="1092.6" cy="1058.5" r="43.7"/><circle cx="1181.5" cy="1058" r="43.7"/><circle cx="1053.2" cy="1165.5" r="43.7"/><circle cx="1145.5" cy="1165.5" r="43.7"/><circle cx="1024" cy="1112" r="14.4"/><circle cx="1169" cy="1112" r="14.4"/></g>
<ellipse cx="1096" cy="1112" rx="58" ry="38" fill="#fdeee6"/>
<ellipse cx="1110" cy="1118" rx="32" ry="19" fill="#e6f0f8"/>
<circle cx="1003.9" cy="1061.1" r="40.8" fill="url(#sg)"/><circle cx="1003.9" cy="1061.1" r="40.8" fill="url(#rim)"/>
<circle cx="1092.6" cy="1063.6" r="40.8" fill="url(#sg)"/><circle cx="1092.6" cy="1063.6" r="40.8" fill="url(#rim)"/>
<circle cx="1182.5" cy="1062.4" r="40.8" fill="url(#sg)"/><circle cx="1182.5" cy="1062.4" r="40.8" fill="url(#rim)"/>
<circle cx="1044.5" cy="1082.1" r="4.8" fill="url(#bk)"/><circle cx="1053.2" cy="1084.5" r="4.8" fill="url(#bk)"/><circle cx="1138.1" cy="1068.5" r="4.8" fill="url(#bk)"/><circle cx="1019.9" cy="1111.6" r="4.8" fill="url(#bk)"/><circle cx="1033.4" cy="1115.3" r="4.8" fill="url(#bk)"/><circle cx="1067.9" cy="1114.1" r="4.8" fill="url(#bk)"/><circle cx="1079" cy="1111.6" r="4.8" fill="url(#bk)"/><circle cx="1120.9" cy="1104.2" r="4.8" fill="url(#bk)"/><circle cx="1124.6" cy="1117.8" r="4.8" fill="url(#bk)"/><circle cx="1173.8" cy="1119" r="4.8" fill="url(#bk)"/><circle cx="1183.7" cy="1112.9" r="4.8" fill="url(#bk)"/>
<circle cx="1053.2" cy="1159.7" r="40.8" fill="url(#sg)"/><circle cx="1053.2" cy="1159.7" r="40.8" fill="url(#rim)"/>
<circle cx="1145.5" cy="1159.7" r="40.8" fill="url(#sg)"/><circle cx="1145.5" cy="1159.7" r="40.8" fill="url(#rim)"/>
<circle cx="1096.3" cy="1154.7" r="4.8" fill="url(#bk)"/><circle cx="1102.4" cy="1158.4" r="4.8" fill="url(#bk)"/>
<path d="M1032.2,1075.9 C1042.1,1082.2 1054.8,1079.3 1065.0,1085.8" fill="none" stroke="#e01818" stroke-width="1.6" marker-end="url(#ar)" marker-start="url(#ar)"/>
<path d="M1125.8,1064.8 C1132.7,1071.3 1143.3,1068.9 1150.4,1075.4" fill="none" stroke="#e01818" stroke-width="1.6" marker-end="url(#ar)" marker-start="url(#ar)"/>
<path d="M1013.3,1097.6 C1018.6,1110.2 1031.6,1117.1 1037.1,1130.1" fill="none" stroke="#e01818" stroke-width="1.6" marker-end="url(#ar)" marker-start="url(#ar)"/>
<path d="M1086.4,1098.1 C1074.6,1105.8 1069.7,1120.1 1057.6,1128.1" fill="none" stroke="#e01818" stroke-width="1.6" marker-end="url(#ar)" marker-start="url(#ar)"/>
<path d="M1112.3,1094.4 C1114.0,1106.6 1124.5,1115.1 1126.3,1127.6" fill="none" stroke="#e01818" stroke-width="1.6" marker-end="url(#ar)" marker-start="url(#ar)"/>
<path d="M1187.4,1098.1 C1178.1,1108.0 1177.2,1122.7 1167.7,1133.1" fill="none" stroke="#e01818" stroke-width="1.6" marker-end="url(#ar)" marker-start="url(#ar)"/>
<path d="M1083.9,1154.2 C1094.7,1159.6 1107.3,1155.5 1118.4,1160.9" fill="none" stroke="#e01818" stroke-width="1.6" marker-end="url(#ar)" marker-start="url(#ar)"/>
<path d="M1015.0,1037.0 C1045.8,1034.5 1045.8,1061.6 1077.8,1059.2" fill="none" stroke="#b5d5ee" stroke-width="4.8" opacity="0.8" stroke-linecap="round"/><path d="M1015.0,1037.0 C1045.8,1034.5 1045.8,1061.6 1077.8,1059.2" fill="none" stroke="#3580c0" stroke-width="1.5" marker-end="url(#ab)" marker-start="url(#ab)"/>
<path d="M1125.1,1036.5 C1146.7,1034.5 1141.8,1019.3 1166.0,1016.8" fill="none" stroke="#b5d5ee" stroke-width="4.8" opacity="0.8" stroke-linecap="round"/><path d="M1125.1,1036.5 C1146.7,1034.5 1141.8,1019.3 1166.0,1016.8" fill="none" stroke="#3580c0" stroke-width="1.5" marker-end="url(#ab)" marker-start="url(#ab)"/>
<path d="M1091.3,1131.3 C1124.6,1127.6 1112.3,1100.5 1146.7,1097.6" fill="none" stroke="#b5d5ee" stroke-width="4.8" opacity="0.8" stroke-linecap="round"/><path d="M1091.3,1131.3 C1124.6,1127.6 1112.3,1100.5 1146.7,1097.6" fill="none" stroke="#3580c0" stroke-width="1.5" marker-end="url(#ab)" marker-start="url(#ab)"/>
<path d="M957.1,1056.7 C962.0,1098.1 979.3,1127.6 1003.9,1130.6 C1028.5,1133.8 1048.2,1162.1 1050.7,1196.6" fill="none" stroke="#b5d5ee" stroke-width="4.8" opacity="0.8" stroke-linecap="round"/><path d="M957.1,1056.7 C962.0,1098.1 979.3,1127.6 1003.9,1130.6 C1028.5,1133.8 1048.2,1162.1 1050.7,1196.6" fill="none" stroke="#3580c0" stroke-width="1.5" marker-end="url(#ab)" marker-start="url(#ab)"/>
<path d="M1228.5,1041.9 C1225.6,1088.2 1220.6,1112.9 1198.5,1117.8 C1171.4,1123.9 1157.8,1167.0 1157.8,1201.5" fill="none" stroke="#b5d5ee" stroke-width="4.8" opacity="0.8" stroke-linecap="round"/><path d="M1228.5,1041.9 C1225.6,1088.2 1220.6,1112.9 1198.5,1117.8 C1171.4,1123.9 1157.8,1167.0 1157.8,1201.5" fill="none" stroke="#3580c0" stroke-width="1.5" marker-end="url(#ab)" marker-start="url(#ab)"/>
<path d="M1262.3,996.7 A49.7,102.7 0 0 1 1262.3,1202.1" fill="none" stroke="#fa934d" stroke-width="7.3"/>
</svg>
<svg class="abs" style="left:0;top:1330px" width="1100" height="660" viewBox="0 1330 1100 660">
<polygon points="238,1377.6 859,1377.6 896.4,1418.8 859,1460 238,1460" fill="#8fd878"/>
<polygon points="238,1481.2 974.8,1481.2 1011.9,1523.2 974.8,1565.2 238,1565.2" fill="#3c7e24"/>
<polygon points="238,1648.6 802.1,1648.6 839.1,1689.9 802.1,1731.2 238,1731.2" fill="#8fd878"/>
<polygon points="238,1752.4 974.8,1752.4 1011.9,1794.2 974.8,1836 238,1836" fill="#3c7e24"/>
<circle cx="237.9" cy="1467.3" r="114.3" fill="#fff" stroke="#8fd878" stroke-width="5.2"/>
<circle cx="239" cy="1739.7" r="115.4" fill="#fff" stroke="#8fd878" stroke-width="5.2"/>
<rect x="183.4" y="1904.4" width="54.4" height="54.4" fill="#8fd878"/>
<rect x="474.3" y="1904.4" width="54" height="54.4" fill="#3c7e24"/>
</svg>
<svg class="abs" style="left:1340px;top:1101.4px" width="40" height="20" viewBox="0 0 40 20"><path d="M1,10 H33 M25.5,3 L33.5,10 L25.5,17" fill="none" stroke="#f7964f" stroke-width="2" stroke-linejoin="miter"/></svg>
<svg class="abs" style="left:1340px;top:1183.9px" width="40" height="20" viewBox="0 0 40 20"><path d="M1,10 H33 M25.5,3 L33.5,10 L25.5,17" fill="none" stroke="#f7964f" stroke-width="2" stroke-linejoin="miter"/></svg>
<svg class="abs blur" style="left:60px;top:2240px" width="520" height="420" viewBox="60 2240 520 420">
<clipPath id="c3"><rect x="149.1" y="2257.1" width="398.1" height="318.6"/></clipPath><g clip-path="url(#c3)">
<polyline points="164.0,2416.4 164.3,2414.2 164.5,2412.0 164.7,2409.8 165.0,2407.5 165.2,2405.3 165.4,2403.1 165.6,2400.8 165.8,2398.6 166.0,2396.4 166.2,2394.1 166.4,2391.9 166.6,2389.7 166.9,2387.5 167.1,2385.3 167.4,2383.1 167.8,2380.9 168.1,2378.7 168.5,2376.6 168.9,2374.5 169.4,2372.3 169.9,2370.4 170.6,2368.1 171.4,2365.9 172.4,2363.7 173.5,2361.9 174.6,2360.7 175.8,2360.2 177.4,2360.2 179.1,2360.1 181.1,2360.1 183.2,2360.0 185.4,2360.0 187.8,2359.9 190.4,2359.9 193.0,2359.9 195.8,2359.8 198.7,2359.8 201.7,2359.8 204.7,2359.7 207.9,2359.7 211.1,2359.7 214.3,2359.7 217.6,2359.7 220.9,2359.6 224.2,2359.6 227.5,2359.6 230.9,2359.6 234.2,2359.6 237.5,2359.6 240.7,2359.6 244.0,2359.6 247.1,2359.6 250.2,2359.6 253.2,2359.6 256.1,2359.6 259.0,2359.6 261.9,2359.6 264.8,2359.6 267.7,2359.6 270.6,2359.6 273.4,2359.6 276.3,2359.6 279.2,2359.6 282.1,2359.6 285.0,2359.6 287.9,2359.6 290.8,2359.6 293.7,2359.6 296.5,2359.6 299.4,2359.6 302.3,2359.6 305.2,2359.6 308.1,2359.6 311.0,2359.6 313.9,2359.6 316.8,2359.6 319.7,2359.6 322.5,2359.6 325.4,2359.6 328.3,2359.6 331.2,2359.6 334.1,2359.6 337.0,2359.6 339.9,2359.6 342.8,2359.6 345.6,2359.6 348.5,2359.6 351.4,2359.6 354.3,2359.6 357.2,2359.6 360.1,2359.6 363.0,2359.6 366.0,2359.6 369.0,2359.6 371.9,2359.5 374.9,2359.5 377.9,2359.5 380.9,2359.5 383.9,2359.5 386.9,2359.5 390.0,2359.5 393.0,2359.5 396.0,2359.4 399.0,2359.4 402.0,2359.4 405.0,2359.4 407.9,2359.3 410.9,2359.3 413.8,2359.3 416.8,2359.2 419.7,2359.2 422.6,2359.1 425.4,2359.1 428.3,2359.0 431.1,2359.0 433.9,2358.9 436.6,2358.9 439.3,2358.8 442.0,2358.8 444.7,2358.7 447.3,2358.6 449.8,2358.5 452.3,2358.5 454.8,2358.4 457.3,2358.3 459.1,2358.0 461.1,2357.2 463.0,2356.2 464.9,2354.9 466.5,2353.5 467.9,2352.0 468.8,2350.6 469.7,2349.1 470.4,2347.4 471.1,2345.5 471.7,2343.6 472.2,2341.6 472.7,2339.6 473.1,2337.5 473.5,2335.5 473.9,2333.4 474.2,2331.5 474.5,2329.4 474.8,2327.3 475.0,2325.2 475.3,2323.1 475.5,2321.0 475.7,2318.9 476.0,2316.8 476.2,2314.7 476.3,2312.6 476.5,2310.5 476.7,2308.4 476.8,2306.3 476.9,2304.2 477.1,2302.1 477.2,2299.9 477.3,2297.8 477.4,2295.6 477.5,2293.5 477.6,2291.3 477.6,2289.1 477.7,2287.0 477.8,2284.8 477.9,2282.6 477.9,2280.5 478.0,2278.3 478.1,2276.1 478.1,2274.0 478.2,2271.8 478.3,2269.7 478.4,2267.5 478.4,2265.3 478.5,2263.2" fill="none" stroke="#f9c5d1" stroke-width="2.05" stroke-linejoin="round" stroke-linecap="round" opacity="1"/>
<polyline points="164.0,2339.8 164.9,2341.6 165.8,2343.4 166.7,2345.2 167.6,2347.0 168.5,2348.8 169.4,2350.6 170.4,2352.9 171.4,2355.6 172.3,2358.2 173.4,2360.5 174.5,2362.1 175.8,2362.8 177.6,2362.8 179.6,2362.9 181.8,2362.9 184.2,2363.0 186.8,2363.0 189.6,2363.1 192.6,2363.1 195.7,2363.2 198.9,2363.2 202.3,2363.2 205.7,2363.2 209.3,2363.3 212.9,2363.3 216.5,2363.3 220.2,2363.3 223.9,2363.3 227.7,2363.4 231.4,2363.4 235.1,2363.4 238.8,2363.4 242.4,2363.4 246.0,2363.4 249.5,2363.4 252.8,2363.4 256.1,2363.4 259.3,2363.4 262.5,2363.4 265.6,2363.4 268.8,2363.4 272.0,2363.4 275.2,2363.4 278.4,2363.4 281.5,2363.4 284.7,2363.4 287.9,2363.4 291.1,2363.4 294.2,2363.4 297.4,2363.4 300.6,2363.4 303.8,2363.4 306.9,2363.4 310.1,2363.4 313.3,2363.4 316.5,2363.4 319.7,2363.4 322.8,2363.4 326.0,2363.4 329.2,2363.4 332.4,2363.4 335.5,2363.4 338.7,2363.4 341.9,2363.4 345.1,2363.4 348.2,2363.4 351.4,2363.4 354.6,2363.4 357.9,2363.4 361.1,2363.4 364.4,2363.4 367.7,2363.4 371.1,2363.4 374.4,2363.4 377.8,2363.5 381.1,2363.5 384.5,2363.5 387.9,2363.5 391.3,2363.5 394.6,2363.5 398.0,2363.6 401.4,2363.6 404.7,2363.6 408.0,2363.7 411.3,2363.7 414.6,2363.8 417.8,2363.8 421.1,2363.8 424.2,2363.9 427.4,2364.0 430.5,2364.0 433.5,2364.1 436.5,2364.2 439.5,2364.2 442.4,2364.3 445.2,2364.4 448.0,2364.5 450.7,2364.6 453.4,2364.7 455.4,2365.1 457.5,2366.1 459.6,2367.5 461.4,2369.1 462.9,2370.8 464.0,2372.3 464.9,2374.3 465.8,2376.3 466.5,2378.5 467.2,2380.8 467.7,2383.2 468.3,2385.7 468.7,2388.1 469.1,2390.6 469.5,2393.0 469.8,2395.3 470.1,2397.8 470.4,2400.3 470.7,2402.7 471.0,2405.2 471.3,2407.7 471.5,2410.2 471.7,2412.6 471.9,2415.1 472.1,2417.6 472.3,2420.1 472.5,2422.6 472.7,2425.1 472.9,2427.6 473.0,2430.1 473.2,2432.6 473.4,2435.1 473.5,2437.5 473.7,2440.0 473.8,2442.6 474.0,2445.2 474.1,2447.8 474.3,2450.4 474.4,2453.0 474.6,2455.6 474.7,2458.2 474.9,2460.8 475.0,2463.4 475.1,2466.0 475.3,2468.6 475.4,2471.2 475.5,2473.8 475.6,2476.4 475.7,2479.0 475.9,2481.6 476.0,2484.2 476.1,2486.8 476.2,2489.4 476.3,2492.0 476.4,2494.7 476.5,2497.3 476.6,2499.9 476.7,2502.5 476.8,2505.1 477.0,2507.7 477.1,2510.3 477.2,2512.9 477.3,2515.5 477.4,2518.1 477.5,2520.7 477.6,2523.3 477.7,2525.9 477.8,2528.5 477.9,2531.1 478.0,2533.7 478.2,2536.3 478.3,2538.9 478.4,2541.5 478.5,2544.1" fill="none" stroke="#f9c5d1" stroke-width="2.05" stroke-linejoin="round" stroke-linecap="round" opacity="1"/>
<polyline points="163.6,2416.4 163.9,2414.2 164.1,2412.0 164.3,2409.8 164.4,2407.6 164.6,2405.4 164.8,2403.2 165.0,2401.0 165.1,2398.8 165.3,2396.6 165.5,2394.4 165.6,2392.2 165.8,2390.0 166.0,2387.8 166.2,2385.6 166.5,2383.4 166.7,2381.3 167.0,2379.1 167.3,2377.0 167.6,2374.8 167.9,2372.7 168.3,2370.6 168.7,2368.5 169.2,2366.5 169.9,2364.3 170.8,2362.0 171.7,2359.9 172.8,2358.1 174.0,2356.9 175.2,2356.4 176.7,2356.3 178.4,2356.2 180.3,2356.2 182.4,2356.1 184.6,2356.0 186.9,2356.0 189.4,2355.9 192.0,2355.9 194.8,2355.8 197.6,2355.8 200.5,2355.8 203.5,2355.7 206.6,2355.7 209.7,2355.7 212.9,2355.6 216.1,2355.6 219.3,2355.6 222.6,2355.6 225.9,2355.6 229.1,2355.6 232.4,2355.5 235.6,2355.5 238.8,2355.5 241.9,2355.5 245.0,2355.5 248.1,2355.5 251.0,2355.4 253.9,2355.4 256.7,2355.4 259.5,2355.4 262.3,2355.4 265.1,2355.4 268.0,2355.3 270.8,2355.3 273.6,2355.3 276.4,2355.3 279.2,2355.3 282.1,2355.3 284.9,2355.3 287.7,2355.3 290.5,2355.2 293.3,2355.2 296.2,2355.2 299.0,2355.2 301.8,2355.2 304.6,2355.2 307.4,2355.2 310.3,2355.2 313.1,2355.2 315.9,2355.1 318.7,2355.1 321.5,2355.1 324.4,2355.1 327.2,2355.1 330.0,2355.1 332.8,2355.1 335.6,2355.1 338.5,2355.0 341.3,2355.0 344.1,2355.0 346.9,2355.0 349.7,2355.0 352.6,2354.9 355.4,2354.9 358.3,2354.9 361.1,2354.9 364.0,2354.9 366.9,2354.8 369.8,2354.8 372.7,2354.8 375.6,2354.8 378.5,2354.7 381.4,2354.7 384.3,2354.7 387.2,2354.7 390.1,2354.6 393.0,2354.6 395.9,2354.6 398.8,2354.5 401.7,2354.5 404.6,2354.4 407.4,2354.4 410.2,2354.3 413.1,2354.3 415.9,2354.2 418.6,2354.1 421.4,2354.1 424.1,2354.0 426.8,2353.9 429.5,2353.8 432.2,2353.7 434.8,2353.6 437.4,2353.5 440.0,2353.4 442.5,2353.3 445.0,2353.2 447.3,2352.9 449.6,2352.1 452.0,2351.1 454.2,2349.8 456.2,2348.4 457.9,2346.9 459.2,2345.5 460.2,2344.0 461.1,2342.4 461.9,2340.6 462.6,2338.6 463.3,2336.6 463.9,2334.6 464.4,2332.5 464.9,2330.4 465.3,2328.4 465.7,2326.4 466.1,2324.3 466.4,2322.2 466.7,2320.1 467.0,2318.1 467.3,2316.0 467.6,2313.9 467.8,2311.8 468.1,2309.6 468.3,2307.5 468.5,2305.4 468.7,2303.3 468.9,2301.2 469.1,2299.1 469.2,2297.0 469.4,2294.9 469.5,2292.8 469.6,2290.7 469.8,2288.5 469.9,2286.4 470.0,2284.3 470.1,2282.2 470.2,2280.1 470.3,2278.0 470.4,2275.9 470.5,2273.7 470.6,2271.6 470.7,2269.5 470.8,2267.4 470.9,2265.3 471.0,2263.2" fill="none" stroke="#ec94bd" stroke-width="2.05" stroke-linejoin="round" stroke-linecap="round" opacity="1"/>
<polyline points="163.6,2339.8 164.3,2341.9 165.0,2344.0 165.7,2346.1 166.4,2348.2 167.1,2350.3 167.9,2352.4 168.7,2354.5 169.5,2356.4 170.3,2358.6 171.1,2360.9 172.0,2363.1 173.0,2364.8 174.0,2366.1 175.2,2366.6 176.9,2366.7 178.9,2366.8 181.0,2366.8 183.4,2366.9 185.9,2367.0 188.7,2367.0 191.6,2367.1 194.6,2367.1 197.7,2367.2 201.0,2367.2 204.4,2367.3 207.8,2367.3 211.3,2367.3 214.9,2367.3 218.5,2367.4 222.1,2367.4 225.8,2367.4 229.4,2367.4 233.1,2367.4 236.6,2367.5 240.2,2367.5 243.6,2367.5 247.0,2367.5 250.3,2367.5 253.5,2367.6 256.6,2367.6 259.7,2367.6 262.8,2367.6 265.9,2367.6 269.0,2367.6 272.1,2367.7 275.2,2367.7 278.3,2367.7 281.4,2367.7 284.4,2367.7 287.5,2367.7 290.6,2367.7 293.7,2367.7 296.8,2367.8 299.9,2367.8 303.0,2367.8 306.1,2367.8 309.2,2367.8 312.3,2367.8 315.4,2367.8 318.5,2367.8 321.5,2367.9 324.6,2367.9 327.7,2367.9 330.8,2367.9 333.9,2367.9 337.0,2367.9 340.1,2368.0 343.2,2368.0 346.3,2368.0 349.4,2368.0 352.5,2368.0 355.7,2368.1 358.9,2368.1 362.0,2368.1 365.3,2368.1 368.5,2368.2 371.7,2368.2 374.9,2368.2 378.2,2368.2 381.4,2368.3 384.6,2368.3 387.9,2368.4 391.1,2368.4 394.3,2368.4 397.5,2368.5 400.7,2368.5 403.8,2368.6 406.9,2368.7 410.1,2368.7 413.1,2368.8 416.2,2368.9 419.2,2369.0 422.2,2369.1 425.1,2369.2 428.1,2369.3 430.9,2369.4 433.7,2369.5 436.5,2369.6 439.2,2369.8 441.7,2370.2 444.2,2371.2 446.7,2372.6 449.0,2374.1 450.8,2375.8 452.2,2377.5 453.2,2379.1 454.1,2380.9 455.0,2382.9 455.7,2384.9 456.4,2387.1 457.0,2389.3 457.6,2391.5 458.1,2393.8 458.5,2396.1 458.9,2398.3 459.3,2400.4 459.7,2402.8 460.0,2405.1 460.4,2407.4 460.7,2409.8 461.0,2412.1 461.3,2414.5 461.5,2416.8 461.8,2419.2 462.0,2421.5 462.2,2423.9 462.5,2426.2 462.7,2428.6 462.9,2431.0 463.1,2433.3 463.3,2435.7 463.5,2438.1 463.6,2440.4 463.8,2442.8 464.0,2445.1 464.2,2447.7 464.4,2450.2 464.6,2452.7 464.8,2455.3 465.0,2457.8 465.1,2460.3 465.3,2462.9 465.5,2465.4 465.6,2468.0 465.8,2470.5 466.0,2473.0 466.1,2475.6 466.3,2478.1 466.4,2480.6 466.6,2483.2 466.7,2485.7 466.9,2488.3 467.0,2490.8 467.1,2493.3 467.3,2495.9 467.4,2498.4 467.6,2500.9 467.7,2503.5 467.8,2506.0 468.0,2508.6 468.1,2511.1 468.2,2513.6 468.4,2516.2 468.5,2518.7 468.6,2521.3 468.8,2523.8 468.9,2526.3 469.1,2528.9 469.2,2531.4 469.3,2533.9 469.5,2536.5 469.6,2539.0 469.8,2541.6 469.9,2544.1" fill="none" stroke="#ec94bd" stroke-width="2.05" stroke-linejoin="round" stroke-linecap="round" opacity="1"/>
<polyline points="163.4,2416.4 163.5,2414.3 163.7,2412.3 163.8,2410.2 163.9,2408.1 164.0,2406.0 164.1,2403.9 164.2,2401.8 164.3,2399.7 164.4,2397.6 164.5,2395.5 164.6,2393.4 164.7,2391.4 164.8,2389.3 164.9,2387.2 165.0,2385.1 165.2,2383.0 165.3,2381.0 165.5,2378.9 165.6,2376.8 165.8,2374.8 166.0,2372.8 166.2,2370.7 166.4,2368.7 166.7,2366.7 166.9,2364.7 167.2,2362.8 167.7,2360.8 168.3,2358.6 169.2,2356.3 170.2,2354.2 171.3,2352.4 172.5,2351.2 173.7,2350.6 175.1,2350.5 176.7,2350.4 178.5,2350.3 180.4,2350.3 182.4,2350.2 184.6,2350.1 186.9,2350.1 189.3,2350.0 191.9,2350.0 194.5,2349.9 197.2,2349.9 200.0,2349.8 202.8,2349.8 205.7,2349.8 208.7,2349.7 211.6,2349.7 214.7,2349.7 217.7,2349.7 220.7,2349.6 223.7,2349.6 226.8,2349.6 229.7,2349.6 232.7,2349.5 235.6,2349.5 238.5,2349.5 241.3,2349.4 244.0,2349.4 246.7,2349.4 249.4,2349.3 252.0,2349.3 254.7,2349.2 257.4,2349.2 260.1,2349.1 262.8,2349.1 265.5,2349.1 268.1,2349.0 270.8,2349.0 273.5,2348.9 276.2,2348.9 278.9,2348.8 281.6,2348.8 284.2,2348.8 286.9,2348.7 289.6,2348.7 292.3,2348.7 295.0,2348.6 297.7,2348.6 300.3,2348.5 303.0,2348.5 305.7,2348.4 308.4,2348.4 311.1,2348.4 313.8,2348.3 316.4,2348.3 319.1,2348.2 321.8,2348.2 324.5,2348.1 327.2,2348.1 329.9,2348.0 332.5,2348.0 335.2,2347.9 337.9,2347.8 340.6,2347.8 343.3,2347.7 346.0,2347.7 348.6,2347.6 351.3,2347.5 354.0,2347.4 356.6,2347.4 359.1,2347.3 361.7,2347.2 364.3,2347.2 366.8,2347.1 369.4,2347.0 372.0,2346.9 374.6,2346.8 377.1,2346.7 379.7,2346.6 382.3,2346.5 384.8,2346.4 387.4,2346.3 390.0,2346.1 392.5,2346.0 395.1,2345.8 397.6,2345.7 400.1,2345.5 402.7,2345.3 405.2,2345.1 407.7,2344.9 409.9,2344.7 412.1,2344.3 414.3,2343.9 416.5,2343.5 418.7,2343.0 420.9,2342.4 423.0,2341.8 425.1,2341.2 427.2,2340.5 429.1,2339.8 431.1,2339.0 433.1,2338.0 435.1,2337.0 437.0,2335.9 438.8,2334.7 440.5,2333.4 442.0,2332.1 443.5,2330.8 444.9,2329.3 446.2,2327.7 447.5,2326.1 448.7,2324.4 449.8,2322.8 450.8,2321.0 451.7,2319.3 452.5,2317.6 453.2,2315.8 453.9,2314.0 454.5,2312.1 455.1,2310.3 455.6,2308.4 456.2,2306.5 456.7,2304.6 457.2,2302.7 457.6,2300.8 458.1,2298.9 458.6,2297.1 459.0,2295.2 459.4,2293.4 459.8,2291.5 460.2,2289.7 460.5,2287.8 460.9,2285.9 461.3,2284.1 461.6,2282.2 462.0,2280.3 462.4,2278.5 462.8,2276.6 463.2,2274.7 463.6,2272.7 464.0,2270.8 464.4,2268.9 464.8,2267.0 465.2,2265.1 465.6,2263.2" fill="none" stroke="#ee838c" stroke-width="2.1500000000000004" stroke-linejoin="round" stroke-linecap="round" opacity="1"/>
<polyline points="163.4,2339.8 163.7,2341.9 164.0,2344.0 164.3,2346.2 164.5,2348.3 164.8,2350.5 165.1,2352.6 165.4,2354.7 165.8,2356.8 166.2,2358.9 166.7,2360.8 167.2,2362.8 168.0,2364.6 169.2,2366.6 170.6,2368.4 172.1,2369.8 173.7,2370.4 175.7,2370.6 177.9,2370.7 180.2,2370.8 182.6,2370.9 185.2,2370.9 187.8,2371.0 190.6,2371.1 193.4,2371.1 196.4,2371.2 199.4,2371.2 202.4,2371.3 205.6,2371.3 208.7,2371.3 211.9,2371.4 215.1,2371.4 218.4,2371.4 221.6,2371.4 224.9,2371.5 228.1,2371.5 231.3,2371.5 234.5,2371.5 237.6,2371.6 240.7,2371.6 243.7,2371.7 246.7,2371.7 249.6,2371.8 252.6,2371.8 255.6,2371.9 258.6,2371.9 261.6,2371.9 264.6,2372.0 267.5,2372.0 270.5,2372.1 273.5,2372.1 276.5,2372.2 279.5,2372.2 282.5,2372.2 285.4,2372.3 288.4,2372.3 291.4,2372.4 294.4,2372.4 297.4,2372.4 300.4,2372.5 303.3,2372.5 306.3,2372.6 309.3,2372.6 312.3,2372.7 315.3,2372.7 318.3,2372.8 321.2,2372.8 324.2,2372.9 327.2,2372.9 330.2,2373.0 333.2,2373.1 336.1,2373.1 339.1,2373.2 342.1,2373.3 345.1,2373.4 348.0,2373.4 351.0,2373.5 354.0,2373.6 356.8,2373.7 359.6,2373.8 362.4,2373.9 365.2,2374.0 368.0,2374.2 370.8,2374.3 373.7,2374.4 376.5,2374.6 379.3,2374.8 382.1,2375.0 384.9,2375.2 387.6,2375.4 390.4,2375.6 393.1,2375.9 395.9,2376.2 398.6,2376.5 401.2,2376.8 403.7,2377.2 406.3,2377.8 408.8,2378.5 411.4,2379.3 413.8,2380.2 416.2,2381.1 418.4,2382.1 420.5,2383.2 422.4,2384.3 424.2,2385.5 426.0,2386.9 427.7,2388.3 429.3,2389.9 430.8,2391.5 432.2,2393.1 433.4,2394.7 434.6,2396.5 435.8,2398.4 436.9,2400.3 437.9,2402.3 438.8,2404.3 439.7,2406.4 440.5,2408.5 441.3,2410.5 442.0,2412.6 442.7,2414.6 443.4,2416.7 444.0,2418.8 444.6,2420.8 445.2,2422.9 445.7,2425.0 446.2,2427.1 446.8,2429.3 447.2,2431.4 447.7,2433.5 448.2,2435.6 448.6,2437.7 449.1,2439.8 449.5,2441.9 450.0,2444.2 450.4,2446.4 450.8,2448.6 451.3,2450.8 451.7,2453.1 452.0,2455.3 452.4,2457.5 452.8,2459.8 453.2,2462.0 453.5,2464.2 453.9,2466.5 454.3,2468.7 454.6,2471.0 455.0,2473.2 455.3,2475.4 455.6,2477.7 456.0,2479.9 456.3,2482.2 456.7,2484.4 457.0,2486.6 457.4,2488.9 457.8,2491.2 458.1,2493.5 458.5,2495.8 458.8,2498.1 459.2,2500.4 459.5,2502.7 459.9,2505.0 460.2,2507.3 460.5,2509.6 460.9,2511.9 461.2,2514.2 461.6,2516.5 461.9,2518.8 462.2,2521.1 462.6,2523.4 462.9,2525.7 463.3,2528.0 463.6,2530.3 463.9,2532.6 464.3,2534.9 464.6,2537.2 464.9,2539.5 465.3,2541.8 465.6,2544.1" fill="none" stroke="#ee838c" stroke-width="2.1500000000000004" stroke-linejoin="round" stroke-linecap="round" opacity="1"/>
<polyline points="164.0,2390.9 164.1,2389.2 164.2,2387.5 164.2,2385.8 164.3,2384.0 164.4,2382.3 164.4,2380.6 164.5,2378.9 164.6,2377.2 164.6,2375.5 164.7,2373.8 164.8,2372.1 164.8,2370.4 164.9,2368.7 165.0,2367.0 165.0,2365.3 165.1,2363.6 165.2,2361.9 165.2,2360.2 165.3,2358.5 165.4,2356.8 165.5,2355.1 165.5,2353.4 165.6,2351.7 165.7,2350.0 165.8,2348.3 165.9,2346.6 166.0,2344.9 166.1,2343.2 166.3,2341.5 166.4,2339.8 166.5,2338.2 166.6,2336.6 166.7,2334.9 166.8,2333.2 167.0,2331.5 167.1,2329.8 167.3,2328.2 167.5,2326.5 167.7,2324.9 168.0,2323.4 168.3,2321.9 168.6,2320.5 169.0,2319.2 169.4,2318.1 170.2,2317.0 171.5,2316.0 173.2,2315.2 174.8,2314.9 176.6,2314.9 178.5,2314.9 180.4,2314.9 182.4,2314.9 184.4,2315.0 186.4,2315.0 188.5,2315.0 190.6,2315.0 192.7,2315.1 194.8,2315.1 197.0,2315.2 199.1,2315.2 201.3,2315.2 203.5,2315.3 205.7,2315.3 207.9,2315.4 210.1,2315.4 212.3,2315.4 214.5,2315.4 216.6,2315.5 218.8,2315.5 221.0,2315.5 223.1,2315.5 225.2,2315.5 227.3,2315.5 229.5,2315.5 231.6,2315.5 233.8,2315.5 235.9,2315.5 238.1,2315.5 240.2,2315.4 242.4,2315.4 244.6,2315.4 246.7,2315.4 248.9,2315.3 251.0,2315.3 253.2,2315.3 255.3,2315.2 257.5,2315.2 259.6,2315.1 261.8,2315.1 263.9,2315.0 266.1,2315.0 268.2,2314.9 270.4,2314.9 272.5,2314.8 274.6,2314.7 276.8,2314.7 278.9,2314.6 281.1,2314.5 283.2,2314.5 285.3,2314.4 287.5,2314.3 289.6,2314.2 291.6,2314.1 293.7,2314.0 295.7,2313.8 297.7,2313.6 299.7,2313.4 301.8,2313.1 303.8,2312.9 305.8,2312.6 307.8,2312.2 309.8,2311.9 311.8,2311.6 313.8,2311.2 315.8,2310.9 317.8,2310.5 319.8,2310.1 321.8,2309.8 323.8,2309.4 325.9,2309.0 327.9,2308.5 330.0,2308.1 332.0,2307.6 334.0,2307.1 336.0,2306.6 338.1,2306.1 340.1,2305.5 342.1,2305.0 344.1,2304.4 346.1,2303.8 348.1,2303.2 350.0,2302.7 352.0,2302.1 354.0,2301.5 355.9,2300.9 357.9,2300.3 359.8,2299.7 361.8,2299.1 363.8,2298.5 365.7,2297.9 367.7,2297.2 369.6,2296.6 371.5,2295.9 373.4,2295.3 375.3,2294.6 377.2,2293.9 379.1,2293.1 380.9,2292.4 382.7,2291.6 384.5,2290.8 386.2,2290.0 387.9,2289.1 389.5,2288.2 391.2,2287.3 392.8,2286.2 394.4,2285.2 396.0,2284.1 397.5,2283.0 399.0,2281.9 400.5,2280.8 402.0,2279.6 403.4,2278.5 404.7,2277.3 406.1,2276.1 407.4,2274.9 408.6,2273.6 409.9,2272.3 411.1,2271.0 412.3,2269.7 413.5,2268.4 414.7,2267.1 415.9,2265.8 417.2,2264.4 418.4,2263.2" fill="none" stroke="#ee7783" stroke-width="2.25" stroke-linejoin="round" stroke-linecap="round" opacity="1"/>
<polyline points="161.4,2339.8 161.5,2341.8 161.5,2343.8 161.6,2345.9 161.6,2347.9 161.6,2349.9 161.6,2352.0 161.7,2354.0 161.7,2356.0 161.7,2358.1 161.7,2360.1 161.8,2362.1 161.8,2364.2 161.8,2366.2 161.9,2368.2 161.9,2370.3 162.0,2372.3 162.0,2374.3 162.1,2376.3 162.1,2378.3 162.2,2380.3 162.2,2382.3 162.3,2384.3 162.4,2386.3 162.5,2388.3 162.7,2389.8 163.0,2391.4 163.5,2392.9 164.0,2394.4 164.7,2395.9 165.4,2397.3 166.2,2398.5 167.2,2399.8 168.6,2401.0 170.2,2402.2 172.0,2403.1 173.7,2403.6 175.8,2404.0 177.9,2404.4 180.2,2404.7 182.5,2405.0 184.8,2405.3 187.2,2405.6 189.6,2405.8 192.1,2406.0 194.6,2406.1 197.2,2406.3 199.7,2406.5 202.3,2406.6 204.8,2406.7 207.4,2406.9 210.0,2407.0 212.6,2407.2 215.2,2407.3 217.7,2407.5 220.2,2407.7 222.7,2407.9 225.2,2408.1 227.7,2408.3 230.2,2408.6 232.7,2408.8 235.1,2409.0 237.6,2409.3 240.1,2409.5 242.6,2409.7 245.1,2410.0 247.6,2410.2 250.1,2410.4 252.6,2410.7 255.1,2410.9 257.6,2411.1 260.1,2411.4 262.5,2411.7 265.0,2411.9 267.5,2412.2 270.0,2412.5 272.4,2412.8 274.9,2413.1 277.4,2413.4 279.8,2413.7 282.3,2414.0 284.7,2414.4 287.2,2414.7 289.6,2415.1 291.9,2415.5 294.3,2415.9 296.6,2416.4 298.9,2416.8 301.3,2417.3 303.6,2417.9 305.9,2418.4 308.2,2419.0 310.5,2419.6 312.8,2420.2 315.1,2420.8 317.3,2421.5 319.6,2422.1 321.8,2422.8 324.0,2423.5 326.2,2424.2 328.4,2425.0 330.6,2425.8 332.8,2426.7 335.0,2427.6 337.1,2428.5 339.3,2429.4 341.4,2430.3 343.5,2431.3 345.6,2432.3 347.7,2433.3 349.7,2434.3 351.6,2435.2 353.6,2436.2 355.5,2437.2 357.4,2438.3 359.3,2439.3 361.2,2440.4 363.1,2441.5 364.9,2442.6 366.7,2443.7 368.5,2444.9 370.3,2446.0 372.1,2447.2 373.8,2448.4 375.5,2449.6 377.2,2450.9 378.9,2452.1 380.6,2453.5 382.3,2454.8 384.0,2456.2 385.6,2457.6 387.2,2459.0 388.7,2460.4 390.1,2461.9 391.4,2463.4 392.6,2464.9 393.8,2466.5 394.8,2468.1 395.8,2469.7 396.8,2471.4 397.8,2473.1 398.7,2474.8 399.5,2476.6 400.3,2478.3 401.1,2480.1 401.9,2481.8 402.7,2483.6 403.4,2485.4 404.1,2487.1 404.7,2488.9 405.4,2490.6 406.0,2492.4 406.7,2494.2 407.3,2496.0 407.9,2497.8 408.4,2499.5 409.0,2501.3 409.5,2503.1 410.0,2505.0 410.5,2506.8 411.0,2508.6 411.5,2510.4 412.0,2512.2 412.4,2514.0 412.9,2515.9 413.3,2517.8 413.7,2519.6 414.1,2521.5 414.4,2523.4 414.8,2525.3 415.2,2527.2 415.5,2529.0 415.9,2530.9 416.2,2532.8 416.6,2534.7 416.9,2536.6 417.3,2538.5 417.7,2540.3 418.0,2542.2 418.4,2544.1" fill="none" stroke="#ee7783" stroke-width="2.25" stroke-linejoin="round" stroke-linecap="round" opacity="1"/>
<polyline points="162.5,2390.9 162.6,2389.5 162.6,2388.2 162.6,2386.9 162.7,2385.5 162.7,2384.2 162.7,2382.9 162.8,2381.5 162.8,2380.2 162.8,2378.9 162.9,2377.6 162.9,2376.2 162.9,2374.9 162.9,2373.6 163.0,2372.2 163.0,2370.9 163.0,2369.6 163.1,2368.2 163.1,2366.9 163.1,2365.6 163.2,2364.3 163.2,2362.9 163.2,2361.6 163.3,2360.3 163.3,2358.9 163.3,2357.6 163.4,2356.3 163.4,2354.9 163.4,2353.6 163.5,2352.3 163.5,2350.9 163.5,2349.6 163.6,2348.3 163.6,2347.0 163.6,2345.6 163.7,2344.3 163.7,2343.0 163.7,2341.6 163.8,2340.3 163.8,2339.0 163.9,2337.6 163.9,2336.3 164.0,2335.0 164.0,2333.7 164.0,2332.3 164.1,2331.0 164.1,2329.7 164.2,2328.3 164.2,2327.0 164.3,2325.7 164.3,2324.4 164.4,2323.0 164.4,2321.7 164.5,2320.4 164.5,2319.1 164.6,2317.7 164.6,2316.4 164.7,2315.1 164.7,2313.7 164.8,2312.4 164.8,2311.1 164.9,2309.8 164.9,2308.4 165.0,2307.1 165.1,2305.8 165.1,2304.5 165.2,2303.1 165.3,2301.8 165.4,2300.5 165.5,2299.2 165.6,2297.9 165.7,2296.5 165.8,2295.2 165.9,2293.9 166.0,2292.6 166.1,2291.3 166.2,2290.0 166.4,2288.7 166.5,2287.5 166.7,2286.3 166.9,2285.0 167.2,2283.7 167.5,2282.5 167.9,2281.3 168.3,2280.2 168.8,2279.2 169.3,2278.4 169.8,2277.8 170.6,2277.4 171.8,2276.9 173.3,2276.5 174.9,2276.2 176.5,2276.0 178.0,2275.9 179.5,2275.9 181.1,2275.9 182.6,2275.9 184.2,2275.9 185.8,2275.9 187.4,2275.9 188.9,2275.9 190.5,2275.9 192.1,2275.9 193.7,2275.9 195.3,2275.9 196.9,2275.9 198.5,2275.9 200.1,2275.9 201.7,2275.9 203.3,2275.9 204.9,2275.9 206.5,2275.9 208.1,2275.9 209.7,2275.9 211.3,2275.9 212.9,2275.9 214.5,2275.9 216.1,2275.9 217.8,2275.9 219.4,2275.9 221.1,2275.9 222.7,2275.9 224.4,2275.9 226.1,2275.9 227.7,2275.9 229.4,2275.9 231.0,2275.8 232.7,2275.8 234.3,2275.8 236.0,2275.8 237.7,2275.7 239.3,2275.7 241.0,2275.7 242.6,2275.7 244.3,2275.6 245.9,2275.6 247.6,2275.6 249.2,2275.5 250.9,2275.5 252.5,2275.4 254.1,2275.4 255.8,2275.3 257.4,2275.3 259.0,2275.2 260.5,2275.1 262.1,2274.9 263.6,2274.7 265.2,2274.5 266.7,2274.2 268.2,2273.9 269.8,2273.6 271.3,2273.3 272.8,2272.9 274.4,2272.5 275.9,2272.2 277.4,2271.8 278.9,2271.5 280.3,2271.1 281.7,2270.7 283.1,2270.3 284.5,2269.9 285.8,2269.4 287.2,2268.9 288.6,2268.5 289.9,2267.9 291.3,2267.4 292.6,2266.9 293.9,2266.4 295.0,2265.9 296.1,2265.4 297.1,2264.8 298.2,2264.3 299.3,2263.7 300.3,2263.2" fill="none" stroke="#da3a80" stroke-width="2.35" stroke-linejoin="round" stroke-linecap="round" opacity="1"/>
<polyline points="161.4,2346.2 161.5,2347.8 161.5,2349.4 161.5,2351.0 161.5,2352.6 161.5,2354.1 161.5,2355.7 161.5,2357.3 161.5,2358.9 161.5,2360.5 161.6,2362.1 161.6,2363.7 161.6,2365.3 161.6,2366.9 161.6,2368.5 161.6,2370.1 161.6,2371.7 161.6,2373.3 161.6,2374.9 161.6,2376.5 161.6,2378.1 161.7,2379.7 161.7,2381.3 161.7,2382.9 161.7,2384.5 161.7,2386.1 161.7,2387.7 161.7,2389.3 161.7,2390.9 161.8,2392.5 161.8,2394.1 161.8,2395.7 161.8,2397.3 161.8,2398.9 161.8,2400.5 161.9,2402.1 161.9,2403.7 161.9,2405.2 161.9,2406.8 161.9,2408.4 162.0,2410.0 162.0,2411.6 162.0,2413.2 162.1,2414.8 162.1,2416.4 162.1,2417.9 162.2,2419.4 162.3,2420.9 162.4,2422.4 162.6,2423.9 162.7,2425.5 162.9,2427.0 163.2,2428.5 163.4,2429.9 163.7,2431.4 163.9,2432.9 164.2,2434.3 164.6,2435.7 165.1,2437.1 165.8,2438.5 166.6,2439.9 167.5,2441.2 168.4,2442.3 169.4,2443.2 170.5,2444.0 171.9,2444.7 173.5,2445.3 175.2,2445.9 176.9,2446.4 178.8,2446.9 180.6,2447.3 182.3,2447.7 184.1,2448.1 185.9,2448.4 187.8,2448.7 189.7,2449.0 191.6,2449.3 193.5,2449.5 195.4,2449.8 197.3,2450.0 199.2,2450.2 201.1,2450.4 203.0,2450.7 204.9,2450.9 206.9,2451.1 208.8,2451.3 210.7,2451.6 212.6,2451.9 214.5,2452.2 216.3,2452.5 218.2,2452.7 220.1,2453.0 222.0,2453.3 223.9,2453.6 225.7,2454.0 227.6,2454.3 229.5,2454.6 231.4,2454.9 233.2,2455.3 235.1,2455.6 236.9,2456.0 238.8,2456.4 240.6,2456.8 242.4,2457.3 244.1,2457.7 245.8,2458.2 247.5,2458.6 249.3,2459.2 251.0,2459.7 252.7,2460.3 254.4,2460.9 256.1,2461.5 257.7,2462.1 259.3,2462.8 260.9,2463.5 262.4,2464.2 263.8,2464.9 265.3,2465.7 266.7,2466.6 268.1,2467.5 269.5,2468.5 270.9,2469.5 272.2,2470.6 273.5,2471.7 274.6,2472.9 275.7,2474.0 276.7,2475.1 277.6,2476.3 278.5,2477.5 279.3,2478.7 280.1,2479.9 280.8,2481.2 281.5,2482.5 282.2,2483.8 282.9,2485.2 283.5,2486.5 284.1,2487.8 284.7,2489.1 285.3,2490.5 285.9,2491.9 286.5,2493.3 287.1,2494.7 287.6,2496.2 288.2,2497.6 288.7,2499.0 289.2,2500.5 289.7,2501.9 290.2,2503.4 290.6,2504.9 291.1,2506.3 291.5,2507.8 292.0,2509.3 292.4,2510.7 292.8,2512.2 293.2,2513.7 293.6,2515.2 294.0,2516.7 294.4,2518.2 294.8,2519.7 295.2,2521.2 295.5,2522.8 295.9,2524.3 296.2,2525.8 296.6,2527.3 296.9,2528.9 297.3,2530.4 297.6,2531.9 297.9,2533.4 298.3,2535.0 298.6,2536.5 298.9,2538.0 299.3,2539.5 299.6,2541.1 300.0,2542.6 300.3,2544.1" fill="none" stroke="#da3a80" stroke-width="2.35" stroke-linejoin="round" stroke-linecap="round" opacity="1"/>
<polyline points="161.4,2263.2 161.5,2264.9 161.5,2266.6 161.5,2268.3 161.5,2270.1 161.5,2271.8 161.5,2273.5 161.5,2275.2 161.5,2277.0 161.5,2278.7 161.5,2280.4 161.5,2282.1 161.5,2283.9 161.6,2285.6 161.6,2287.3 161.6,2289.0 161.6,2290.8 161.6,2292.5 161.6,2294.2 161.6,2295.9 161.6,2297.7 161.6,2299.4 161.6,2301.1 161.6,2302.9 161.6,2304.6 161.6,2306.3 161.7,2308.0 161.7,2309.8 161.7,2311.5 161.7,2313.2 161.7,2314.9 161.7,2316.7 161.7,2318.4 161.7,2320.1 161.7,2321.8 161.7,2323.6 161.7,2325.3 161.7,2327.0 161.7,2328.7 161.8,2330.5 161.8,2332.2 161.8,2333.9 161.8,2335.6 161.8,2337.4 161.8,2339.1 161.8,2340.8 161.8,2342.5 161.8,2344.3 161.8,2346.0 161.8,2347.7 161.8,2349.4 161.9,2351.2 161.9,2352.9 161.9,2354.6 161.9,2356.3 161.9,2358.1 161.9,2359.8 161.9,2361.5 161.9,2363.2 161.9,2365.0 161.9,2366.7 161.9,2368.4 162.0,2370.2 162.0,2371.9 162.0,2373.6 162.0,2375.3 162.0,2377.1 162.0,2378.8 162.0,2380.5 162.0,2382.2 162.0,2384.0 162.1,2385.7 162.1,2387.4 162.1,2389.1 162.1,2390.9 162.1,2392.6 162.1,2394.3 162.1,2396.0 162.1,2397.7 162.2,2399.5 162.2,2401.2 162.2,2402.9 162.2,2404.6 162.2,2406.3 162.2,2408.1 162.2,2409.8 162.3,2411.5 162.3,2413.2 162.3,2414.9 162.3,2416.6 162.3,2418.4 162.3,2420.1 162.3,2421.8 162.4,2423.5 162.4,2425.2 162.4,2427.0 162.4,2428.7 162.4,2430.4 162.4,2432.1 162.5,2433.8 162.5,2435.6 162.5,2437.3 162.5,2439.0 162.5,2440.7 162.6,2442.4 162.6,2444.2 162.6,2445.9 162.6,2447.6 162.6,2449.3 162.6,2451.0 162.7,2452.7 162.7,2454.5 162.7,2456.2 162.7,2457.9 162.7,2459.6 162.8,2461.3 162.8,2463.1 162.8,2464.8 162.8,2466.5 162.8,2468.2 162.8,2469.9 162.9,2471.7 162.9,2473.4 162.9,2475.1 162.9,2476.8 162.9,2478.5 162.9,2480.2 163.0,2481.9 163.0,2483.6 163.0,2485.3 163.0,2487.0 163.0,2488.7 163.0,2490.3 163.1,2492.0 163.1,2493.7 163.1,2495.4 163.1,2497.1 163.1,2498.7 163.1,2500.4 163.2,2502.1 163.2,2503.8 163.2,2505.5 163.2,2507.1 163.2,2508.8 163.2,2510.5 163.3,2512.2 163.3,2513.9 163.3,2515.5 163.3,2517.2 163.3,2518.9 163.4,2520.6 163.4,2522.3 163.4,2523.9 163.4,2525.6 163.4,2527.3 163.4,2529.0 163.5,2530.7 163.5,2532.3 163.5,2534.0 163.5,2535.7 163.5,2537.4 163.5,2539.1 163.6,2540.7 163.6,2542.4 163.6,2544.1" fill="none" stroke="#c4283f" stroke-width="2.05" stroke-linejoin="round" stroke-linecap="round" opacity="1"/>
<polyline points="162.7,2263.2 162.7,2264.9 162.7,2266.6 162.7,2268.3 162.7,2270.0 162.7,2271.7 162.7,2273.4 162.7,2275.1 162.7,2276.8 162.6,2278.5 162.6,2280.2 162.6,2281.9 162.6,2283.6 162.6,2285.3 162.6,2287.0 162.6,2288.7 162.6,2290.4 162.6,2292.1 162.6,2293.8 162.6,2295.5 162.6,2297.2 162.5,2298.9 162.5,2300.6 162.5,2302.3 162.5,2304.0 162.5,2305.7 162.5,2307.4 162.5,2309.1 162.5,2310.8 162.5,2312.5 162.5,2314.2 162.4,2315.9 162.4,2317.6 162.4,2319.3 162.4,2321.1 162.4,2322.8 162.4,2324.5 162.4,2326.2 162.4,2327.9 162.4,2329.6 162.4,2331.3 162.3,2333.0 162.3,2334.7 162.3,2336.4 162.3,2338.1 162.3,2339.8 162.3,2341.5 162.3,2343.2 162.3,2344.9 162.3,2346.6 162.2,2348.3 162.2,2350.0 162.2,2351.7 162.2,2353.4 162.2,2355.1 162.2,2356.8 162.2,2358.5 162.1,2360.2 162.1,2361.9 162.1,2363.6 162.1,2365.3 162.1,2367.0 162.1,2368.7 162.1,2370.4 162.0,2372.1 162.0,2373.8 162.0,2375.5 162.0,2377.2 162.0,2378.9 162.0,2380.6 162.0,2382.3 161.9,2384.0 161.9,2385.8 161.9,2387.5 161.9,2389.2 161.9,2390.9 161.9,2392.6 161.9,2394.3 161.8,2396.0 161.8,2397.7 161.8,2399.4 161.8,2401.1 161.8,2402.8 161.8,2404.5 161.7,2406.2 161.7,2407.9 161.7,2409.6 161.7,2411.3 161.7,2413.0 161.7,2414.7 161.7,2416.4 161.6,2418.1 161.6,2419.8 161.6,2421.5 161.6,2423.2 161.6,2424.9 161.6,2426.6 161.6,2428.3 161.5,2430.0 161.5,2431.7 161.5,2433.4 161.5,2435.1 161.5,2436.8 161.5,2438.5 161.4,2440.2 161.4,2441.9 161.4,2443.6 161.4,2445.3 161.4,2447.0 161.4,2448.8 161.3,2450.5 161.3,2452.2 161.3,2453.9 161.3,2455.6 161.3,2457.3 161.3,2459.0 161.3,2460.7 161.2,2462.4 161.2,2464.1 161.2,2465.8 161.2,2467.5 161.2,2469.2 161.2,2470.9 161.2,2472.6 161.1,2474.3 161.1,2476.0 161.1,2477.7 161.1,2479.4 161.1,2481.1 161.1,2482.8 161.1,2484.5 161.1,2486.2 161.0,2487.9 161.0,2489.6 161.0,2491.3 161.0,2493.0 161.0,2494.7 161.0,2496.3 161.0,2498.0 161.0,2499.6 161.0,2501.3 161.0,2502.9 161.0,2504.6 160.9,2506.2 160.9,2507.8 160.9,2509.5 160.9,2511.1 160.9,2512.8 160.9,2514.4 160.9,2516.1 160.9,2517.7 160.9,2519.4 160.9,2521.0 160.9,2522.7 160.9,2524.3 160.9,2526.0 160.9,2527.6 160.9,2529.3 160.9,2530.9 160.8,2532.6 160.8,2534.2 160.8,2535.9 160.8,2537.5 160.8,2539.2 160.8,2540.8 160.8,2542.5 160.8,2544.1" fill="none" stroke="#b01f36" stroke-width="2.05" stroke-linejoin="round" stroke-linecap="round" opacity="1"/>
</g>
<rect x="149.1" y="2257.1" width="398.1" height="318.6" fill="none" stroke="#262626" stroke-width="1.9"/>
<line x1="144.1" y1="2544.1" x2="149.1" y2="2544.1" stroke="#262626" stroke-width="1.5"/>
<text x="138.5" y="2549.9" font-family="'Liberation Sans', sans-serif" font-weight="700" font-size="16" fill="#262626" stroke="#262626" stroke-width="0.3" text-anchor="end">2.0</text>
<line x1="144.1" y1="2480.2" x2="149.1" y2="2480.2" stroke="#262626" stroke-width="1.5"/>
<text x="138.5" y="2486.0" font-family="'Liberation Sans', sans-serif" font-weight="700" font-size="16" fill="#262626" stroke="#262626" stroke-width="0.3" text-anchor="end">2.5</text>
<line x1="144.1" y1="2416.4" x2="149.1" y2="2416.4" stroke="#262626" stroke-width="1.5"/>
<text x="138.5" y="2422.2" font-family="'Liberation Sans', sans-serif" font-weight="700" font-size="16" fill="#262626" stroke="#262626" stroke-width="0.3" text-anchor="end">3.0</text>
<line x1="144.1" y1="2352.5" x2="149.1" y2="2352.5" stroke="#262626" stroke-width="1.5"/>
<text x="138.5" y="2358.3" font-family="'Liberation Sans', sans-serif" font-weight="700" font-size="16" fill="#262626" stroke="#262626" stroke-width="0.3" text-anchor="end">3.5</text>
<line x1="144.1" y1="2288.7" x2="149.1" y2="2288.7" stroke="#262626" stroke-width="1.5"/>
<text x="138.5" y="2294.5" font-family="'Liberation Sans', sans-serif" font-weight="700" font-size="16" fill="#262626" stroke="#262626" stroke-width="0.3" text-anchor="end">4.0</text>
<line x1="146.1" y1="2512.2" x2="149.1" y2="2512.2" stroke="#262626" stroke-width="1.1"/>
<line x1="146.1" y1="2448.3" x2="149.1" y2="2448.3" stroke="#262626" stroke-width="1.1"/>
<line x1="146.1" y1="2384.5" x2="149.1" y2="2384.5" stroke="#262626" stroke-width="1.1"/>
<line x1="146.1" y1="2320.6" x2="149.1" y2="2320.6" stroke="#262626" stroke-width="1.1"/>
<line x1="160.8" y1="2575.7" x2="160.8" y2="2580.7" stroke="#262626" stroke-width="1.5"/>
<text x="160.8" y="2600.0" font-family="'Liberation Sans', sans-serif" font-weight="700" font-size="16" fill="#262626" stroke="#262626" stroke-width="0.3" text-anchor="middle">0</text>
<line x1="225.2" y1="2575.7" x2="225.2" y2="2580.7" stroke="#262626" stroke-width="1.5"/>
<text x="225.2" y="2600.0" font-family="'Liberation Sans', sans-serif" font-weight="700" font-size="16" fill="#262626" stroke="#262626" stroke-width="0.3" text-anchor="middle">30</text>
<line x1="289.6" y1="2575.7" x2="289.6" y2="2580.7" stroke="#262626" stroke-width="1.5"/>
<text x="289.6" y="2600.0" font-family="'Liberation Sans', sans-serif" font-weight="700" font-size="16" fill="#262626" stroke="#262626" stroke-width="0.3" text-anchor="middle">60</text>
<line x1="354.0" y1="2575.7" x2="354.0" y2="2580.7" stroke="#262626" stroke-width="1.5"/>
<text x="354.0" y="2600.0" font-family="'Liberation Sans', sans-serif" font-weight="700" font-size="16" fill="#262626" stroke="#262626" stroke-width="0.3" text-anchor="middle">90</text>
<line x1="418.4" y1="2575.7" x2="418.4" y2="2580.7" stroke="#262626" stroke-width="1.5"/>
<text x="418.4" y="2600.0" font-family="'Liberation Sans', sans-serif" font-weight="700" font-size="16" fill="#262626" stroke="#262626" stroke-width="0.3" text-anchor="middle">120</text>
<line x1="482.8" y1="2575.7" x2="482.8" y2="2580.7" stroke="#262626" stroke-width="1.5"/>
<text x="482.8" y="2600.0" font-family="'Liberation Sans', sans-serif" font-weight="700" font-size="16" fill="#262626" stroke="#262626" stroke-width="0.3" text-anchor="middle">150</text>
<line x1="547.2" y1="2575.7" x2="547.2" y2="2580.7" stroke="#262626" stroke-width="1.5"/>
<text x="547.2" y="2600.0" font-family="'Liberation Sans', sans-serif" font-weight="700" font-size="16" fill="#262626" stroke="#262626" stroke-width="0.3" text-anchor="middle">180</text>
<line x1="193.0" y1="2575.7" x2="193.0" y2="2578.7" stroke="#262626" stroke-width="1.1"/>
<line x1="257.4" y1="2575.7" x2="257.4" y2="2578.7" stroke="#262626" stroke-width="1.1"/>
<line x1="321.8" y1="2575.7" x2="321.8" y2="2578.7" stroke="#262626" stroke-width="1.1"/>
<line x1="386.2" y1="2575.7" x2="386.2" y2="2578.7" stroke="#262626" stroke-width="1.1"/>
<line x1="450.6" y1="2575.7" x2="450.6" y2="2578.7" stroke="#262626" stroke-width="1.1"/>
<line x1="515.0" y1="2575.7" x2="515.0" y2="2578.7" stroke="#262626" stroke-width="1.1"/>
<text x="339.8" y="2637.9" font-family="'Liberation Sans', sans-serif" font-weight="700" font-size="19.6" fill="#262626" stroke="#262626" stroke-width="0.3" text-anchor="middle" textLength="241.7" lengthAdjust="spacingAndGlyphs">Specific capacity (mAh g<tspan dy="-6" font-size="12">-1</tspan><tspan dy="6">)</tspan></text>
<text transform="translate(103.5,2428.4) rotate(-90)" font-family="'Liberation Sans', sans-serif" font-weight="700" font-size="19.6" fill="#262626" stroke="#262626" stroke-width="0.3" text-anchor="middle" textLength="178" lengthAdjust="spacingAndGlyphs">Voltage (V vs Li/Li<tspan dy="-6" font-size="12">+</tspan><tspan dy="6">)</tspan></text>
<text x="159.1" y="2561.8" font-family="'Liberation Sans', sans-serif" font-weight="700" font-size="18.4" textLength="69.8" lengthAdjust="spacingAndGlyphs"><tspan fill="#b3243a">20&amp;</tspan><tspan fill="#e04a5c">15C</tspan></text>
<text x="289.5" y="2561.8" font-family="'Liberation Sans', sans-serif" font-weight="700" font-size="18.4" fill="#d9377f" stroke="#d9377f" stroke-width="0.3" textLength="32.3" lengthAdjust="spacingAndGlyphs">10C</text>
<text x="405.9" y="2561.8" font-family="'Liberation Sans', sans-serif" font-weight="700" font-size="18.4" fill="#ee7785" stroke="#ee7785" stroke-width="0.3" textLength="20.0" lengthAdjust="spacingAndGlyphs">5C</text>
<text x="477.4" y="2561.8" font-family="'Liberation Sans', sans-serif" font-weight="700" font-size="18.4" fill="#f9c6d3" stroke="#f9c6d3" stroke-width="0.3" textLength="36.6" lengthAdjust="spacingAndGlyphs">0.1C</text>
</svg>
<svg class="abs blur" style="left:560px;top:2240px" width="540" height="420" viewBox="560 2240 540 420">
<clipPath id="c4"><rect x="651.5" y="2264.8" width="383.4" height="308.6"/></clipPath><g clip-path="url(#c4)">
<polyline points="664.9,2542.4 665.0,2539.4 665.0,2536.4 665.1,2533.4 665.2,2530.5 665.3,2527.5 665.3,2524.4 665.4,2521.4 665.4,2518.4 665.5,2515.4 665.5,2512.4 665.6,2509.4 665.6,2506.4 665.7,2503.3 665.7,2500.3 665.8,2497.3 665.8,2494.3 665.9,2491.2 665.9,2488.2 665.9,2485.2 666.0,2482.1 666.0,2479.1 666.1,2476.1 666.1,2473.1 666.2,2470.0 666.2,2467.0 666.2,2464.0 666.3,2461.0 666.4,2458.0 666.4,2454.9 666.5,2451.9 666.5,2448.9 666.6,2445.9 666.6,2442.9 666.7,2439.9 666.8,2436.9 666.9,2433.9 666.9,2431.0 667.0,2428.0 667.1,2425.0 667.2,2422.1 667.3,2419.1 667.4,2416.1 667.5,2413.2 667.7,2410.3 667.8,2407.3 667.9,2404.4 668.1,2401.5 668.2,2398.6 668.3,2395.7 668.5,2392.8 668.7,2389.9 668.9,2387.1 669.0,2384.2 669.2,2381.3 669.4,2378.5 669.6,2375.7 670.0,2373.4 670.8,2370.9 671.8,2368.4 673.1,2366.2 674.5,2364.6 675.9,2363.9 677.8,2363.8 680.1,2363.7 682.6,2363.7 685.4,2363.6 688.4,2363.5 691.7,2363.4 695.1,2363.4 698.7,2363.3 702.4,2363.3 706.3,2363.3 710.2,2363.2 714.2,2363.2 718.3,2363.2 722.5,2363.1 726.6,2363.1 730.7,2363.1 734.8,2363.1 738.9,2363.0 742.9,2363.0 746.8,2363.0 750.5,2363.0 754.2,2363.0 757.8,2362.9 761.5,2362.9 765.2,2362.9 768.8,2362.9 772.5,2362.8 776.2,2362.8 779.9,2362.8 783.5,2362.8 787.2,2362.8 790.9,2362.7 794.5,2362.7 798.2,2362.7 801.9,2362.7 805.5,2362.7 809.2,2362.7 812.9,2362.6 816.6,2362.6 820.2,2362.6 823.9,2362.6 827.6,2362.6 831.2,2362.5 834.9,2362.5 838.6,2362.5 842.2,2362.5 845.9,2362.4 849.6,2362.4 853.3,2362.4 857.0,2362.4 860.8,2362.3 864.5,2362.3 868.3,2362.3 872.1,2362.2 876.0,2362.2 879.8,2362.2 883.6,2362.2 887.4,2362.1 891.3,2362.1 895.1,2362.0 898.9,2362.0 902.6,2361.9 906.4,2361.9 910.1,2361.8 913.8,2361.7 917.4,2361.7 921.0,2361.6 924.6,2361.5 928.1,2361.4 931.5,2361.3 934.9,2361.2 938.2,2361.1 941.5,2360.9 944.7,2360.8 947.8,2360.6 950.3,2360.0 953.0,2358.8 955.5,2357.0 957.5,2355.1 959.0,2353.2 959.9,2351.3 960.8,2349.2 961.6,2346.9 962.2,2344.5 962.8,2342.0 963.3,2339.5 963.7,2337.1 964.1,2334.7 964.4,2332.1 964.8,2329.5 965.1,2327.0 965.4,2324.4 965.7,2321.8 965.9,2319.2 966.1,2316.6 966.4,2314.0 966.5,2311.4 966.7,2308.9 966.9,2306.3 967.0,2303.5 967.2,2300.8 967.3,2298.1 967.4,2295.3 967.5,2292.6 967.6,2289.9 967.7,2287.1 967.8,2284.4 967.9,2281.6 968.0,2278.9 968.1,2276.2 968.2,2273.4 968.3,2270.7" fill="none" stroke="#fcd2bb" stroke-width="2.05" stroke-linejoin="round" stroke-linecap="round" opacity="1"/>
<polyline points="664.9,2270.7 665.0,2273.6 665.2,2276.5 665.3,2279.4 665.4,2282.4 665.6,2285.3 665.7,2288.2 665.8,2291.2 665.9,2294.1 666.0,2297.0 666.1,2300.0 666.2,2302.9 666.3,2305.9 666.4,2308.8 666.5,2311.7 666.6,2314.7 666.7,2317.6 666.8,2320.5 667.0,2323.4 667.1,2326.3 667.3,2329.2 667.5,2332.1 667.7,2335.0 667.9,2337.8 668.1,2340.7 668.4,2343.5 668.7,2346.3 669.0,2349.1 669.3,2351.9 669.6,2354.7 670.1,2356.9 670.9,2359.5 671.9,2362.0 673.2,2364.2 674.5,2365.8 675.9,2366.4 677.8,2366.5 680.1,2366.6 682.6,2366.7 685.4,2366.8 688.4,2366.9 691.6,2366.9 695.0,2367.0 698.5,2367.0 702.2,2367.1 706.1,2367.1 710.0,2367.1 714.0,2367.2 718.1,2367.2 722.2,2367.2 726.3,2367.2 730.4,2367.3 734.5,2367.3 738.5,2367.3 742.4,2367.3 746.3,2367.3 750.1,2367.4 753.7,2367.4 757.3,2367.4 761.0,2367.5 764.6,2367.5 768.3,2367.5 771.9,2367.5 775.6,2367.5 779.2,2367.6 782.9,2367.6 786.5,2367.6 790.2,2367.6 793.8,2367.6 797.5,2367.6 801.1,2367.7 804.8,2367.7 808.4,2367.7 812.1,2367.7 815.7,2367.7 819.4,2367.7 823.0,2367.8 826.7,2367.8 830.3,2367.8 834.0,2367.8 837.6,2367.9 841.3,2367.9 844.9,2367.9 848.6,2367.9 852.2,2368.0 855.9,2368.0 859.7,2368.0 863.5,2368.1 867.3,2368.1 871.1,2368.1 874.9,2368.1 878.7,2368.2 882.5,2368.2 886.4,2368.2 890.2,2368.3 894.0,2368.3 897.7,2368.4 901.5,2368.4 905.2,2368.5 908.9,2368.6 912.5,2368.7 916.1,2368.7 919.6,2368.8 923.1,2368.9 926.5,2369.0 929.8,2369.2 933.1,2369.3 936.3,2369.4 939.4,2369.6 942.4,2369.7 944.8,2370.3 947.2,2371.6 949.5,2373.4 951.3,2375.3 952.6,2377.2 953.6,2379.2 954.5,2381.5 955.3,2383.9 955.9,2386.4 956.5,2389.0 957.0,2391.6 957.5,2394.3 957.9,2396.9 958.2,2399.4 958.6,2402.1 958.9,2404.8 959.2,2407.4 959.5,2410.1 959.8,2412.8 960.0,2415.5 960.3,2418.2 960.5,2420.9 960.7,2423.7 960.9,2426.4 961.1,2429.1 961.3,2431.8 961.4,2434.5 961.6,2437.2 961.8,2439.9 962.0,2442.6 962.1,2445.5 962.3,2448.5 962.5,2451.4 962.6,2454.3 962.8,2457.3 963.0,2460.2 963.1,2463.1 963.3,2466.1 963.4,2469.0 963.6,2471.9 963.7,2474.9 963.8,2477.8 964.0,2480.8 964.1,2483.7 964.2,2486.6 964.4,2489.6 964.5,2492.5 964.6,2495.4 964.7,2498.4 964.9,2501.3 965.0,2504.2 965.1,2507.2 965.2,2510.1 965.3,2513.0 965.5,2516.0 965.6,2518.9 965.7,2521.9 965.8,2524.8 966.0,2527.7 966.1,2530.7 966.2,2533.6 966.3,2536.5 966.5,2539.5 966.6,2542.4" fill="none" stroke="#fcd2bb" stroke-width="2.05" stroke-linejoin="round" stroke-linecap="round" opacity="1"/>
<polyline points="664.9,2542.4 665.0,2539.4 665.0,2536.5 665.1,2533.5 665.2,2530.6 665.2,2527.6 665.3,2524.6 665.4,2521.6 665.4,2518.6 665.5,2515.7 665.5,2512.7 665.6,2509.7 665.6,2506.7 665.7,2503.7 665.7,2500.7 665.8,2497.7 665.8,2494.7 665.8,2491.7 665.9,2488.7 665.9,2485.7 666.0,2482.7 666.0,2479.7 666.1,2476.7 666.1,2473.7 666.1,2470.7 666.2,2467.7 666.2,2464.7 666.3,2461.7 666.3,2458.7 666.4,2455.7 666.4,2452.7 666.5,2449.7 666.5,2446.8 666.6,2443.8 666.7,2440.8 666.7,2437.8 666.8,2434.9 666.9,2431.9 667.0,2429.0 667.1,2426.0 667.1,2423.1 667.2,2420.1 667.3,2417.2 667.5,2414.3 667.6,2411.4 667.7,2408.5 667.8,2405.6 667.9,2402.7 668.1,2399.8 668.2,2396.9 668.4,2394.0 668.5,2391.2 668.7,2388.3 668.9,2385.5 669.0,2382.6 669.2,2379.8 669.4,2377.0 669.6,2374.2 670.0,2371.9 670.8,2369.4 671.8,2366.9 673.1,2364.7 674.5,2363.1 675.9,2362.5 677.8,2362.4 680.0,2362.3 682.5,2362.2 685.2,2362.1 688.1,2362.0 691.3,2362.0 694.6,2361.9 698.1,2361.9 701.8,2361.8 705.5,2361.8 709.4,2361.7 713.3,2361.7 717.3,2361.7 721.3,2361.7 725.4,2361.6 729.4,2361.6 733.4,2361.6 737.4,2361.6 741.3,2361.5 745.1,2361.5 748.7,2361.5 752.3,2361.5 755.9,2361.4 759.5,2361.4 763.1,2361.4 766.7,2361.4 770.3,2361.4 773.9,2361.3 777.5,2361.3 781.1,2361.3 784.7,2361.3 788.3,2361.3 791.9,2361.2 795.4,2361.2 799.0,2361.2 802.6,2361.2 806.2,2361.2 809.8,2361.2 813.4,2361.1 817.0,2361.1 820.6,2361.1 824.2,2361.1 827.8,2361.1 831.4,2361.0 835.0,2361.0 838.6,2361.0 842.2,2361.0 845.8,2360.9 849.5,2360.9 853.1,2360.9 856.8,2360.8 860.5,2360.8 864.3,2360.8 868.0,2360.8 871.8,2360.7 875.5,2360.7 879.3,2360.7 883.0,2360.6 886.8,2360.6 890.5,2360.5 894.2,2360.5 897.9,2360.4 901.6,2360.4 905.2,2360.3 908.9,2360.2 912.4,2360.1 916.0,2360.0 919.5,2359.9 922.9,2359.8 926.3,2359.7 929.6,2359.6 932.9,2359.4 936.1,2359.3 939.3,2359.1 941.6,2358.7 944.1,2357.8 946.4,2356.5 948.6,2354.9 950.4,2353.3 951.7,2351.7 952.8,2349.8 953.7,2347.7 954.6,2345.5 955.3,2343.1 955.9,2340.6 956.5,2338.1 957.0,2335.6 957.4,2333.2 957.8,2330.6 958.2,2328.1 958.5,2325.5 958.9,2322.9 959.2,2320.3 959.4,2317.7 959.7,2315.2 959.9,2312.6 960.1,2310.0 960.3,2307.4 960.5,2304.8 960.7,2302.2 960.8,2299.5 961.0,2296.9 961.1,2294.3 961.2,2291.7 961.3,2289.1 961.4,2286.4 961.5,2283.8 961.6,2281.2 961.7,2278.6 961.8,2275.9 961.9,2273.3 962.1,2270.7" fill="none" stroke="#fbbd97" stroke-width="2.05" stroke-linejoin="round" stroke-linecap="round" opacity="1"/>
<polyline points="664.9,2270.7 665.0,2273.5 665.2,2276.4 665.3,2279.2 665.4,2282.1 665.5,2285.0 665.6,2287.8 665.7,2290.7 665.8,2293.6 665.9,2296.5 666.0,2299.3 666.1,2302.2 666.2,2305.1 666.3,2308.0 666.4,2310.8 666.5,2313.7 666.6,2316.6 666.8,2319.4 666.9,2322.3 667.0,2325.1 667.2,2328.0 667.4,2330.8 667.5,2333.6 667.7,2336.4 667.9,2339.2 668.2,2342.0 668.4,2344.8 668.7,2347.5 669.0,2350.2 669.3,2353.0 669.6,2355.7 670.1,2357.9 670.9,2360.5 671.9,2363.0 673.2,2365.2 674.5,2366.8 675.9,2367.4 677.8,2367.5 680.0,2367.6 682.4,2367.7 685.1,2367.8 688.1,2367.8 691.2,2367.9 694.5,2368.0 698.0,2368.0 701.6,2368.1 705.3,2368.1 709.2,2368.1 713.1,2368.2 717.1,2368.2 721.1,2368.2 725.1,2368.2 729.1,2368.3 733.1,2368.3 737.0,2368.3 740.8,2368.3 744.6,2368.3 748.3,2368.4 751.8,2368.4 755.4,2368.4 759.0,2368.4 762.5,2368.5 766.1,2368.5 769.7,2368.5 773.3,2368.5 776.8,2368.5 780.4,2368.6 784.0,2368.6 787.6,2368.6 791.1,2368.6 794.7,2368.6 798.3,2368.6 801.9,2368.7 805.4,2368.7 809.0,2368.7 812.6,2368.7 816.2,2368.7 819.7,2368.8 823.3,2368.8 826.9,2368.8 830.5,2368.8 834.0,2368.8 837.6,2368.9 841.2,2368.9 844.8,2368.9 848.4,2369.0 852.0,2369.0 855.7,2369.0 859.4,2369.1 863.1,2369.1 866.8,2369.1 870.5,2369.1 874.3,2369.2 878.0,2369.2 881.7,2369.3 885.4,2369.3 889.1,2369.4 892.8,2369.4 896.4,2369.5 900.1,2369.5 903.6,2369.6 907.2,2369.7 910.7,2369.8 914.1,2369.9 917.5,2370.0 920.9,2370.1 924.1,2370.3 927.3,2370.4 930.5,2370.6 933.5,2370.7 936.1,2371.3 938.8,2372.6 941.3,2374.3 943.4,2376.3 944.9,2378.1 946.0,2380.2 946.9,2382.4 947.8,2384.8 948.5,2387.3 949.2,2389.9 949.7,2392.6 950.2,2395.2 950.7,2397.8 951.1,2400.4 951.5,2403.0 951.8,2405.7 952.2,2408.4 952.5,2411.1 952.8,2413.8 953.1,2416.5 953.3,2419.2 953.6,2421.9 953.8,2424.6 954.0,2427.3 954.2,2430.1 954.5,2432.8 954.7,2435.5 954.8,2438.2 955.0,2440.9 955.2,2443.6 955.4,2446.5 955.6,2449.4 955.8,2452.3 956.0,2455.2 956.2,2458.1 956.4,2461.0 956.5,2463.9 956.7,2466.8 956.8,2469.7 957.0,2472.6 957.2,2475.5 957.3,2478.5 957.5,2481.4 957.6,2484.3 957.8,2487.2 957.9,2490.1 958.0,2493.0 958.2,2495.9 958.3,2498.8 958.4,2501.7 958.6,2504.6 958.7,2507.5 958.9,2510.4 959.0,2513.3 959.1,2516.2 959.3,2519.1 959.4,2522.1 959.5,2525.0 959.7,2527.9 959.8,2530.8 960.0,2533.7 960.1,2536.6 960.2,2539.5 960.4,2542.4" fill="none" stroke="#fbbd97" stroke-width="2.05" stroke-linejoin="round" stroke-linecap="round" opacity="1"/>
<polyline points="664.9,2542.4 665.0,2539.5 665.0,2536.5 665.1,2533.6 665.2,2530.6 665.2,2527.7 665.3,2524.7 665.4,2521.7 665.4,2518.8 665.5,2515.8 665.5,2512.8 665.6,2509.9 665.6,2506.9 665.7,2503.9 665.7,2500.9 665.8,2498.0 665.8,2495.0 665.8,2492.0 665.9,2489.0 665.9,2486.0 666.0,2483.0 666.0,2480.0 666.0,2477.1 666.1,2474.1 666.1,2471.1 666.2,2468.1 666.2,2465.1 666.2,2462.2 666.3,2459.2 666.3,2456.2 666.4,2453.2 666.5,2450.3 666.5,2447.3 666.6,2444.3 666.6,2441.4 666.7,2438.4 666.8,2435.5 666.8,2432.5 666.9,2429.6 667.0,2426.7 667.1,2423.7 667.2,2420.8 667.3,2417.9 667.4,2415.0 667.5,2412.1 667.6,2409.2 667.7,2406.3 667.8,2403.4 668.0,2400.5 668.1,2397.6 668.2,2394.8 668.4,2391.9 668.5,2389.1 668.7,2386.3 668.9,2383.4 669.1,2380.6 669.2,2377.8 669.4,2375.0 669.6,2372.2 670.0,2370.0 670.8,2367.4 671.8,2364.9 673.1,2362.7 674.5,2361.1 675.9,2360.5 677.8,2360.4 680.1,2360.3 682.7,2360.2 685.6,2360.1 688.7,2360.0 692.0,2360.0 695.5,2359.9 699.1,2359.9 702.9,2359.8 706.9,2359.8 710.9,2359.7 715.0,2359.7 719.1,2359.7 723.3,2359.7 727.4,2359.6 731.6,2359.6 735.6,2359.6 739.7,2359.6 743.6,2359.5 747.4,2359.5 751.1,2359.5 754.6,2359.5 758.1,2359.4 761.7,2359.4 765.2,2359.4 768.8,2359.4 772.3,2359.4 775.9,2359.3 779.4,2359.3 783.0,2359.3 786.5,2359.3 790.1,2359.3 793.6,2359.3 797.2,2359.2 800.7,2359.2 804.2,2359.2 807.8,2359.2 811.3,2359.2 814.9,2359.2 818.4,2359.1 822.0,2359.1 825.5,2359.1 829.1,2359.1 832.6,2359.0 836.2,2359.0 839.7,2359.0 843.3,2358.9 846.9,2358.9 850.6,2358.9 854.3,2358.9 857.9,2358.8 861.6,2358.8 865.4,2358.8 869.1,2358.7 872.8,2358.7 876.5,2358.7 880.2,2358.6 883.9,2358.6 887.6,2358.5 891.3,2358.5 895.0,2358.4 898.6,2358.3 902.2,2358.2 905.8,2358.2 909.3,2358.1 912.8,2358.0 916.3,2357.9 919.7,2357.7 923.1,2357.6 926.4,2357.5 929.7,2357.3 932.9,2357.2 935.4,2356.7 938.1,2355.8 940.7,2354.5 943.1,2353.0 945.1,2351.3 946.5,2349.7 947.7,2347.9 948.7,2345.8 949.7,2343.6 950.5,2341.1 951.2,2338.6 951.8,2336.1 952.3,2333.6 952.8,2331.2 953.2,2328.7 953.7,2326.1 954.0,2323.5 954.4,2321.0 954.7,2318.4 955.0,2315.8 955.3,2313.2 955.6,2310.6 955.8,2308.0 956.0,2305.4 956.2,2302.8 956.4,2300.1 956.6,2297.5 956.7,2294.8 956.9,2292.1 957.0,2289.4 957.1,2286.8 957.3,2284.1 957.4,2281.4 957.5,2278.7 957.6,2276.1 957.8,2273.4 957.9,2270.7" fill="none" stroke="#faa876" stroke-width="2.05" stroke-linejoin="round" stroke-linecap="round" opacity="1"/>
<polyline points="664.9,2270.7 665.0,2273.5 665.2,2276.3 665.3,2279.1 665.4,2281.9 665.5,2284.7 665.6,2287.5 665.7,2290.3 665.8,2293.2 665.9,2296.0 666.0,2298.8 666.1,2301.6 666.2,2304.5 666.3,2307.3 666.4,2310.1 666.5,2312.9 666.6,2315.7 666.7,2318.6 666.8,2321.4 666.9,2324.2 667.1,2326.9 667.2,2329.7 667.4,2332.5 667.6,2335.3 667.8,2338.0 668.0,2340.8 668.2,2343.5 668.5,2346.2 668.7,2348.9 669.0,2351.6 669.3,2354.3 669.6,2356.9 670.1,2359.2 670.9,2361.7 671.9,2364.2 673.1,2366.4 674.5,2368.0 675.9,2368.6 677.7,2368.7 679.9,2368.8 682.3,2368.9 685.0,2369.0 687.9,2369.1 691.0,2369.1 694.2,2369.2 697.6,2369.2 701.2,2369.3 704.9,2369.3 708.6,2369.4 712.5,2369.4 716.4,2369.4 720.3,2369.4 724.3,2369.5 728.2,2369.5 732.1,2369.5 736.0,2369.5 739.8,2369.6 743.5,2369.6 747.1,2369.6 750.6,2369.6 754.1,2369.7 757.6,2369.7 761.1,2369.7 764.7,2369.7 768.2,2369.7 771.7,2369.8 775.2,2369.8 778.8,2369.8 782.3,2369.8 785.8,2369.8 789.3,2369.8 792.9,2369.9 796.4,2369.9 799.9,2369.9 803.5,2369.9 807.0,2369.9 810.5,2369.9 814.0,2370.0 817.6,2370.0 821.1,2370.0 824.6,2370.0 828.1,2370.1 831.7,2370.1 835.2,2370.1 838.7,2370.1 842.3,2370.2 845.8,2370.2 849.4,2370.2 853.0,2370.3 856.7,2370.3 860.3,2370.3 864.0,2370.4 867.7,2370.4 871.3,2370.4 875.0,2370.5 878.7,2370.5 882.3,2370.6 886.0,2370.6 889.6,2370.7 893.2,2370.8 896.7,2370.8 900.2,2370.9 903.7,2371.0 907.2,2371.1 910.6,2371.2 913.9,2371.4 917.2,2371.5 920.4,2371.6 923.6,2371.8 926.7,2372.0 929.0,2372.4 931.5,2373.3 933.9,2374.7 936.1,2376.2 937.9,2377.8 939.2,2379.4 940.4,2381.3 941.4,2383.5 942.3,2385.9 943.2,2388.5 943.9,2391.1 944.5,2393.7 945.1,2396.4 945.6,2399.1 946.0,2401.6 946.4,2404.3 946.8,2407.0 947.2,2409.6 947.6,2412.3 947.9,2415.0 948.2,2417.7 948.5,2420.4 948.8,2423.1 949.0,2425.9 949.3,2428.6 949.5,2431.3 949.7,2434.0 949.9,2436.7 950.1,2439.4 950.4,2442.1 950.6,2444.8 950.8,2447.7 951.0,2450.6 951.2,2453.4 951.4,2456.3 951.6,2459.2 951.8,2462.0 952.0,2464.9 952.2,2467.8 952.3,2470.6 952.5,2473.5 952.7,2476.4 952.9,2479.2 953.0,2482.1 953.2,2485.0 953.3,2487.9 953.5,2490.7 953.7,2493.6 953.8,2496.5 954.0,2499.3 954.1,2502.2 954.3,2505.1 954.4,2508.0 954.6,2510.8 954.7,2513.7 954.9,2516.6 955.0,2519.4 955.2,2522.3 955.3,2525.2 955.5,2528.0 955.6,2530.9 955.8,2533.8 955.9,2536.7 956.1,2539.5 956.3,2542.4" fill="none" stroke="#faa876" stroke-width="2.05" stroke-linejoin="round" stroke-linecap="round" opacity="1"/>
<polyline points="664.9,2542.4 665.0,2539.5 665.0,2536.6 665.1,2533.7 665.2,2530.8 665.2,2527.9 665.3,2525.0 665.4,2522.1 665.4,2519.2 665.5,2516.3 665.5,2513.4 665.6,2510.5 665.6,2507.5 665.6,2504.6 665.7,2501.7 665.7,2498.8 665.8,2495.8 665.8,2492.9 665.8,2490.0 665.9,2487.0 665.9,2484.1 666.0,2481.2 666.0,2478.2 666.0,2475.3 666.1,2472.4 666.1,2469.5 666.2,2466.5 666.2,2463.6 666.2,2460.7 666.3,2457.8 666.3,2454.8 666.4,2451.9 666.4,2449.0 666.5,2446.1 666.6,2443.2 666.6,2440.3 666.7,2437.4 666.7,2434.5 666.8,2431.6 666.9,2428.7 667.0,2425.8 667.0,2422.9 667.1,2420.1 667.2,2417.2 667.3,2414.3 667.4,2411.5 667.5,2408.6 667.6,2405.8 667.7,2402.9 667.9,2400.1 668.0,2397.3 668.1,2394.5 668.3,2391.7 668.4,2388.9 668.6,2386.1 668.7,2383.3 668.9,2380.5 669.1,2377.7 669.3,2375.0 669.4,2372.2 669.6,2369.5 670.0,2367.2 670.8,2364.7 671.8,2362.2 673.1,2360.0 674.5,2358.4 675.9,2357.8 677.8,2357.7 680.1,2357.6 682.6,2357.5 685.4,2357.4 688.5,2357.3 691.7,2357.3 695.1,2357.2 698.7,2357.1 702.5,2357.1 706.3,2357.1 710.3,2357.0 714.3,2357.0 718.4,2357.0 722.5,2356.9 726.6,2356.9 730.6,2356.9 734.7,2356.9 738.6,2356.9 742.5,2356.8 746.2,2356.8 749.8,2356.8 753.3,2356.8 756.8,2356.7 760.3,2356.7 763.8,2356.7 767.3,2356.7 770.8,2356.6 774.3,2356.6 777.8,2356.6 781.3,2356.6 784.8,2356.6 788.3,2356.6 791.8,2356.5 795.3,2356.5 798.8,2356.5 802.3,2356.5 805.8,2356.5 809.3,2356.5 812.8,2356.4 816.2,2356.4 819.7,2356.4 823.2,2356.4 826.7,2356.3 830.2,2356.3 833.7,2356.3 837.2,2356.3 840.7,2356.2 844.2,2356.2 847.8,2356.2 851.3,2356.1 854.9,2356.1 858.4,2356.1 862.0,2356.0 865.6,2356.0 869.2,2356.0 872.7,2355.9 876.3,2355.9 879.9,2355.8 883.4,2355.8 887.0,2355.7 890.5,2355.6 894.0,2355.5 897.5,2355.5 900.9,2355.4 904.3,2355.3 907.7,2355.1 911.1,2355.0 914.4,2354.9 917.7,2354.8 921.0,2354.6 924.2,2354.4 927.2,2354.0 930.3,2353.1 933.3,2351.8 936.1,2350.3 938.5,2348.7 940.3,2347.0 941.7,2345.3 942.9,2343.2 943.9,2341.0 944.9,2338.6 945.8,2336.0 946.5,2333.5 947.2,2330.9 947.7,2328.5 948.3,2326.0 948.7,2323.4 949.2,2320.8 949.6,2318.3 950.0,2315.7 950.3,2313.1 950.7,2310.5 951.0,2307.9 951.3,2305.3 951.5,2302.7 951.8,2300.1 952.0,2297.4 952.2,2294.8 952.4,2292.1 952.6,2289.4 952.8,2286.7 952.9,2284.1 953.1,2281.4 953.3,2278.7 953.4,2276.0 953.6,2273.4 953.8,2270.7" fill="none" stroke="#f99a5c" stroke-width="2.05" stroke-linejoin="round" stroke-linecap="round" opacity="1"/>
<polyline points="664.9,2270.7 665.0,2273.5 665.2,2276.4 665.3,2279.2 665.4,2282.1 665.5,2284.9 665.6,2287.8 665.7,2290.7 665.8,2293.5 665.9,2296.4 666.0,2299.3 666.1,2302.2 666.2,2305.0 666.3,2307.9 666.4,2310.8 666.5,2313.7 666.6,2316.5 666.7,2319.4 666.8,2322.2 666.9,2325.1 667.1,2327.9 667.2,2330.7 667.4,2333.6 667.6,2336.4 667.8,2339.2 668.0,2342.0 668.2,2344.7 668.4,2347.5 668.7,2350.2 669.0,2353.0 669.3,2355.7 669.6,2358.4 670.1,2360.6 670.9,2363.2 671.9,2365.7 673.1,2367.9 674.5,2369.5 675.9,2370.1 677.8,2370.2 680.0,2370.3 682.6,2370.4 685.4,2370.5 688.4,2370.6 691.6,2370.6 695.0,2370.7 698.6,2370.7 702.3,2370.8 706.1,2370.8 710.1,2370.9 714.1,2370.9 718.1,2370.9 722.2,2370.9 726.2,2371.0 730.3,2371.0 734.3,2371.0 738.2,2371.0 742.0,2371.1 745.7,2371.1 749.3,2371.1 752.8,2371.1 756.3,2371.2 759.7,2371.2 763.2,2371.2 766.7,2371.2 770.2,2371.2 773.7,2371.3 777.1,2371.3 780.6,2371.3 784.1,2371.3 787.6,2371.3 791.0,2371.3 794.5,2371.4 798.0,2371.4 801.5,2371.4 804.9,2371.4 808.4,2371.4 811.9,2371.4 815.4,2371.5 818.9,2371.5 822.3,2371.5 825.8,2371.5 829.3,2371.6 832.8,2371.6 836.2,2371.6 839.8,2371.7 843.3,2371.7 846.9,2371.7 850.5,2371.8 854.1,2371.8 857.7,2371.8 861.4,2371.9 865.0,2371.9 868.6,2372.0 872.3,2372.0 875.9,2372.1 879.5,2372.1 883.1,2372.2 886.7,2372.3 890.2,2372.4 893.7,2372.5 897.2,2372.6 900.6,2372.7 904.0,2372.8 907.4,2373.0 910.7,2373.1 913.9,2373.3 917.1,2373.5 919.9,2373.9 922.8,2374.8 925.6,2376.1 928.1,2377.6 930.3,2379.3 931.9,2380.9 933.3,2382.7 934.5,2384.9 935.6,2387.2 936.6,2389.8 937.4,2392.4 938.2,2395.1 938.9,2397.8 939.5,2400.5 940.0,2403.1 940.5,2405.7 941.0,2408.4 941.4,2411.1 941.8,2413.8 942.2,2416.5 942.6,2419.2 942.9,2421.9 943.2,2424.6 943.5,2427.3 943.8,2430.0 944.1,2432.7 944.4,2435.5 944.6,2438.2 944.9,2440.9 945.1,2443.6 945.4,2446.3 945.7,2449.1 945.9,2452.0 946.2,2454.8 946.4,2457.6 946.6,2460.4 946.8,2463.3 947.1,2466.1 947.3,2468.9 947.5,2471.7 947.7,2474.6 947.9,2477.4 948.1,2480.2 948.3,2483.0 948.5,2485.9 948.7,2488.7 948.8,2491.5 949.0,2494.3 949.2,2497.2 949.4,2500.0 949.6,2502.8 949.7,2505.6 949.9,2508.5 950.1,2511.3 950.3,2514.1 950.5,2517.0 950.6,2519.8 950.8,2522.6 951.0,2525.4 951.2,2528.3 951.4,2531.1 951.5,2533.9 951.7,2536.7 951.9,2539.6 952.1,2542.4" fill="none" stroke="#f99a5c" stroke-width="2.05" stroke-linejoin="round" stroke-linecap="round" opacity="1"/>
<polyline points="662.8,2542.4 662.8,2539.7 662.9,2536.9 662.9,2534.2 662.9,2531.4 662.9,2528.7 663.0,2525.9 663.0,2523.2 663.0,2520.4 663.0,2517.7 663.1,2515.0 663.1,2512.2 663.1,2509.5 663.1,2506.7 663.1,2504.0 663.2,2501.2 663.2,2498.5 663.2,2495.7 663.2,2493.0 663.2,2490.3 663.3,2487.5 663.3,2484.8 663.3,2482.0 663.3,2479.3 663.3,2476.5 663.4,2473.8 663.4,2471.0 663.4,2468.3 663.4,2465.5 663.5,2462.8 663.5,2460.1 663.5,2457.3 663.5,2454.6 663.6,2451.8 663.6,2449.1 663.6,2446.3 663.7,2443.6 663.7,2440.8 663.8,2438.1 663.8,2435.4 663.8,2432.6 663.9,2429.9 663.9,2427.1 664.0,2424.4 664.0,2421.6 664.1,2418.9 664.1,2416.3 664.2,2413.7 664.2,2411.1 664.3,2408.5 664.3,2405.8 664.4,2403.2 664.5,2400.6 664.6,2398.0 664.7,2395.4 664.8,2392.7 664.9,2390.1 665.0,2387.5 665.1,2384.9 665.3,2382.3 665.5,2379.8 665.6,2377.2 665.8,2374.6 666.1,2372.1 666.3,2369.5 666.5,2367.0 666.9,2364.8 667.4,2362.4 668.2,2359.9 669.1,2357.6 670.2,2355.5 671.4,2353.9 672.7,2352.8 674.6,2352.1 677.3,2351.6 680.3,2351.2 683.1,2351.0 686.4,2350.9 689.7,2350.9 693.0,2350.8 696.3,2350.8 699.6,2350.8 702.9,2350.7 706.2,2350.7 709.6,2350.7 712.9,2350.7 716.2,2350.7 719.6,2350.6 722.9,2350.6 726.3,2350.6 729.6,2350.6 733.0,2350.6 736.3,2350.6 739.7,2350.6 743.0,2350.6 746.4,2350.6 749.7,2350.6 753.1,2350.5 756.4,2350.5 759.8,2350.5 763.1,2350.5 766.5,2350.5 769.8,2350.5 773.2,2350.5 776.5,2350.4 779.9,2350.4 783.2,2350.4 786.6,2350.4 789.9,2350.3 793.2,2350.3 796.5,2350.3 799.8,2350.2 803.2,2350.2 806.5,2350.1 809.8,2350.1 813.1,2350.0 816.4,2350.0 819.8,2349.9 823.1,2349.9 826.4,2349.8 829.7,2349.8 833.0,2349.7 836.4,2349.6 839.7,2349.5 843.0,2349.4 846.3,2349.3 849.6,2349.2 852.9,2349.1 856.2,2349.0 859.5,2348.9 862.8,2348.8 866.1,2348.6 869.3,2348.5 872.5,2348.3 875.7,2348.1 878.9,2347.7 882.1,2347.3 885.3,2346.8 888.5,2346.3 891.6,2345.7 894.6,2345.0 897.6,2344.3 900.4,2343.6 902.7,2342.8 905.0,2341.8 907.2,2340.6 909.4,2339.3 911.4,2337.9 913.3,2336.4 914.9,2334.9 916.5,2333.1 918.0,2331.1 919.5,2329.0 920.8,2326.8 922.0,2324.5 923.2,2322.2 924.2,2319.9 925.2,2317.6 926.1,2315.5 926.9,2313.3 927.7,2311.1 928.5,2308.9 929.2,2306.6 929.9,2304.4 930.5,2302.1 931.2,2299.9 931.8,2297.6 932.5,2295.4 933.1,2292.9 933.8,2290.5 934.4,2288.0 935.1,2285.5 935.7,2283.1 936.3,2280.6 936.9,2278.1 937.5,2275.6 938.1,2273.2 938.7,2270.7" fill="none" stroke="#f57f28" stroke-width="2.1500000000000004" stroke-linejoin="round" stroke-linecap="round" opacity="1"/>
<polyline points="662.4,2270.7 662.5,2273.3 662.5,2275.8 662.5,2278.4 662.6,2281.0 662.6,2283.6 662.7,2286.1 662.7,2288.7 662.7,2291.3 662.8,2293.9 662.8,2296.4 662.9,2299.0 662.9,2301.6 662.9,2304.2 663.0,2306.7 663.0,2309.3 663.1,2311.9 663.1,2314.5 663.2,2317.0 663.3,2319.6 663.3,2322.2 663.4,2324.7 663.5,2327.3 663.6,2329.9 663.6,2332.5 663.7,2334.9 663.8,2337.4 663.9,2340.0 664.1,2342.5 664.2,2345.0 664.4,2347.6 664.6,2350.1 664.8,2352.6 665.1,2355.0 665.4,2357.4 665.7,2359.8 666.1,2362.1 666.8,2364.2 667.9,2366.4 669.3,2368.5 671.0,2370.2 672.7,2371.4 674.4,2371.9 676.4,2372.4 678.6,2372.8 680.9,2373.1 683.1,2373.2 686.3,2373.3 689.5,2373.4 692.7,2373.5 695.9,2373.5 699.1,2373.6 702.3,2373.6 705.5,2373.7 708.7,2373.7 712.0,2373.8 715.2,2373.8 718.4,2373.8 721.7,2373.9 724.9,2373.9 728.2,2373.9 731.4,2373.9 734.6,2373.9 737.9,2374.0 741.1,2374.0 744.4,2374.0 747.6,2374.0 750.9,2374.0 754.1,2374.0 757.4,2374.1 760.6,2374.1 763.9,2374.1 767.1,2374.2 770.4,2374.2 773.6,2374.2 776.9,2374.3 780.1,2374.3 783.3,2374.4 786.6,2374.4 789.7,2374.5 792.8,2374.6 795.9,2374.7 799.0,2374.8 802.2,2374.8 805.3,2375.0 808.4,2375.1 811.5,2375.2 814.6,2375.3 817.8,2375.5 820.9,2375.6 824.0,2375.8 827.1,2376.0 830.2,2376.2 833.3,2376.4 836.4,2376.6 839.5,2376.8 842.5,2377.0 845.6,2377.3 848.6,2377.5 851.5,2377.8 854.4,2378.2 857.3,2378.6 860.3,2379.2 863.2,2379.8 866.0,2380.4 868.9,2381.1 871.7,2381.8 874.4,2382.6 877.1,2383.5 879.7,2384.3 882.2,2385.3 884.8,2386.4 887.3,2387.7 889.7,2389.1 892.1,2390.6 894.3,2392.2 896.4,2393.8 898.3,2395.4 900.0,2397.1 901.6,2398.8 903.2,2400.7 904.6,2402.6 906.0,2404.6 907.4,2406.6 908.6,2408.6 909.7,2410.7 910.7,2412.7 911.8,2415.0 912.8,2417.3 913.7,2419.6 914.6,2421.9 915.4,2424.3 916.2,2426.7 917.0,2429.1 917.7,2431.5 918.4,2433.9 919.1,2436.4 919.8,2438.8 920.4,2441.2 921.1,2443.6 921.7,2446.0 922.4,2448.5 923.0,2451.0 923.6,2453.4 924.2,2455.9 924.8,2458.4 925.4,2460.8 925.9,2463.3 926.5,2465.8 927.0,2468.2 927.5,2470.7 928.0,2473.2 928.5,2475.7 928.9,2478.2 929.4,2480.7 929.8,2483.2 930.2,2485.8 930.6,2488.3 931.0,2490.9 931.4,2493.5 931.7,2496.0 932.1,2498.6 932.4,2501.2 932.8,2503.8 933.1,2506.3 933.5,2508.9 933.8,2511.5 934.1,2514.1 934.4,2516.6 934.7,2519.2 935.0,2521.8 935.4,2524.4 935.7,2526.9 936.0,2529.5 936.3,2532.1 936.6,2534.7 937.0,2537.3 937.3,2539.8 937.6,2542.4" fill="none" stroke="#f57f28" stroke-width="2.1500000000000004" stroke-linejoin="round" stroke-linecap="round" opacity="1"/>
<polyline points="662.8,2542.4 662.8,2539.8 662.9,2537.1 662.9,2534.5 662.9,2531.9 662.9,2529.3 663.0,2526.6 663.0,2524.0 663.0,2521.4 663.0,2518.7 663.0,2516.1 663.1,2513.5 663.1,2510.9 663.1,2508.2 663.1,2505.6 663.1,2503.0 663.2,2500.4 663.2,2497.7 663.2,2495.1 663.2,2492.5 663.2,2489.8 663.3,2487.2 663.3,2484.6 663.3,2482.0 663.3,2479.3 663.3,2476.7 663.4,2474.1 663.4,2471.4 663.4,2468.8 663.4,2466.2 663.5,2463.6 663.5,2460.9 663.5,2458.3 663.5,2455.7 663.6,2453.1 663.6,2450.4 663.6,2447.8 663.7,2445.2 663.7,2442.5 663.7,2439.9 663.8,2437.3 663.8,2434.7 663.8,2432.0 663.9,2429.4 663.9,2426.8 664.0,2424.2 664.0,2421.5 664.1,2418.9 664.1,2416.4 664.1,2413.8 664.2,2411.3 664.3,2408.8 664.3,2406.2 664.4,2403.7 664.4,2401.1 664.5,2398.6 664.6,2396.0 664.7,2393.5 664.8,2390.9 664.9,2388.4 665.0,2385.9 665.1,2383.3 665.3,2380.8 665.4,2378.3 665.6,2375.8 665.7,2373.3 665.9,2370.8 666.1,2368.3 666.3,2365.8 666.5,2363.3 666.8,2361.1 667.3,2358.6 667.8,2356.1 668.6,2353.6 669.4,2351.3 670.4,2349.3 671.5,2347.7 672.7,2346.7 674.1,2346.1 676.1,2345.6 678.4,2345.2 680.8,2344.9 683.1,2344.8 686.3,2344.7 689.5,2344.6 692.7,2344.6 695.9,2344.5 699.1,2344.4 702.3,2344.4 705.5,2344.3 708.7,2344.3 712.0,2344.2 715.2,2344.2 718.4,2344.2 721.7,2344.1 724.9,2344.1 728.1,2344.1 731.4,2344.1 734.6,2344.0 737.9,2344.0 741.1,2344.0 744.4,2344.0 747.6,2344.0 750.9,2343.9 754.1,2343.9 757.4,2343.9 760.6,2343.9 763.9,2343.8 767.1,2343.8 770.4,2343.8 773.6,2343.8 776.9,2343.7 780.1,2343.7 783.3,2343.6 786.6,2343.6 789.7,2343.5 792.8,2343.5 795.9,2343.4 799.0,2343.3 802.1,2343.3 805.3,2343.2 808.4,2343.2 811.5,2343.1 814.6,2343.0 817.7,2342.9 820.9,2342.9 824.0,2342.8 827.1,2342.7 830.2,2342.6 833.3,2342.5 836.4,2342.3 839.5,2342.2 842.5,2342.0 845.6,2341.9 848.6,2341.7 851.4,2341.5 854.2,2341.2 856.9,2340.8 859.7,2340.3 862.5,2339.7 865.2,2339.1 867.9,2338.4 870.5,2337.7 873.1,2336.9 875.6,2336.2 878.1,2335.2 880.6,2334.1 883.1,2332.8 885.5,2331.4 887.8,2329.9 890.1,2328.3 892.2,2326.7 894.2,2325.0 896.0,2323.4 897.7,2321.7 899.4,2319.9 901.0,2318.0 902.5,2316.1 904.0,2314.2 905.3,2312.2 906.6,2310.2 907.8,2308.2 909.0,2306.1 910.1,2303.9 911.1,2301.7 912.1,2299.5 913.1,2297.3 914.0,2295.1 914.9,2292.9 915.7,2290.7 916.5,2288.5 917.2,2286.3 918.0,2284.1 918.7,2281.9 919.3,2279.6 920.0,2277.4 920.7,2275.2 921.4,2272.9 922.1,2270.7" fill="none" stroke="#e96b25" stroke-width="2.1500000000000004" stroke-linejoin="round" stroke-linecap="round" opacity="1"/>
<polyline points="662.4,2270.7 662.4,2273.2 662.5,2275.6 662.5,2278.1 662.6,2280.6 662.6,2283.1 662.7,2285.5 662.7,2288.0 662.7,2290.5 662.8,2292.9 662.8,2295.4 662.9,2297.9 662.9,2300.3 662.9,2302.8 663.0,2305.3 663.0,2307.8 663.1,2310.2 663.1,2312.7 663.2,2315.2 663.2,2317.6 663.3,2320.1 663.4,2322.6 663.4,2325.0 663.5,2327.5 663.6,2330.0 663.6,2332.5 663.7,2334.8 663.8,2337.1 663.9,2339.5 664.0,2341.8 664.1,2344.2 664.2,2346.6 664.3,2348.9 664.5,2351.3 664.6,2353.6 664.8,2355.9 665.0,2358.2 665.2,2360.5 665.5,2362.7 665.8,2364.9 666.1,2367.0 666.6,2368.8 667.4,2370.6 668.5,2372.4 669.8,2374.1 671.3,2375.4 672.7,2376.3 674.4,2376.8 676.4,2377.3 678.6,2377.7 680.9,2378.0 683.1,2378.1 686.1,2378.3 689.1,2378.4 692.2,2378.5 695.2,2378.6 698.3,2378.7 701.3,2378.8 704.4,2378.9 707.4,2378.9 710.5,2379.0 713.6,2379.1 716.7,2379.1 719.7,2379.1 722.8,2379.2 725.9,2379.2 729.0,2379.3 732.1,2379.3 735.1,2379.3 738.2,2379.4 741.3,2379.4 744.4,2379.5 747.5,2379.5 750.5,2379.6 753.6,2379.6 756.7,2379.7 759.7,2379.8 762.8,2379.9 765.9,2380.0 768.9,2380.1 772.0,2380.3 775.0,2380.4 778.1,2380.6 781.2,2380.8 784.2,2381.0 787.3,2381.2 790.4,2381.5 793.4,2381.7 796.5,2382.0 799.5,2382.3 802.6,2382.6 805.6,2382.9 808.6,2383.2 811.6,2383.6 814.6,2383.9 817.6,2384.3 820.4,2384.7 823.2,2385.1 826.0,2385.6 828.7,2386.2 831.5,2386.8 834.3,2387.4 837.1,2388.1 839.8,2388.8 842.5,2389.6 845.1,2390.4 847.8,2391.2 850.3,2392.1 852.8,2393.0 855.3,2394.0 857.8,2395.1 860.2,2396.3 862.6,2397.7 865.0,2399.1 867.3,2400.6 869.5,2402.1 871.5,2403.7 873.5,2405.3 875.4,2407.0 877.2,2408.7 878.9,2410.6 880.6,2412.5 882.3,2414.5 883.8,2416.5 885.3,2418.5 886.7,2420.6 888.0,2422.6 889.1,2424.6 890.3,2426.6 891.4,2428.6 892.4,2430.7 893.4,2432.8 894.4,2434.9 895.4,2437.0 896.3,2439.1 897.2,2441.2 898.0,2443.4 898.8,2445.5 899.6,2447.6 900.4,2449.8 901.2,2452.0 901.9,2454.3 902.7,2456.6 903.4,2458.9 904.1,2461.2 904.8,2463.5 905.5,2465.9 906.1,2468.2 906.7,2470.5 907.3,2472.8 907.9,2475.2 908.5,2477.5 909.1,2479.8 909.7,2482.2 910.2,2484.5 910.7,2486.8 911.3,2489.2 911.8,2491.6 912.3,2494.0 912.8,2496.4 913.3,2498.9 913.7,2501.3 914.2,2503.7 914.7,2506.1 915.1,2508.5 915.5,2510.9 916.0,2513.4 916.4,2515.8 916.8,2518.2 917.2,2520.6 917.7,2523.0 918.1,2525.5 918.5,2527.9 918.9,2530.3 919.3,2532.7 919.8,2535.1 920.2,2537.6 920.6,2540.0 921.1,2542.4" fill="none" stroke="#e96b25" stroke-width="2.1500000000000004" stroke-linejoin="round" stroke-linecap="round" opacity="1"/>
<polyline points="662.8,2542.4 662.8,2539.9 662.9,2537.4 662.9,2534.8 662.9,2532.3 662.9,2529.8 663.0,2527.3 663.0,2524.8 663.0,2522.2 663.0,2519.7 663.0,2517.2 663.1,2514.7 663.1,2512.2 663.1,2509.6 663.1,2507.1 663.1,2504.6 663.2,2502.1 663.2,2499.6 663.2,2497.0 663.2,2494.5 663.2,2492.0 663.2,2489.5 663.3,2486.9 663.3,2484.4 663.3,2481.9 663.3,2479.4 663.4,2476.9 663.4,2474.3 663.4,2471.8 663.4,2469.3 663.4,2466.8 663.5,2464.3 663.5,2461.7 663.5,2459.2 663.5,2456.7 663.6,2454.2 663.6,2451.7 663.6,2449.1 663.7,2446.6 663.7,2444.1 663.7,2441.6 663.7,2439.1 663.8,2436.5 663.8,2434.0 663.9,2431.5 663.9,2429.0 663.9,2426.5 664.0,2423.9 664.0,2421.4 664.1,2418.9 664.1,2416.4 664.1,2414.0 664.2,2411.5 664.2,2409.0 664.3,2406.5 664.4,2404.0 664.4,2401.5 664.5,2399.1 664.5,2396.6 664.6,2394.1 664.7,2391.6 664.8,2389.1 664.9,2386.6 665.0,2384.2 665.1,2381.7 665.2,2379.2 665.3,2376.7 665.5,2374.3 665.6,2371.8 665.8,2369.4 666.0,2366.9 666.1,2364.5 666.3,2362.0 666.5,2359.6 666.8,2357.4 667.1,2355.1 667.6,2352.7 668.2,2350.3 668.9,2348.0 669.7,2345.9 670.6,2344.0 671.6,2342.3 672.7,2341.1 674.1,2340.2 676.1,2339.4 678.4,2338.8 680.8,2338.3 683.1,2338.0 686.1,2337.9 689.1,2337.7 692.1,2337.6 695.2,2337.5 698.3,2337.5 701.4,2337.4 704.5,2337.3 707.6,2337.3 710.7,2337.2 713.8,2337.2 717.0,2337.1 720.1,2337.1 723.3,2337.1 726.4,2337.0 729.5,2337.0 732.7,2337.0 735.8,2336.9 738.9,2336.9 742.1,2336.8 745.2,2336.8 748.3,2336.7 751.5,2336.7 754.6,2336.6 757.8,2336.6 760.9,2336.5 764.1,2336.5 767.2,2336.5 770.4,2336.4 773.5,2336.4 776.7,2336.3 779.9,2336.3 783.0,2336.3 786.2,2336.2 789.3,2336.2 792.5,2336.1 795.6,2336.1 798.8,2336.0 801.9,2335.9 805.0,2335.9 808.2,2335.8 811.3,2335.7 814.5,2335.6 817.6,2335.5 820.5,2335.4 823.3,2335.3 826.2,2335.1 829.1,2334.9 831.9,2334.6 834.8,2334.4 837.6,2334.0 840.4,2333.7 843.2,2333.3 846.0,2332.9 848.6,2332.5 851.1,2331.9 853.6,2331.3 856.1,2330.4 858.5,2329.5 860.9,2328.5 863.1,2327.4 865.3,2326.2 867.3,2325.0 869.1,2323.8 870.8,2322.5 872.5,2321.0 874.2,2319.4 875.7,2317.8 877.2,2316.1 878.5,2314.4 879.7,2312.7 880.8,2310.9 881.9,2309.1 882.9,2307.2 883.8,2305.2 884.7,2303.3 885.5,2301.3 886.3,2299.3 887.1,2297.4 888.0,2295.4 888.9,2293.2 889.8,2290.9 890.7,2288.7 891.5,2286.5 892.3,2284.2 893.2,2282.0 894.0,2279.7 894.8,2277.5 895.6,2275.2 896.4,2272.9 897.3,2270.7" fill="none" stroke="#d4602b" stroke-width="2.25" stroke-linejoin="round" stroke-linecap="round" opacity="1"/>
<polyline points="662.4,2270.7 662.4,2273.0 662.5,2275.3 662.5,2277.6 662.6,2279.8 662.6,2282.1 662.6,2284.4 662.7,2286.7 662.7,2289.0 662.8,2291.3 662.8,2293.6 662.8,2295.9 662.9,2298.1 662.9,2300.4 662.9,2302.7 663.0,2305.0 663.0,2307.3 663.1,2309.6 663.1,2311.9 663.2,2314.2 663.2,2316.4 663.3,2318.7 663.3,2321.0 663.4,2323.3 663.4,2325.6 663.5,2327.9 663.6,2330.2 663.6,2332.5 663.7,2334.6 663.8,2336.8 663.9,2339.1 663.9,2341.3 664.0,2343.5 664.1,2345.7 664.2,2347.9 664.3,2350.2 664.5,2352.4 664.6,2354.6 664.8,2356.8 664.9,2359.0 665.1,2361.1 665.3,2363.2 665.6,2365.4 665.8,2367.4 666.1,2369.5 666.6,2371.5 667.4,2373.6 668.5,2375.6 669.8,2377.5 671.2,2379.0 672.7,2380.0 674.3,2380.5 676.3,2381.0 678.6,2381.3 680.9,2381.6 683.1,2381.8 685.9,2382.1 688.7,2382.4 691.5,2382.6 694.3,2382.8 697.1,2383.0 699.9,2383.1 702.8,2383.3 705.6,2383.4 708.4,2383.6 711.3,2383.7 714.1,2383.8 716.9,2383.9 719.8,2384.0 722.6,2384.2 725.5,2384.3 728.3,2384.4 731.1,2384.6 733.9,2384.7 736.8,2384.9 739.6,2385.1 742.4,2385.3 745.2,2385.6 747.9,2385.8 750.6,2386.1 753.3,2386.4 756.0,2386.7 758.7,2387.1 761.5,2387.5 764.2,2387.9 766.9,2388.3 769.6,2388.7 772.3,2389.2 774.9,2389.7 777.6,2390.2 780.3,2390.7 782.9,2391.2 785.5,2391.8 788.1,2392.4 790.7,2393.0 793.2,2393.6 795.6,2394.2 798.1,2394.9 800.5,2395.7 802.9,2396.5 805.4,2397.4 807.8,2398.3 810.1,2399.2 812.5,2400.2 814.8,2401.2 817.1,2402.2 819.4,2403.2 821.6,2404.3 823.8,2405.3 826.0,2406.4 828.3,2407.6 830.5,2408.9 832.7,2410.2 834.9,2411.5 837.0,2412.9 839.0,2414.4 840.9,2415.8 842.8,2417.4 844.5,2418.9 846.2,2420.5 847.7,2422.2 849.3,2423.9 850.8,2425.7 852.2,2427.6 853.6,2429.5 854.9,2431.4 856.2,2433.3 857.5,2435.3 858.7,2437.2 859.9,2439.2 861.1,2441.1 862.2,2443.0 863.3,2445.0 864.4,2446.9 865.4,2448.8 866.5,2450.8 867.5,2452.8 868.4,2454.7 869.4,2456.7 870.4,2458.7 871.3,2460.7 872.2,2462.7 873.1,2464.7 873.9,2466.7 874.7,2468.8 875.6,2470.8 876.3,2472.8 877.1,2474.8 877.9,2476.9 878.6,2478.9 879.4,2481.0 880.1,2483.0 880.8,2485.1 881.4,2487.1 882.1,2489.2 882.8,2491.3 883.4,2493.4 884.1,2495.4 884.7,2497.5 885.3,2499.6 885.9,2501.6 886.5,2503.8 887.1,2505.9 887.7,2508.0 888.3,2510.2 888.8,2512.3 889.4,2514.5 889.9,2516.6 890.5,2518.8 891.0,2520.9 891.5,2523.1 892.0,2525.2 892.6,2527.4 893.1,2529.5 893.6,2531.7 894.1,2533.8 894.6,2536.0 895.2,2538.1 895.7,2540.3 896.2,2542.4" fill="none" stroke="#d4602b" stroke-width="2.25" stroke-linejoin="round" stroke-linecap="round" opacity="1"/>
<polyline points="662.8,2542.4 662.8,2540.2 662.9,2537.9 662.9,2535.7 662.9,2533.4 662.9,2531.2 662.9,2528.9 663.0,2526.7 663.0,2524.4 663.0,2522.2 663.0,2519.9 663.0,2517.7 663.0,2515.5 663.1,2513.2 663.1,2511.0 663.1,2508.7 663.1,2506.5 663.1,2504.2 663.1,2502.0 663.2,2499.7 663.2,2497.5 663.2,2495.2 663.2,2493.0 663.2,2490.7 663.2,2488.5 663.3,2486.3 663.3,2484.0 663.3,2481.8 663.3,2479.5 663.3,2477.3 663.3,2475.0 663.4,2472.8 663.4,2470.5 663.4,2468.3 663.4,2466.0 663.5,2463.8 663.5,2461.6 663.5,2459.3 663.5,2457.1 663.5,2454.8 663.6,2452.6 663.6,2450.3 663.6,2448.1 663.6,2445.8 663.7,2443.6 663.7,2441.3 663.7,2439.1 663.8,2436.9 663.8,2434.6 663.8,2432.4 663.9,2430.1 663.9,2427.9 663.9,2425.6 664.0,2423.4 664.0,2421.1 664.1,2418.9 664.1,2416.8 664.1,2414.6 664.2,2412.4 664.2,2410.3 664.3,2408.1 664.4,2406.0 664.4,2403.8 664.5,2401.7 664.6,2399.5 664.7,2397.3 664.8,2395.2 664.9,2393.0 665.0,2390.9 665.1,2388.7 665.2,2386.6 665.3,2384.4 665.5,2382.3 665.6,2380.1 665.8,2378.0 666.0,2375.9 666.1,2373.7 666.3,2371.6 666.5,2369.5 666.8,2367.6 667.1,2365.7 667.5,2363.8 668.1,2362.0 668.6,2360.1 669.3,2358.2 670.0,2356.4 670.7,2354.7 671.5,2353.0 672.5,2351.3 673.6,2349.6 674.8,2348.0 676.1,2346.4 677.5,2344.9 679.0,2343.6 680.4,2342.3 682.1,2341.2 683.8,2340.0 685.6,2339.0 687.5,2338.0 689.5,2337.0 691.4,2336.2 693.3,2335.3 695.3,2334.5 697.4,2333.7 699.4,2333.0 701.5,2332.3 703.7,2331.7 705.8,2331.1 707.9,2330.6 710.3,2330.1 712.7,2329.6 715.1,2329.1 717.6,2328.7 720.0,2328.3 722.5,2327.9 724.9,2327.6 727.4,2327.2 729.9,2326.9 732.4,2326.6 734.8,2326.3 737.4,2326.0 740.0,2325.7 742.6,2325.4 745.1,2325.1 747.7,2324.9 750.3,2324.6 752.9,2324.4 755.5,2324.2 758.1,2323.9 760.7,2323.7 763.3,2323.4 765.9,2323.2 768.4,2322.9 770.9,2322.7 773.3,2322.5 775.8,2322.3 778.3,2322.1 780.8,2321.9 783.3,2321.6 785.8,2321.3 788.3,2321.0 790.7,2320.7 793.1,2320.3 795.4,2319.9 797.8,2319.4 800.2,2318.9 802.5,2318.3 804.8,2317.7 807.1,2317.1 809.3,2316.4 811.5,2315.7 813.7,2314.9 815.8,2314.1 817.9,2313.2 820.0,2312.3 821.9,2311.3 823.8,2310.2 825.5,2309.2 827.1,2308.1 828.6,2306.9 830.1,2305.6 831.6,2304.3 832.9,2302.9 834.2,2301.6 835.4,2300.2 836.5,2298.7 837.6,2297.2 838.7,2295.6 839.7,2294.0 840.6,2292.4 841.6,2290.8 842.4,2289.2 843.4,2287.4 844.3,2285.6 845.1,2283.8 846.0,2281.9 846.8,2280.0 847.6,2278.2 848.3,2276.3 849.1,2274.4 849.9,2272.6 850.7,2270.7" fill="none" stroke="#a65a2a" stroke-width="2.35" stroke-linejoin="round" stroke-linecap="round" opacity="1"/>
<polyline points="662.4,2270.7 662.4,2272.8 662.5,2274.8 662.5,2276.9 662.6,2278.9 662.6,2281.0 662.6,2283.1 662.7,2285.1 662.7,2287.2 662.7,2289.2 662.8,2291.3 662.8,2293.3 662.8,2295.4 662.9,2297.5 662.9,2299.5 662.9,2301.6 663.0,2303.6 663.0,2305.7 663.0,2307.8 663.1,2309.8 663.1,2311.9 663.2,2313.9 663.2,2316.0 663.2,2318.0 663.3,2320.1 663.3,2322.2 663.4,2324.2 663.5,2326.3 663.5,2328.3 663.6,2330.4 663.6,2332.5 663.7,2334.4 663.8,2336.4 663.8,2338.3 663.9,2340.3 664.0,2342.3 664.1,2344.2 664.2,2346.2 664.3,2348.2 664.4,2350.1 664.5,2352.1 664.6,2354.1 664.7,2356.0 664.9,2358.0 665.1,2359.9 665.2,2361.9 665.4,2363.8 665.6,2365.7 665.9,2367.6 666.1,2369.5 666.4,2371.1 666.9,2372.7 667.4,2374.3 668.1,2375.9 668.9,2377.4 669.8,2378.8 670.7,2380.0 671.9,2381.2 673.4,2382.2 675.2,2383.2 677.1,2384.1 679.0,2384.9 680.9,2385.7 682.9,2386.4 685.0,2387.0 687.1,2387.6 689.2,2388.1 691.3,2388.7 693.4,2389.3 695.5,2389.8 697.6,2390.4 699.6,2391.0 701.7,2391.5 703.8,2392.0 705.9,2392.6 707.9,2393.1 710.0,2393.7 712.1,2394.2 714.1,2394.8 716.4,2395.5 718.7,2396.1 720.9,2396.7 723.2,2397.3 725.5,2398.0 727.7,2398.6 730.0,2399.3 732.2,2399.9 734.5,2400.6 736.7,2401.3 738.9,2402.1 741.0,2402.8 743.2,2403.6 745.3,2404.5 747.4,2405.3 749.6,2406.2 751.7,2407.1 753.8,2408.0 755.8,2408.9 757.9,2409.9 759.9,2410.9 761.9,2411.9 763.9,2412.9 765.9,2414.0 767.7,2415.0 769.5,2416.0 771.3,2417.0 773.1,2418.1 774.9,2419.2 776.6,2420.4 778.4,2421.5 780.1,2422.7 781.7,2423.9 783.4,2425.1 785.0,2426.3 786.6,2427.5 788.2,2428.9 789.8,2430.3 791.4,2431.7 793.0,2433.1 794.5,2434.5 796.0,2436.0 797.5,2437.5 799.0,2439.0 800.4,2440.5 801.8,2442.1 803.1,2443.6 804.5,2445.2 805.8,2446.8 807.1,2448.4 808.3,2450.0 809.6,2451.6 810.8,2453.3 812.0,2454.9 813.2,2456.6 814.3,2458.3 815.4,2460.0 816.5,2461.7 817.6,2463.4 818.7,2465.1 819.7,2466.9 820.8,2468.7 821.8,2470.4 822.8,2472.2 823.7,2474.0 824.7,2475.9 825.6,2477.7 826.5,2479.5 827.4,2481.3 828.3,2483.2 829.2,2485.0 830.0,2486.8 830.9,2488.6 831.7,2490.5 832.5,2492.3 833.3,2494.2 834.0,2496.0 834.8,2497.8 835.6,2499.7 836.3,2501.6 837.0,2503.4 837.7,2505.3 838.4,2507.1 839.1,2509.0 839.7,2510.9 840.4,2512.8 841.0,2514.6 841.5,2516.4 842.1,2518.3 842.6,2520.1 843.2,2522.0 843.7,2523.8 844.2,2525.7 844.7,2527.5 845.2,2529.4 845.7,2531.3 846.2,2533.1 846.6,2535.0 847.1,2536.8 847.6,2538.7 848.1,2540.5 848.6,2542.4" fill="none" stroke="#a65a2a" stroke-width="2.35" stroke-linejoin="round" stroke-linecap="round" opacity="1"/>
</g>
<rect x="651.5" y="2264.8" width="383.4" height="308.6" fill="none" stroke="#262626" stroke-width="1.9"/>
<line x1="646.5" y1="2542.4" x2="651.5" y2="2542.4" stroke="#262626" stroke-width="1.5"/>
<text x="640.0" y="2548.4" font-family="'Liberation Sans', sans-serif" font-weight="700" font-size="16.8" fill="#262626" stroke="#262626" stroke-width="0.3" text-anchor="end">2.0</text>
<line x1="646.5" y1="2480.7" x2="651.5" y2="2480.7" stroke="#262626" stroke-width="1.5"/>
<text x="640.0" y="2486.7" font-family="'Liberation Sans', sans-serif" font-weight="700" font-size="16.8" fill="#262626" stroke="#262626" stroke-width="0.3" text-anchor="end">2.5</text>
<line x1="646.5" y1="2418.9" x2="651.5" y2="2418.9" stroke="#262626" stroke-width="1.5"/>
<text x="640.0" y="2424.9" font-family="'Liberation Sans', sans-serif" font-weight="700" font-size="16.8" fill="#262626" stroke="#262626" stroke-width="0.3" text-anchor="end">3.0</text>
<line x1="646.5" y1="2357.2" x2="651.5" y2="2357.2" stroke="#262626" stroke-width="1.5"/>
<text x="640.0" y="2363.2" font-family="'Liberation Sans', sans-serif" font-weight="700" font-size="16.8" fill="#262626" stroke="#262626" stroke-width="0.3" text-anchor="end">3.5</text>
<line x1="646.5" y1="2295.4" x2="651.5" y2="2295.4" stroke="#262626" stroke-width="1.5"/>
<text x="640.0" y="2301.4" font-family="'Liberation Sans', sans-serif" font-weight="700" font-size="16.8" fill="#262626" stroke="#262626" stroke-width="0.3" text-anchor="end">4.0</text>
<line x1="648.5" y1="2511.5" x2="651.5" y2="2511.5" stroke="#262626" stroke-width="1.1"/>
<line x1="648.5" y1="2449.8" x2="651.5" y2="2449.8" stroke="#262626" stroke-width="1.1"/>
<line x1="648.5" y1="2388.0" x2="651.5" y2="2388.0" stroke="#262626" stroke-width="1.1"/>
<line x1="648.5" y1="2326.3" x2="651.5" y2="2326.3" stroke="#262626" stroke-width="1.1"/>
<line x1="662.4" y1="2573.4" x2="662.4" y2="2578.4" stroke="#262626" stroke-width="1.5"/>
<text x="654.8" y="2597.5" font-family="'Liberation Sans', sans-serif" font-weight="700" font-size="16.8" fill="#262626" stroke="#262626" stroke-width="0.3" text-anchor="middle">0</text>
<line x1="724.5" y1="2573.4" x2="724.5" y2="2578.4" stroke="#262626" stroke-width="1.5"/>
<text x="724.5" y="2597.5" font-family="'Liberation Sans', sans-serif" font-weight="700" font-size="16.8" fill="#262626" stroke="#262626" stroke-width="0.3" text-anchor="middle">30</text>
<line x1="786.6" y1="2573.4" x2="786.6" y2="2578.4" stroke="#262626" stroke-width="1.5"/>
<text x="786.6" y="2597.5" font-family="'Liberation Sans', sans-serif" font-weight="700" font-size="16.8" fill="#262626" stroke="#262626" stroke-width="0.3" text-anchor="middle">60</text>
<line x1="848.6" y1="2573.4" x2="848.6" y2="2578.4" stroke="#262626" stroke-width="1.5"/>
<text x="848.6" y="2597.5" font-family="'Liberation Sans', sans-serif" font-weight="700" font-size="16.8" fill="#262626" stroke="#262626" stroke-width="0.3" text-anchor="middle">90</text>
<line x1="910.7" y1="2573.4" x2="910.7" y2="2578.4" stroke="#262626" stroke-width="1.5"/>
<text x="910.7" y="2597.5" font-family="'Liberation Sans', sans-serif" font-weight="700" font-size="16.8" fill="#262626" stroke="#262626" stroke-width="0.3" text-anchor="middle">120</text>
<line x1="972.8" y1="2573.4" x2="972.8" y2="2578.4" stroke="#262626" stroke-width="1.5"/>
<text x="972.8" y="2597.5" font-family="'Liberation Sans', sans-serif" font-weight="700" font-size="16.8" fill="#262626" stroke="#262626" stroke-width="0.3" text-anchor="middle">150</text>
<line x1="1034.9" y1="2573.4" x2="1034.9" y2="2578.4" stroke="#262626" stroke-width="1.5"/>
<text x="1034.9" y="2597.5" font-family="'Liberation Sans', sans-serif" font-weight="700" font-size="16.8" fill="#262626" stroke="#262626" stroke-width="0.3" text-anchor="middle">180</text>
<line x1="693.4" y1="2573.4" x2="693.4" y2="2576.4" stroke="#262626" stroke-width="1.1"/>
<line x1="755.5" y1="2573.4" x2="755.5" y2="2576.4" stroke="#262626" stroke-width="1.1"/>
<line x1="817.6" y1="2573.4" x2="817.6" y2="2576.4" stroke="#262626" stroke-width="1.1"/>
<line x1="879.7" y1="2573.4" x2="879.7" y2="2576.4" stroke="#262626" stroke-width="1.1"/>
<line x1="941.8" y1="2573.4" x2="941.8" y2="2576.4" stroke="#262626" stroke-width="1.1"/>
<line x1="1003.9" y1="2573.4" x2="1003.9" y2="2576.4" stroke="#262626" stroke-width="1.1"/>
<text x="829" y="2630.7" font-family="'Liberation Sans', sans-serif" font-weight="700" font-size="19" fill="#262626" stroke="#262626" stroke-width="0.3" text-anchor="middle" textLength="233.5" lengthAdjust="spacingAndGlyphs">Specific capacity (mAh g<tspan dy="-6" font-size="11.5">-1</tspan><tspan dy="6">)</tspan></text>
<text transform="translate(603.3,2429.4) rotate(-90)" font-family="'Liberation Sans', sans-serif" font-weight="700" font-size="19" fill="#262626" stroke="#262626" stroke-width="0.3" text-anchor="middle" textLength="173" lengthAdjust="spacingAndGlyphs">Voltage (V vs Li/Li<tspan dy="-6" font-size="11.5">+</tspan><tspan dy="6">)</tspan></text>
<text x="806.8" y="2558.6" font-family="'Liberation Sans', sans-serif" font-weight="700" font-size="17.8" fill="#b5622d" stroke="#b5622d" stroke-width="0.3" textLength="31.9" lengthAdjust="spacingAndGlyphs">20C</text>
<text x="851.7" y="2558.6" font-family="'Liberation Sans', sans-serif" font-weight="700" font-size="17.8" fill="#e0632d" stroke="#e0632d" stroke-width="0.3" textLength="31.6" lengthAdjust="spacingAndGlyphs">15C</text>
<text x="890.9" y="2558.6" font-family="'Liberation Sans', sans-serif" font-weight="700" font-size="17.8" fill="#f57c28" stroke="#f57c28" stroke-width="0.3" textLength="31.6" lengthAdjust="spacingAndGlyphs">10C</text>
<text x="960.7" y="2558.6" font-family="'Liberation Sans', sans-serif" font-weight="700" font-size="17.8" fill="#fbccb2" stroke="#fbccb2" stroke-width="0.3" textLength="37.2" lengthAdjust="spacingAndGlyphs">0.1C</text>
</svg>
<div class="t" style="left:78.8px;top:121.0px;font-size:88px;line-height:88px;color:#fff;font-weight:700;transform:scaleX(1.0078);transform-origin:0 0;">GreenNet Binder</div>
<div class="t" style="left:82.9px;top:340.5px;font-size:54px;line-height:54px;color:#fff;transform:scaleX(0.9973);transform-origin:0 0;">Charging Rate Comparison: GreenNet Binder vs PVDF</div>
<div class="t" style="left:82.0px;top:872.0px;font-size:54px;line-height:54px;color:#fff;transform:scaleX(0.9855);transform-origin:0 0;">Number of Cycle &amp; ICE</div>
<div class="t" style="left:82.3px;top:2065.0px;font-size:54px;line-height:54px;color:#fff;">Fast Charging Comparison: GreenNet Binder <i style="font-size:40px">vs</i> PVDF</div>
<div class="t" style="left:425.2px;top:1037.5px;font-size:33px;line-height:33px;color:#e87b8c;transform:scaleX(0.9343);transform-origin:0 0;">119.69 mAh g-1 (Initial capacity)</div>
<div class="t" style="left:424.1px;top:1078.4px;font-size:33px;line-height:33px;color:#e87b8c;transform:scaleX(0.9888);transform-origin:0 0;">High polarization</div>
<div class="t" style="left:424.2px;top:1160.0px;font-size:33px;line-height:33px;color:#e87b8c;transform:scaleX(0.9545);transform-origin:0 0;">Rapid decrease capacity</div>
<div class="t" style="left:165.5px;top:1248.5px;font-size:33.5px;line-height:33.5px;color:#e87b8c;transform:scaleX(0.9941);transform-origin:0 0;">PVDF</div>
<div class="t" style="left:1336.0px;top:1011.9px;font-size:33px;line-height:33px;color:#f7964f;transform:scaleX(0.9584);transform-origin:0 0;">133.89 mAh g-1 (Initial capacity)</div>
<div class="t" style="left:1335.0px;top:1052.8px;font-size:33px;line-height:33px;color:#f7964f;transform:scaleX(0.9828);transform-origin:0 0;">Low polarization</div>
<div class="t" style="left:1379.0px;top:1093.5px;font-size:33px;line-height:33px;color:#f7964f;transform:scaleX(0.9861);transform-origin:0 0;">conductive network</div>
<div class="t" style="left:1335.9px;top:1135.1px;font-size:33px;line-height:33px;color:#f7964f;transform:scaleX(0.9913);transform-origin:0 0;">Good capacity retention (89.8%)</div>
<div class="t" style="left:1380.0px;top:1176.0px;font-size:33px;line-height:33px;color:#f7964f;transform:scaleX(0.9641);transform-origin:0 0;">Additional Li<sup style="font-size:0.5em;vertical-align:0.55em;line-height:0">+</sup> pathways</div>
<div class="t" style="left:963.4px;top:1244.3px;font-size:35.7px;line-height:35.7px;color:#f7964f;">GreenNet Binder</div>
<div class="t" style="left:437.0px;top:1386.8px;font-size:29.2px;line-height:29.2px;color:#fff;transform:scaleX(0.9160);transform-origin:0 0;">1<sup style="font-size:0.55em;vertical-align:0.62em;line-height:0">st</sup> capacity: 119.69</div>
<div class="t" style="left:437.8px;top:1424.4px;font-size:29.2px;line-height:29.2px;color:#fff;transform:scaleX(1.0076);transform-origin:0 0;">300<sup style="font-size:0.55em;vertical-align:0.62em;line-height:0">th</sup> capacity: 80.37</div>
<div class="t" style="left:436.9px;top:1489.7px;font-size:29.2px;line-height:29.2px;color:#fff;transform:scaleX(0.9443);transform-origin:0 0;">1<sup style="font-size:0.55em;vertical-align:0.62em;line-height:0">st</sup> capacity: 133.89</div>
<div class="t" style="left:437.8px;top:1527.5px;font-size:29.2px;line-height:29.2px;color:#fff;transform:scaleX(0.9783);transform-origin:0 0;">300<sup style="font-size:0.55em;vertical-align:0.62em;line-height:0">th</sup> capacity: 120.23</div>
<div class="t" style="left:437.9px;top:1658.8px;font-size:29.2px;line-height:29.2px;color:#fff;transform:scaleX(0.9472);transform-origin:0 0;">Charging capacity: 172.14</div>
<div class="t" style="left:436.9px;top:1696.0px;font-size:29.2px;line-height:29.2px;color:#fff;transform:scaleX(0.9580);transform-origin:0 0;">Discharging capacity: 119.69</div>
<div class="t" style="left:437.8px;top:1761.0px;font-size:29.2px;line-height:29.2px;color:#fff;transform:scaleX(0.9736);transform-origin:0 0;">Charging capacity: 170.05</div>
<div class="t" style="left:436.8px;top:1798.9px;font-size:29.2px;line-height:29.2px;color:#fff;transform:scaleX(0.9768);transform-origin:0 0;">Discharging capacity: 133.89</div>
<div class="t" style="left:150.9px;top:1435.6px;font-size:61.5px;line-height:61.5px;color:#4f4f4f;transform:scaleX(0.9551);transform-origin:0 0;-webkit-text-stroke:1.1px #fff;">#Cycle</div>
<div class="t" style="left:195.0px;top:1715.2px;font-size:62.5px;line-height:62.5px;color:#4f4f4f;transform:scaleX(0.8260);transform-origin:0 0;-webkit-text-stroke:1.1px #fff;">ICE</div>
<div class="t" style="left:268.0px;top:1914.7px;font-size:34px;line-height:34px;color:#555555;transform:scaleX(0.9655);transform-origin:0 0;">PVDF</div>
<div class="t" style="left:560.8px;top:1914.7px;font-size:34px;line-height:34px;color:#555555;transform:scaleX(1.0352);transform-origin:0 0;">GreenNet Binder</div>
<div class="t" style="left:1138.9px;top:1402.6px;font-size:32.5px;line-height:32.5px;color:#555555;transform:scaleX(0.9699);transform-origin:0 0;">Cycle maintenance rate (300<sup style="font-size:0.55em;vertical-align:0.62em;line-height:0">th</sup>): 67.1%</div>
<div class="t" style="left:1138.8px;top:1507.2px;font-size:32.5px;line-height:32.5px;color:#555555;transform:scaleX(0.9927);transform-origin:0 0;">Cycle maintenance rate (300<sup style="font-size:0.55em;vertical-align:0.62em;line-height:0">th</sup>): 89.8%</div>
<div class="t" style="left:1137.9px;top:1673.5px;font-size:32.5px;line-height:32.5px;color:#555555;transform:scaleX(0.9710);transform-origin:0 0;">Efficiency: 69.5%</div>
<div class="t" style="left:1137.9px;top:1778.1px;font-size:32.5px;line-height:32.5px;color:#555555;transform:scaleX(0.9665);transform-origin:0 0;">Efficiency: 78.7%</div>
<div class="t" style="left:311.4px;top:2186.0px;font-size:33px;line-height:33px;color:#111111;transform:scaleX(0.9893);transform-origin:0 0;">PVDF</div>
<div class="t" style="left:704.2px;top:2194.3px;font-size:33px;line-height:33px;color:#111111;transform:scaleX(1.0657);transform-origin:0 0;">GreenNet Binder</div>
</body></html>
